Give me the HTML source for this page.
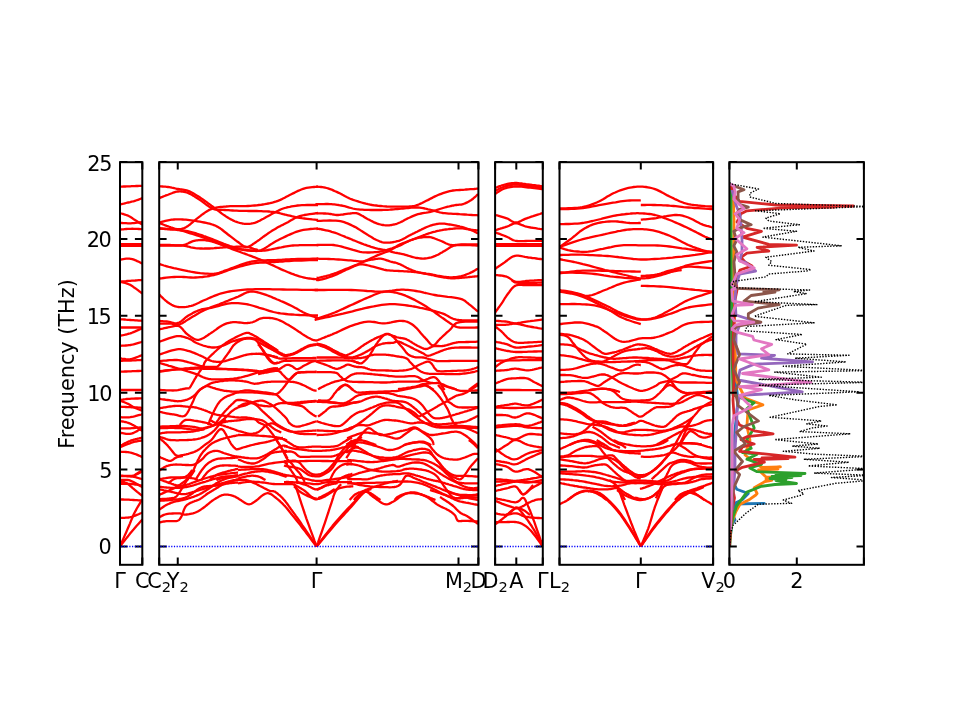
<!DOCTYPE html>
<html><head><meta charset="utf-8"><style>
html,body{margin:0;padding:0;background:#fff;}
svg{display:block;}
.t{font-family:"DejaVu Sans","Liberation Sans",sans-serif;font-size:20.8px;fill:#000;}
.s{font-size:14.6px;}
</style></head><body>
<svg width="960" height="720" viewBox="0 0 960 720">
<defs><clipPath id="bc"><rect x="120.0" y="162.2" width="22.30" height="402.6"/><rect x="159.2" y="162.2" width="319.20" height="402.6"/><rect x="495.1" y="162.2" width="47.70" height="402.6"/><rect x="559.5" y="162.2" width="153.60" height="402.6"/></clipPath></defs><g clip-path="url(#bc)" fill="none" stroke="#ff0000" stroke-width="2.3" stroke-linejoin="round" stroke-linecap="butt"><path d="M120.0,186.7L120.9,186.7L122.1,186.6L123.6,186.5L125.2,186.5L126.9,186.4L128.6,186.3L130.2,186.3L131.7,186.2L133.2,186.1L134.7,186.1L136.2,186.0L137.7,186.0L139.1,185.9L140.4,185.9L141.5,185.8L142.3,185.8"/><path d="M120.0,204.4L120.7,204.3L121.5,204.1L122.6,203.8L123.7,203.6L124.9,203.3L126.1,203.0L127.3,202.7L128.3,202.5L129.2,202.3L130.1,202.1L130.9,201.9L131.7,201.7L132.5,201.5L133.3,201.3L134.1,201.1L135.0,200.8L135.9,200.5L137.0,200.2L138.0,199.8L139.1,199.4L140.1,199.0L141.0,198.7L141.7,198.4L142.3,198.2"/><path d="M120.0,213.1L120.7,213.3L121.5,213.5L122.6,213.8L123.7,214.2L124.9,214.6L126.1,215.0L127.3,215.4L128.3,215.8L129.2,216.3L130.1,216.7L130.9,217.2L131.7,217.8L132.5,218.3L133.3,218.9L134.1,219.4L135.0,220.0L135.9,220.6L137.0,221.2L138.0,221.9L139.1,222.6L140.1,223.2L141.0,223.8L141.7,224.2L142.3,224.6"/><path d="M120.0,222.9L120.8,222.9L121.9,223.0L123.2,223.1L124.7,223.2L126.2,223.2L127.8,223.3L129.3,223.3L130.8,223.3L132.3,223.2L133.9,223.1L135.6,222.9L137.2,222.7L138.8,222.5L140.2,222.4L141.4,222.2L142.3,222.1"/><path d="M120.0,229.6L120.8,229.5L121.9,229.4L123.2,229.3L124.7,229.1L126.2,229.0L127.8,228.9L129.3,228.8L130.8,228.8L132.3,228.7L133.9,228.8L135.6,228.8L137.2,228.9L138.8,229.0L140.2,229.1L141.4,229.2L142.3,229.2"/><path d="M120.0,244.1L120.8,244.1L122.0,244.1L123.3,244.1L124.8,244.1L126.4,244.1L128.0,244.1L129.5,244.1L131.0,244.1L132.5,244.1L134.1,244.1L135.7,244.1L137.3,244.1L138.9,244.1L140.3,244.1L141.4,244.1L142.3,244.1"/><path d="M120.0,245.9L120.8,245.9L122.0,245.9L123.3,245.9L124.8,245.9L126.4,245.9L128.0,245.9L129.5,245.9L131.0,245.9L132.5,245.9L134.1,245.9L135.7,245.9L137.3,245.9L138.9,245.9L140.3,245.9L141.4,245.9L142.3,245.9"/><path d="M120.0,259.6L120.8,259.5L121.9,259.3L123.2,259.1L124.7,258.9L126.2,258.7L127.8,258.6L129.3,258.6L130.8,258.8L132.3,259.1L133.9,259.7L135.6,260.3L137.2,261.1L138.8,261.8L140.2,262.5L141.4,263.1L142.3,263.5"/><path d="M120.0,281.7L120.8,281.6L121.8,281.5L123.0,281.4L124.4,281.3L125.9,281.2L127.4,281.0L128.9,280.9L130.3,280.8L131.8,280.7L133.5,280.6L135.2,280.5L136.9,280.3L138.6,280.2L140.1,280.1L141.4,280.1L142.3,280.0"/><path d="M120.0,281.7L120.7,281.9L121.6,282.1L122.7,282.4L123.9,282.7L125.2,283.0L126.5,283.4L127.7,283.8L128.7,284.2L129.6,284.6L130.5,285.1L131.3,285.6L132.1,286.1L132.9,286.6L133.7,287.2L134.5,287.7L135.3,288.3L136.2,288.9L137.2,289.6L138.2,290.4L139.2,291.2L140.2,291.9L141.0,292.5L141.8,293.1L142.3,293.5"/><path d="M120.0,319.2L120.8,319.3L121.8,319.3L123.0,319.4L124.4,319.5L125.9,319.7L127.4,319.8L128.9,319.9L130.3,320.0L131.8,320.1L133.5,320.2L135.2,320.3L136.9,320.4L138.6,320.6L140.1,320.7L141.4,320.7L142.3,320.8"/><path d="M120.0,327.5L120.8,327.5L122.0,327.5L123.3,327.5L124.8,327.5L126.4,327.5L128.0,327.5L129.5,327.5L131.0,327.5L132.5,327.5L134.1,327.5L135.7,327.5L137.3,327.5L138.9,327.5L140.3,327.5L141.4,327.5L142.3,327.5"/><path d="M120.0,335.8L120.8,335.6L121.8,335.4L123.0,335.2L124.4,334.9L125.9,334.5L127.4,334.2L128.9,333.7L130.3,333.3L131.8,332.8L133.5,332.1L135.2,331.4L136.9,330.6L138.6,329.9L140.1,329.3L141.4,328.7L142.3,328.3"/><path d="M120.0,345.8L120.8,345.8L121.8,345.7L123.0,345.7L124.4,345.6L125.9,345.5L127.4,345.4L128.9,345.2L130.3,345.0L131.8,344.7L133.5,344.3L135.2,343.8L136.9,343.3L138.6,342.8L140.1,342.4L141.4,342.0L142.3,341.7"/><path d="M120.0,358.3L120.8,358.4L121.8,358.6L123.0,358.8L124.4,359.0L125.9,359.2L127.4,359.3L128.9,359.3L130.3,359.2L131.8,358.9L133.5,358.4L135.2,357.8L136.9,357.2L138.6,356.5L140.1,355.9L141.4,355.4L142.3,355.0"/><path d="M120.0,360.8L120.8,360.8L122.0,360.8L123.3,360.7L124.8,360.7L126.4,360.6L128.0,360.6L129.5,360.5L131.0,360.5L132.5,360.4L134.1,360.4L135.7,360.3L137.3,360.2L138.9,360.2L140.3,360.1L141.4,360.0L142.3,360.0"/><path d="M120.0,371.7L120.8,371.7L122.0,371.6L123.3,371.6L124.8,371.5L126.4,371.5L128.0,371.4L129.5,371.4L131.0,371.3L132.5,371.2L134.1,371.2L135.7,371.1L137.3,371.0L138.9,371.0L140.3,370.9L141.4,370.8L142.3,370.8"/><path d="M120.0,390.0L120.8,390.0L122.0,390.0L123.3,390.0L124.8,390.0L126.4,390.0L128.0,390.0L129.5,390.0L131.0,390.0L132.5,390.0L134.1,390.0L135.7,390.0L137.3,390.0L138.9,390.0L140.3,390.0L141.4,390.0L142.3,390.0"/><path d="M120.0,400.0L120.6,399.9L121.3,399.8L122.2,399.6L123.2,399.5L124.3,399.3L125.5,399.2L126.7,399.0L128.1,398.9L129.7,398.8L131.6,398.7L133.6,398.6L135.7,398.5L137.7,398.5L139.6,398.4L141.2,398.3L142.3,398.3"/><path d="M120.0,400.6L120.6,400.9L121.5,401.2L122.6,401.6L123.7,402.0L124.9,402.5L126.1,403.0L127.2,403.5L128.1,403.9L128.9,404.3L129.6,404.7L130.3,405.1L130.9,405.5L131.5,405.9L132.1,406.4L132.9,406.8L133.7,407.2L134.7,407.7L135.8,408.2L137.1,408.7L138.3,409.2L139.6,409.7L140.7,410.1L141.6,410.5L142.3,410.8"/><path d="M120.0,406.7L120.8,406.7L121.8,406.8L123.0,406.8L124.4,406.9L125.9,407.0L127.4,407.1L128.9,407.1L130.3,407.2L131.8,407.3L133.5,407.4L135.2,407.4L136.9,407.5L138.6,407.6L140.1,407.7L141.4,407.8L142.3,407.8"/><path d="M120.0,417.2L120.8,417.2L121.8,417.3L123.0,417.3L124.4,417.4L125.9,417.4L127.4,417.4L128.9,417.3L130.3,417.2L131.8,416.9L133.5,416.6L135.2,416.2L136.9,415.7L138.6,415.2L140.1,414.8L141.4,414.5L142.3,414.2"/><path d="M120.0,421.1L120.6,421.2L121.5,421.4L122.5,421.5L123.6,421.7L124.8,422.0L126.0,422.2L127.1,422.5L128.1,422.8L129.0,423.1L129.9,423.5L130.7,423.9L131.5,424.2L132.3,424.7L133.1,425.1L133.9,425.6L134.8,426.1L135.8,426.7L136.8,427.3L137.9,428.0L139.0,428.8L140.0,429.5L140.9,430.1L141.7,430.6L142.3,431.0"/><path d="M120.0,428.3L120.8,428.3L121.8,428.3L123.0,428.3L124.4,428.4L125.9,428.4L127.4,428.4L128.9,428.4L130.3,428.3L131.8,428.2L133.5,428.1L135.2,427.9L136.9,427.7L138.6,427.6L140.1,427.4L141.4,427.3L142.3,427.2"/><path d="M120.0,432.8L120.6,432.9L121.5,433.0L122.6,433.2L123.7,433.4L124.9,433.6L126.1,433.8L127.2,433.9L128.1,433.9L128.9,433.9L129.6,433.9L130.3,433.8L130.9,433.7L131.5,433.6L132.1,433.4L132.9,433.1L133.7,432.8L134.7,432.3L135.8,431.7L137.1,431.1L138.3,430.3L139.6,429.6L140.7,428.9L141.6,428.4L142.3,428.0"/><path d="M120.0,446.1L120.6,445.7L121.5,445.3L122.5,444.7L123.6,444.0L124.8,443.4L126.0,442.8L127.1,442.2L128.1,441.7L129.0,441.3L129.9,441.0L130.7,440.7L131.5,440.4L132.3,440.1L133.1,439.9L133.9,439.6L134.8,439.4L135.8,439.1L136.8,438.9L137.9,438.6L139.0,438.4L140.0,438.1L140.9,437.9L141.7,437.7L142.3,437.6"/><path d="M120.0,447.2L120.6,446.9L121.5,446.6L122.5,446.2L123.6,445.7L124.8,445.2L126.0,444.7L127.1,444.3L128.1,443.9L129.0,443.6L129.9,443.3L130.7,443.0L131.5,442.7L132.3,442.4L133.1,442.2L133.9,441.9L134.8,441.7L135.8,441.5L136.8,441.3L137.9,441.1L139.0,440.9L140.0,440.8L140.9,440.6L141.7,440.5L142.3,440.4"/><path d="M120.0,451.7L120.6,451.7L121.5,451.8L122.5,451.8L123.6,451.8L124.8,451.9L126.0,452.0L127.1,452.1L128.1,452.2L129.0,452.3L129.9,452.5L130.7,452.7L131.5,452.9L132.3,453.1L133.1,453.3L133.9,453.6L134.8,453.9L135.8,454.2L136.8,454.6L137.9,455.1L139.0,455.6L140.0,456.0L140.9,456.4L141.7,456.8L142.3,457.0"/><path d="M134.8,475.0L142.3,470.2"/><path d="M120.0,475.6L121.0,475.6L122.3,475.7L123.9,475.8L125.7,475.9L127.5,475.9L129.4,475.9L131.1,475.8L132.6,475.6L134.0,475.3L135.5,474.8L136.9,474.2L138.2,473.6L139.5,472.9L140.6,472.3L141.6,471.8L142.3,471.5"/><path d="M120.0,476.1L121.0,476.1L122.3,476.2L123.9,476.2L125.7,476.2L127.5,476.3L129.4,476.4L131.1,476.5L132.6,476.7L134.0,476.9L135.5,477.2L136.9,477.6L138.2,478.0L139.5,478.4L140.6,478.7L141.6,479.0L142.3,479.2"/><path d="M120.0,480.0L120.8,480.0L121.8,480.0L123.0,479.9L124.4,479.9L125.9,479.9L127.4,480.0L128.9,480.2L130.3,480.6L131.8,481.2L133.5,482.0L135.2,482.9L136.9,483.9L138.6,484.9L140.1,485.9L141.4,486.6L142.3,487.2"/><path d="M120.0,482.2L120.5,482.2L121.0,482.2L121.7,482.1L122.5,482.1L123.4,482.1L124.2,482.2L125.1,482.5L126.0,482.8L126.9,483.3L127.8,483.9L128.7,484.6L129.7,485.4L130.7,486.3L131.7,487.2L132.7,488.1L133.7,488.9L134.8,489.8L136.0,490.8L137.2,491.8L138.5,492.8L139.7,493.8L140.7,494.7L141.6,495.4L142.3,496.0"/><path d="M120.0,483.9L120.8,483.9L121.8,483.9L123.0,483.8L124.4,483.8L125.9,483.8L127.4,483.8L128.9,483.8L130.3,483.9L131.8,484.0L133.5,484.2L135.2,484.5L136.9,484.7L138.6,485.0L140.1,485.3L141.4,485.5L142.3,485.6"/><path d="M120.0,499.4L120.8,499.4L121.8,499.5L123.0,499.5L124.4,499.6L125.9,499.6L127.4,499.7L128.9,499.7L130.3,499.8L131.8,499.9L133.5,500.0L135.2,500.1L136.9,500.2L138.6,500.3L140.1,500.4L141.4,500.5L142.3,500.6"/><path d="M120.0,517.8L120.8,517.8L121.8,517.8L123.0,517.8L124.4,517.8L125.9,517.7L127.4,517.6L128.9,517.5L130.3,517.2L131.8,516.8L133.5,516.2L135.2,515.6L136.9,514.9L138.6,514.2L140.1,513.5L141.4,513.0L142.3,512.6"/><path d="M120.0,546.5L120.6,545.0L121.5,543.1L122.5,540.7L123.6,538.1L124.8,535.4L126.0,532.7L127.1,530.1L128.1,527.8L129.0,525.7L129.9,523.6L130.7,521.6L131.5,519.6L132.3,517.7L133.1,515.8L133.9,514.0L134.8,512.2L135.8,510.4L136.8,508.5L137.9,506.7L139.0,504.9L140.0,503.2L140.9,501.7L141.7,500.5L142.3,499.5"/><path d="M120.0,546.5L120.8,545.5L121.8,544.1L123.0,542.5L124.4,540.8L125.9,538.9L127.4,537.0L128.9,535.1L130.3,533.3L131.8,531.5L133.5,529.6L135.2,527.6L136.9,525.6L138.6,523.7L140.1,522.0L141.4,520.6L142.3,519.5"/><path d="M158.0,222.5L158.8,222.8L159.8,223.2L161.0,223.7L162.4,224.2L163.8,224.8L165.3,225.4L166.7,225.9L168.0,226.3L169.3,226.8L170.5,227.2L171.8,227.7L173.1,228.1L174.4,228.5L175.6,228.8L176.8,229.1L178.0,229.2L179.1,229.2L180.2,229.1L181.2,229.0L182.2,228.8L183.2,228.4L184.2,228.1L185.2,227.6L186.3,227.0L187.5,226.3L188.7,225.4L190.0,224.5L191.2,223.4L192.5,222.3L193.8,221.2L195.1,220.2L196.3,219.2L197.6,218.2L198.9,217.2L200.2,216.2L201.4,215.2L202.7,214.2L204.0,213.3L205.2,212.4L206.3,211.7L207.4,211.0L208.4,210.4L209.4,209.9L210.3,209.5L211.2,209.1L212.3,208.7L213.4,208.3L214.7,208.0L216.0,207.7L217.5,207.4L219.0,207.2L220.6,207.0L222.3,206.8L224.1,206.6L226.0,206.5L228.0,206.3L230.2,206.2L232.6,206.2L235.2,206.2L237.8,206.2L240.5,206.2L243.1,206.2L245.6,206.1L248.0,206.0L250.3,205.9L252.5,205.7L254.6,205.5L256.8,205.3L258.8,205.0L260.8,204.8L262.8,204.5L264.7,204.2L266.5,203.8L268.2,203.5L269.9,203.2L271.5,202.8L273.1,202.4L274.7,201.9L276.4,201.4L278.0,200.8L279.7,200.2L281.3,199.4L283.0,198.5L284.7,197.7L286.3,196.8L288.0,195.9L289.7,195.0L291.3,194.2L293.0,193.4L294.7,192.6L296.3,191.7L298.0,190.9L299.7,190.2L301.3,189.5L303.0,188.9L304.7,188.3L306.4,187.9L308.3,187.6L310.3,187.3L312.2,187.1L314.0,187.0L315.6,186.9L317.0,186.8L318.0,186.7"/><path d="M158.0,186.2L158.8,186.2L159.8,186.3L161.0,186.4L162.4,186.5L163.8,186.6L165.3,186.7L166.7,186.8L168.0,187.0L169.2,187.2L170.5,187.4L171.8,187.7L173.0,187.9L174.2,188.2L175.5,188.5L176.8,188.8L178.0,189.0L179.2,189.2L180.5,189.4L181.7,189.5L182.9,189.6L184.1,189.8L185.4,190.1L186.7,190.4L188.0,190.8L189.4,191.4L190.8,192.1L192.2,192.8L193.6,193.6L195.1,194.5L196.6,195.4L198.1,196.3L199.7,197.3L201.3,198.4L202.9,199.5L204.6,200.7L206.3,201.9L208.0,203.2L209.7,204.4L211.4,205.7L213.0,206.8L214.5,208.0L216.1,209.1L217.6,210.3L219.0,211.4L220.5,212.5L221.9,213.6L223.3,214.6L224.7,215.5L226.0,216.4L227.3,217.2L228.5,218.0L229.8,218.7L231.0,219.4L232.2,220.0L233.4,220.6L234.7,221.2L235.9,221.7L237.2,222.1L238.4,222.5L239.7,222.9L240.9,223.2L242.2,223.5L243.4,223.7L244.7,223.8L245.9,223.9L247.2,223.9L248.4,223.9L249.7,223.8L250.9,223.7L252.2,223.4L253.4,223.2L254.7,222.8L255.9,222.4L257.2,221.9L258.4,221.3L259.7,220.7L260.9,220.0L262.2,219.3L263.4,218.7L264.7,218.0L265.9,217.3L267.2,216.6L268.4,215.9L269.7,215.2L270.9,214.5L272.2,213.8L273.4,213.1L274.7,212.5L275.9,211.9L277.0,211.3L278.2,210.7L279.4,210.1L280.6,209.5L281.8,209.0L283.2,208.5L284.7,208.0L286.3,207.6L288.0,207.1L289.8,206.8L291.6,206.4L293.6,206.1L295.6,205.8L297.6,205.5L299.7,205.3L301.9,205.2L304.4,205.1L307.1,205.0L309.8,205.0L312.3,205.0L314.6,205.0L316.6,205.0L318.0,205.0"/><path d="M158.0,198.7L158.8,198.4L159.8,197.9L161.0,197.4L162.4,196.9L163.8,196.3L165.3,195.7L166.7,195.2L168.0,194.7L169.2,194.2L170.5,193.7L171.8,193.2L173.0,192.7L174.2,192.3L175.5,191.9L176.8,191.7L178.0,191.5L179.2,191.4L180.5,191.4L181.7,191.5L182.9,191.6L184.1,191.8L185.4,192.1L186.7,192.5L188.0,193.0L189.4,193.6L190.8,194.3L192.2,195.1L193.6,195.9L195.1,196.9L196.6,197.8L198.1,198.8L199.7,199.8L201.3,200.9L202.9,202.1L204.6,203.4L206.3,204.7L208.0,205.9L209.7,207.1L211.4,208.1L213.0,208.8L214.5,209.4L215.9,209.7L217.3,209.9L218.6,209.9L220.0,209.9L221.4,209.9L223.0,209.9L224.7,210.0L226.5,210.1L228.4,210.2L230.4,210.4L232.5,210.5L234.6,210.6L236.8,210.7L239.1,210.8L241.3,210.8L243.7,210.9L246.3,210.9L248.9,211.0L251.5,211.0L254.2,211.0L256.7,211.0L259.1,211.1L261.3,211.2L263.3,211.3L265.2,211.3L267.0,211.4L268.6,211.5L270.2,211.7L271.7,211.8L273.2,212.0L274.7,212.2L276.0,212.4L277.3,212.6L278.4,212.9L279.6,213.2L280.7,213.5L281.9,213.8L283.2,214.2L284.7,214.5L286.3,214.9L288.0,215.3L289.8,215.7L291.6,216.2L293.6,216.6L295.6,217.1L297.6,217.5L299.7,217.8L301.9,218.2L304.4,218.5L307.1,218.8L309.8,219.1L312.3,219.4L314.6,219.6L316.6,219.8L318.0,220.0"/><path d="M158.0,223.0L158.8,222.8L159.8,222.5L161.0,222.1L162.4,221.7L163.8,221.3L165.3,220.9L166.7,220.6L168.0,220.3L169.2,220.1L170.4,219.9L171.6,219.7L172.8,219.6L174.0,219.5L175.3,219.4L176.6,219.4L178.0,219.3L179.5,219.3L181.0,219.4L182.6,219.5L184.2,219.6L185.9,219.7L187.7,219.9L189.5,220.1L191.3,220.3L193.3,220.6L195.4,220.9L197.6,221.3L199.9,221.7L202.1,222.1L204.2,222.5L206.2,222.9L208.0,223.3L209.6,223.7L211.0,224.1L212.2,224.5L213.4,224.9L214.5,225.3L215.7,225.8L216.8,226.4L218.0,227.0L219.2,227.8L220.5,228.6L221.8,229.5L223.0,230.5L224.2,231.5L225.5,232.5L226.8,233.5L228.0,234.5L229.3,235.5L230.5,236.4L231.8,237.4L233.1,238.4L234.4,239.4L235.6,240.3L236.8,241.2L238.0,242.0L239.1,242.8L240.2,243.7L241.2,244.5L242.3,245.3L243.3,246.0L244.3,246.6L245.3,247.0L246.3,247.2L247.4,247.1L248.4,246.9L249.4,246.4L250.4,245.9L251.4,245.2L252.5,244.5L253.5,243.7L254.7,243.0L255.8,242.2L257.0,241.4L258.3,240.5L259.6,239.6L260.8,238.6L262.1,237.7L263.4,236.7L264.7,235.8L265.9,235.0L267.1,234.1L268.3,233.3L269.6,232.4L270.8,231.6L272.0,230.8L273.3,230.0L274.7,229.2L276.0,228.4L277.4,227.6L278.8,226.8L280.3,226.1L281.8,225.3L283.3,224.6L284.8,223.8L286.3,223.0L287.9,222.2L289.4,221.3L291.0,220.3L292.6,219.4L294.2,218.5L295.9,217.6L297.7,216.8L299.7,216.2L301.8,215.6L304.3,215.0L307.0,214.6L309.7,214.2L312.2,213.8L314.6,213.5L316.6,213.2L318.0,213.0"/><path d="M158.0,228.3L158.8,228.4L159.8,228.5L161.0,228.6L162.4,228.8L163.8,228.9L165.3,229.1L166.7,229.2L168.0,229.3L169.2,229.4L170.4,229.5L171.6,229.5L172.8,229.6L174.0,229.7L175.3,229.7L176.6,229.9L178.0,230.0L179.5,230.2L181.0,230.3L182.6,230.5L184.2,230.7L185.9,230.9L187.7,231.2L189.5,231.6L191.3,232.0L193.3,232.5L195.3,233.1L197.3,233.8L199.5,234.5L201.6,235.2L203.8,236.0L205.9,236.7L208.0,237.5L210.1,238.3L212.2,239.1L214.4,240.0L216.5,240.9L218.7,241.8L220.7,242.6L222.7,243.4L224.7,244.2L226.5,244.8L228.2,245.4L229.9,246.0L231.5,246.5L233.1,247.0L234.7,247.5L236.4,247.9L238.0,248.3L239.7,248.7L241.4,249.1L243.1,249.4L244.9,249.7L246.6,250.0L248.2,250.2L249.8,250.4L251.3,250.5L252.7,250.6L254.0,250.7L255.2,250.8L256.3,250.9L257.5,250.9L258.7,250.7L259.9,250.4L261.3,250.0L262.8,249.3L264.4,248.5L266.1,247.5L267.8,246.4L269.5,245.2L271.3,244.1L273.0,243.0L274.7,242.0L276.3,241.1L278.0,240.2L279.7,239.3L281.3,238.5L283.0,237.7L284.7,236.9L286.3,236.1L288.0,235.3L289.6,234.6L291.3,233.9L292.9,233.2L294.5,232.5L296.1,231.9L297.8,231.3L299.5,230.8L301.3,230.3L303.4,229.9L305.7,229.6L308.1,229.3L310.5,229.0L312.8,228.8L314.9,228.6L316.7,228.5L318.0,228.3"/><path d="M158.0,228.3L158.8,228.4L159.8,228.4L161.0,228.5L162.4,228.5L163.8,228.6L165.3,228.7L166.7,228.8L168.0,228.8L169.2,228.9L170.3,228.9L171.5,228.9L172.6,229.0L173.8,229.0L175.0,229.2L176.4,229.4L178.0,229.7L179.8,230.1L181.7,230.6L183.8,231.2L185.9,231.9L188.1,232.6L190.3,233.3L192.5,234.0L194.7,234.7L196.8,235.3L198.8,236.0L200.9,236.7L203.0,237.4L205.1,238.1L207.2,238.8L209.3,239.5L211.3,240.3L213.4,241.2L215.5,242.0L217.6,243.0L219.7,243.9L221.7,244.8L223.8,245.7L225.9,246.6L228.0,247.5L230.1,248.3L232.2,249.1L234.4,249.9L236.5,250.7L238.7,251.5L240.7,252.2L242.7,253.0L244.7,253.7L246.5,254.3L248.2,255.0L249.9,255.6L251.5,256.2L253.1,256.8L254.7,257.4L256.4,258.0L258.0,258.7L259.7,259.4L261.3,260.1L263.0,260.8L264.7,261.6L266.3,262.4L268.0,263.1L269.7,263.9L271.3,264.7L273.0,265.4L274.7,266.2L276.3,267.0L278.0,267.8L279.7,268.6L281.3,269.4L283.0,270.1L284.7,270.8L286.4,271.5L288.1,272.2L289.8,272.9L291.5,273.6L293.2,274.2L294.9,274.8L296.5,275.3L298.0,275.8L299.4,276.3L300.7,276.7L302.0,277.0L303.2,277.3L304.4,277.6L305.6,277.9L306.8,278.1L308.0,278.3L309.3,278.5L310.7,278.7L312.2,278.9L313.6,279.0L315.0,279.1L316.2,279.2L317.2,279.3L318.0,279.3"/><path d="M158.0,245.0L158.7,245.0L159.7,245.0L160.8,245.0L162.1,245.0L163.4,245.0L164.9,245.0L166.4,245.0L168.0,245.0L169.7,245.0L171.5,245.1L173.5,245.2L175.5,245.3L177.5,245.4L179.5,245.4L181.3,245.3L183.0,245.2L184.5,244.8L185.9,244.4L187.2,243.8L188.4,243.3L189.6,242.6L190.7,242.1L191.8,241.6L193.0,241.2L194.1,240.9L195.3,240.6L196.3,240.4L197.4,240.3L198.5,240.1L199.5,240.1L200.6,240.0L201.7,240.0L202.8,240.0L203.8,240.1L204.9,240.2L206.0,240.3L207.1,240.5L208.2,240.7L209.3,240.9L210.5,241.2L211.7,241.5L213.0,241.8L214.3,242.2L215.6,242.7L216.9,243.1L218.1,243.5L219.4,244.0L220.5,244.3L221.5,244.7L222.5,245.0L223.4,245.3L224.2,245.6L225.1,245.9L226.0,246.2L227.0,246.5L228.0,246.8L229.1,247.1L230.2,247.4L231.4,247.7L232.6,248.1L233.9,248.3L235.2,248.6L236.6,248.9L238.0,249.2L239.5,249.4L241.1,249.7L242.8,249.9L244.5,250.2L246.2,250.4L247.9,250.6L249.6,250.7L251.3,250.8L253.0,250.9L254.7,250.9L256.3,251.0L258.0,250.9L259.7,250.9L261.3,250.8L263.0,250.7L264.7,250.5L266.3,250.3L268.0,250.0L269.7,249.7L271.3,249.4L273.0,249.0L274.7,248.7L276.3,248.3L278.0,248.0L279.7,247.7L281.3,247.4L283.0,247.0L284.7,246.7L286.3,246.4L288.0,246.1L289.7,245.9L291.3,245.7L293.0,245.5L294.7,245.4L296.3,245.3L298.0,245.3L299.7,245.2L301.3,245.2L303.0,245.2L304.7,245.2L306.4,245.1L308.3,245.1L310.3,245.1L312.2,245.1L314.0,245.1L315.6,245.2L317.0,245.2L318.0,245.2"/><path d="M158.0,245.7L158.7,245.7L159.7,245.7L160.8,245.7L162.1,245.7L163.4,245.7L164.9,245.7L166.4,245.7L168.0,245.7L169.7,245.6L171.5,245.6L173.4,245.6L175.3,245.5L177.3,245.5L179.3,245.5L181.2,245.5L183.0,245.7L184.7,245.9L186.3,246.2L187.9,246.5L189.4,246.9L190.9,247.3L192.4,247.6L194.0,247.9L195.5,248.2L197.1,248.3L198.6,248.4L200.2,248.5L201.8,248.5L203.3,248.6L204.9,248.5L206.4,248.5L208.0,248.5L209.6,248.5L211.1,248.4L212.7,248.3L214.2,248.2L215.8,248.0L217.4,247.9L218.9,247.8L220.5,247.7L222.1,247.6L223.6,247.4L225.2,247.3L226.7,247.2L228.3,247.1L229.8,247.0L231.4,246.9L233.0,246.8L234.7,246.8L236.4,246.7L238.2,246.7L240.0,246.7L241.8,246.7L243.4,246.7L245.0,246.7L246.3,246.8L247.5,247.0L248.5,247.2L249.4,247.4L250.2,247.7L250.9,247.9L251.6,248.2L252.3,248.4L253.0,248.7L253.7,248.9L254.5,249.1L255.2,249.3L255.9,249.4L256.6,249.6L257.1,249.8L257.6,249.9L258.0,250.0"/><path d="M158.0,263.7L158.8,263.9L159.8,264.2L161.1,264.6L162.5,265.0L163.9,265.5L165.4,265.9L166.7,266.3L168.0,266.7L169.1,267.0L170.0,267.2L170.9,267.4L171.8,267.6L172.7,267.8L173.8,268.1L175.1,268.3L176.7,268.7L178.5,269.1L180.7,269.6L183.0,270.1L185.5,270.6L188.0,271.2L190.6,271.7L193.1,272.1L195.5,272.5L197.9,272.8L200.3,273.1L202.8,273.3L205.2,273.6L207.6,273.7L209.9,273.8L212.1,273.8L214.2,273.7L216.0,273.5L217.6,273.2L219.0,272.8L220.4,272.3L221.8,271.8L223.2,271.3L224.8,270.6L226.7,270.0L228.8,269.3L231.1,268.4L233.5,267.5L236.1,266.5L238.6,265.6L241.1,264.6L243.4,263.8L245.5,263.2L247.3,262.6L248.9,262.2L250.3,261.8L251.7,261.5L253.0,261.3L254.5,261.1L256.1,260.9L258.0,260.7L260.2,260.5L262.6,260.4L265.2,260.3L267.9,260.2L270.7,260.2L273.3,260.1L275.8,260.1L278.0,260.0L279.9,259.9L281.5,259.8L282.9,259.7L284.3,259.6L285.6,259.5L287.2,259.4L289.1,259.3L291.3,259.2L294.2,259.1L297.7,259.0L301.5,258.9L305.5,258.9L309.4,258.8L312.9,258.7L315.9,258.7L318.0,258.7"/><path d="M158.0,278.7L159.4,278.5L161.4,278.3L163.6,278.0L166.2,277.7L168.8,277.4L171.6,277.2L174.2,277.0L176.7,276.8L179.0,276.8L181.4,276.9L183.7,277.0L186.1,277.2L188.4,277.4L190.8,277.5L193.2,277.6L195.5,277.5L197.8,277.4L200.2,277.2L202.5,277.0L204.8,276.7L207.2,276.4L209.5,276.0L211.8,275.5L214.2,275.0L216.5,274.4L218.9,273.7L221.2,272.8L223.6,272.0L225.9,271.1L228.3,270.2L230.7,269.4L233.0,268.7L235.4,268.0L237.8,267.2L240.3,266.5L242.7,265.8L245.1,265.2L247.4,264.6L249.6,264.1L251.7,263.7L253.5,263.3L255.2,263.1L256.7,262.9L258.2,262.8L259.7,262.7L261.1,262.7L262.6,262.6L264.2,262.5L265.8,262.4L267.5,262.3L269.3,262.2L271.0,262.2L272.8,262.1L274.5,262.0L276.3,261.9L278.0,261.8L279.6,261.7L281.1,261.6L282.5,261.5L283.9,261.3L285.4,261.2L287.1,261.1L289.0,261.0L291.3,260.8L294.2,260.7L297.7,260.6L301.5,260.5L305.5,260.4L309.4,260.2L312.9,260.1L315.9,260.1L318.0,260.0"/><path d="M158.0,293.3L158.8,294.1L159.8,295.1L161.0,296.3L162.4,297.6L163.8,299.0L165.3,300.3L166.7,301.5L168.0,302.5L169.2,303.3L170.4,304.1L171.6,304.8L172.8,305.4L174.0,305.9L175.3,306.4L176.6,306.7L178.0,307.0L179.5,307.2L181.1,307.2L182.8,307.2L184.5,307.1L186.2,306.9L187.9,306.6L189.6,306.2L191.3,305.8L193.0,305.3L194.6,304.7L196.2,304.0L197.8,303.3L199.4,302.5L201.1,301.6L202.8,300.8L204.7,300.0L206.6,299.2L208.6,298.3L210.7,297.4L212.8,296.5L214.9,295.6L217.1,294.8L219.2,294.0L221.3,293.3L223.4,292.8L225.4,292.3L227.4,291.9L229.5,291.5L231.5,291.2L233.6,290.9L235.8,290.6L238.0,290.3L240.3,290.1L242.6,289.9L245.0,289.7L247.5,289.5L250.0,289.4L252.6,289.3L255.2,289.2L258.0,289.2L260.8,289.1L263.7,289.1L266.6,289.2L269.6,289.2L272.7,289.3L275.9,289.4L279.4,289.4L283.0,289.5L287.1,289.6L291.9,289.6L296.9,289.7L302.1,289.8L307.0,289.8L311.5,289.9L315.2,290.0L318.0,290.0"/><path d="M158.0,320.8L158.8,320.9L159.8,321.0L161.0,321.1L162.4,321.2L163.8,321.3L165.3,321.4L166.7,321.5L168.0,321.7L169.2,321.9L170.5,322.2L171.8,322.5L173.0,322.8L174.2,323.1L175.5,323.3L176.8,323.2L178.0,323.0L179.2,322.5L180.5,321.8L181.7,320.9L182.9,319.9L184.1,318.8L185.4,317.7L186.7,316.7L188.0,315.8L189.4,315.0L190.8,314.2L192.2,313.4L193.6,312.6L195.1,311.9L196.6,311.2L198.1,310.6L199.7,310.0L201.2,309.5L202.8,309.2L204.4,308.9L206.0,308.6L207.7,308.4L209.4,308.2L211.2,307.9L213.0,307.5L214.9,307.0L216.9,306.5L219.0,305.8L221.1,305.2L223.3,304.6L225.4,304.1L227.6,303.6L229.7,303.3L231.8,303.2L233.9,303.1L236.0,303.1L238.1,303.2L240.2,303.4L242.3,303.6L244.3,303.9L246.3,304.2L248.3,304.5L250.2,305.0L252.0,305.5L253.8,306.0L255.7,306.6L257.5,307.2L259.4,307.8L261.3,308.3L263.3,308.9L265.3,309.5L267.2,310.2L269.2,310.8L271.3,311.4L273.4,312.0L275.7,312.5L278.0,313.0L280.5,313.4L283.1,313.7L285.9,314.0L288.7,314.3L291.6,314.5L294.4,314.7L297.1,314.8L299.7,315.0L302.2,315.1L304.9,315.2L307.6,315.3L310.2,315.4L312.6,315.4L314.8,315.4L316.6,315.5L318.0,315.5"/><path d="M158.0,323.7L159.1,323.7L160.5,323.7L162.2,323.6L164.1,323.6L166.1,323.6L168.0,323.6L169.8,323.6L171.3,323.7L172.6,323.8L173.7,324.0L174.7,324.2L175.6,324.4L176.5,324.6L177.5,324.7L178.5,324.6L179.7,324.3L181.0,323.8L182.3,323.2L183.7,322.3L185.2,321.4L186.7,320.4L188.2,319.4L189.8,318.4L191.3,317.5L192.9,316.6L194.5,315.7L196.1,314.7L197.7,313.7L199.3,312.8L201.1,311.8L202.8,310.9L204.7,310.0L206.6,309.1L208.6,308.3L210.7,307.4L212.8,306.6L214.9,305.8L217.1,305.0L219.2,304.2L221.3,303.3L223.5,302.5L225.6,301.6L227.8,300.8L230.0,299.9L232.1,299.0L234.2,298.2L236.2,297.4L238.0,296.7L239.7,295.9L241.3,295.1L242.7,294.4L244.1,293.6L245.5,293.0L246.9,292.4L248.2,292.0L249.7,291.7L251.1,291.5L252.5,291.5L254.0,291.7L255.4,291.9L256.8,292.2L258.3,292.5L259.8,292.9L261.3,293.3L262.9,293.8L264.5,294.3L266.1,294.9L267.7,295.5L269.3,296.1L271.1,296.8L272.8,297.6L274.7,298.3L276.6,299.2L278.7,300.0L280.8,301.0L283.0,301.9L285.2,302.9L287.3,303.9L289.4,304.9L291.3,305.8L293.2,306.8L294.9,307.7L296.6,308.6L298.2,309.6L299.8,310.5L301.4,311.3L303.0,312.2L304.7,313.0L306.4,313.8L308.3,314.6L310.3,315.4L312.2,316.1L314.0,316.8L315.6,317.4L317.0,317.9L318.0,318.3"/><path d="M159.2,329.4L160.1,329.2L161.3,328.9L162.7,328.6L164.3,328.2L166.0,327.8L167.6,327.5L169.1,327.1L170.5,326.9L171.7,326.7L172.9,326.4L174.0,326.1L175.1,325.9L176.1,325.8L177.2,325.7L178.2,325.9L179.2,326.2L180.2,326.8L181.1,327.6L182.0,328.5L182.9,329.6L183.8,330.7L184.8,331.8L185.7,332.9L186.7,333.8L187.8,334.6L188.9,335.5L190.0,336.3L191.2,337.1L192.3,337.8L193.4,338.5L194.5,339.0L195.5,339.4L196.4,339.7L197.2,339.8L197.9,339.9L198.6,339.8L199.3,339.7L200.0,339.5L200.9,339.2L201.8,338.8L202.9,338.3L204.0,337.7L205.2,336.9L206.5,336.1L207.8,335.2L209.1,334.3L210.5,333.4L211.8,332.5L213.2,331.6L214.5,330.6L216.0,329.6L217.4,328.5L218.8,327.5L220.3,326.6L221.6,325.7L223.0,325.0L224.3,324.4L225.5,323.9L226.7,323.4L227.9,323.1L229.1,322.8L230.4,322.5L231.6,322.3L233.0,322.2L234.5,322.1L236.1,322.2L237.7,322.4L239.4,322.5L241.1,322.7L242.7,322.9L244.2,323.1L245.5,323.1L246.7,323.1L247.7,323.0L248.6,322.9L249.5,322.8L250.3,322.7L251.2,322.5L252.1,322.3L253.0,322.0L254.0,321.6L255.0,321.2L256.0,320.7L257.1,320.1L258.1,319.6L259.2,319.0L260.2,318.6L261.3,318.3L262.4,318.1L263.4,317.9L264.5,317.8L265.6,317.8L266.7,317.8L267.8,317.8L268.9,317.9L270.0,318.0L271.1,318.1L272.1,318.2L273.1,318.4L274.2,318.6L275.2,318.8L276.3,319.1L277.5,319.5L278.8,320.0L280.2,320.6L281.7,321.3L283.2,322.1L284.8,323.0L286.4,323.9L288.1,324.8L289.7,325.8L291.3,326.7L292.9,327.7L294.5,328.7L296.2,329.9L297.8,331.0L299.4,332.1L301.0,333.1L302.4,334.1L303.8,335.0L305.1,335.8L306.3,336.5L307.4,337.2L308.5,337.8L309.5,338.3L310.5,338.8L311.4,339.2L312.2,339.6L313.0,339.9L313.7,340.1L314.3,340.2L314.9,340.3L315.4,340.3L315.9,340.3L316.3,340.4L316.6,340.4"/><path d="M158.0,342.2L159.5,341.7L161.5,341.0L163.9,340.1L166.6,339.1L169.4,338.1L172.1,337.3L174.6,336.6L176.8,336.2L178.7,336.1L180.5,336.2L182.2,336.5L183.8,336.9L185.3,337.3L186.7,337.8L188.0,338.3L189.2,338.8L190.3,339.2L191.2,339.6L191.9,340.1L192.5,340.5L193.2,341.0L193.8,341.5L194.6,342.0L195.5,342.5L196.6,343.0L197.8,343.5L199.0,344.0L200.3,344.5L201.7,345.0L203.0,345.5L204.3,345.9L205.5,346.2L206.7,346.5L207.8,346.8L208.9,347.0L210.0,347.2L211.0,347.4L212.1,347.5L213.2,347.5L214.2,347.5L215.3,347.4L216.4,347.3L217.5,347.1L218.5,346.9L219.6,346.6L220.7,346.3L221.8,346.0L223.0,345.6L224.2,345.2L225.4,344.7L226.5,344.1L227.8,343.5L229.0,342.9L230.3,342.3L231.6,341.8L233.0,341.2L234.5,340.8L236.0,340.3L237.6,339.8L239.2,339.4L240.9,339.0L242.5,338.6L244.0,338.3L245.5,338.1L246.9,338.0L248.2,337.9L249.5,337.9L250.7,338.0L252.0,338.1L253.1,338.3L254.3,338.5L255.5,338.8L256.6,339.0L257.7,339.4L258.7,339.7L259.6,340.2L260.7,340.6L261.7,341.2L262.9,341.8L264.2,342.5L265.8,343.4L267.7,344.4L269.6,345.6L271.7,346.8L273.6,348.0L275.4,349.1L276.9,350.0L278.0,350.6"/><path d="M189.6,388.2L190.1,387.3L190.8,386.1L191.6,384.7L192.5,383.1L193.5,381.4L194.4,379.7L195.4,378.1L196.2,376.6L197.1,375.3L198.0,373.9L199.0,372.6L199.9,371.2L200.8,370.0L201.6,368.8L202.4,367.6L203.0,366.6L203.5,365.8L203.8,365.0L204.0,364.4L204.1,363.9L204.3,363.3L204.5,362.7L204.9,362.1L205.5,361.2L206.3,360.3L207.2,359.3L208.3,358.2L209.5,357.0L210.7,355.8L211.9,354.7L213.1,353.6L214.2,352.5L215.3,351.5L216.4,350.5L217.5,349.5L218.5,348.6L219.6,347.7L220.7,346.8L221.8,345.9L223.0,345.0L224.2,344.2L225.4,343.3L226.5,342.5L227.8,341.8L229.0,341.0L230.3,340.2L231.6,339.5L233.0,338.8L234.5,338.0L236.1,337.1L237.8,336.3L239.5,335.5L241.2,334.7L242.8,334.0L244.2,333.5L245.5,333.1L246.5,332.9L247.4,332.8L248.0,332.8L248.6,332.9L249.2,333.1L249.9,333.5L250.7,333.9L251.8,334.4L253.0,335.0L254.4,335.8L255.9,336.6L257.5,337.6L259.2,338.7L260.9,339.7L262.6,340.8L264.2,341.9L266.0,343.0L267.9,344.3L269.9,345.7L271.9,347.0L273.8,348.3L275.5,349.5L276.9,350.5L278.0,351.2"/><path d="M201.8,367.2L202.4,367.2L203.3,367.1L204.3,367.1L205.5,367.0L206.7,366.9L207.9,366.9L209.0,366.8L210.0,366.8L210.9,366.8L211.8,366.8L212.7,366.9L213.6,366.9L214.4,367.0L215.2,367.0L215.9,366.9L216.6,366.8L217.3,366.5L217.8,366.2L218.3,365.8L218.8,365.4L219.3,364.9L219.8,364.4L220.2,363.8L220.8,363.2L221.3,362.6L221.8,362.0L222.3,361.3L222.9,360.5L223.4,359.8L223.9,359.0L224.5,358.2L225.0,357.5L225.5,356.8L226.1,356.1L226.6,355.4L227.1,354.6L227.7,353.9L228.2,353.2L228.7,352.5L229.2,351.8L229.8,351.0L230.2,350.2L230.7,349.4L231.2,348.6L231.7,347.9L232.2,347.1L232.7,346.4L233.2,345.8L233.8,345.1L234.4,344.6L235.0,344.0L235.5,343.5L236.2,343.0L236.8,342.5L237.5,342.1L238.2,341.6L239.0,341.2L239.8,340.7L240.7,340.3L241.6,339.9L242.5,339.5L243.4,339.1L244.4,338.9L245.5,338.8L246.6,338.7L247.9,338.6L249.2,338.6L250.6,338.6L251.9,338.8L253.2,339.1L254.4,339.5L255.5,340.0L256.5,340.7L257.3,341.6L258.1,342.7L258.9,343.8L259.6,345.0L260.3,346.3L261.0,347.5L261.8,348.8L262.5,350.0L263.3,351.3L264.1,352.7L265.0,354.0L265.7,355.4L266.5,356.6L267.3,357.8L268.0,358.8L268.7,359.6L269.3,360.4L270.0,361.0L270.6,361.6L271.2,362.1L271.8,362.5L272.4,362.9L273.0,363.1L273.7,363.3L274.4,363.3L275.1,363.2L275.8,363.1L276.5,362.9L277.1,362.7L277.6,362.6L278.0,362.5"/><path d="M158.0,355.0L159.5,354.5L161.5,353.8L163.9,353.0L166.6,352.1L169.4,351.2L172.1,350.4L174.6,349.8L176.8,349.4L178.6,349.2L180.3,349.2L181.9,349.4L183.4,349.6L184.8,350.0L186.3,350.4L187.7,350.8L189.2,351.2L190.8,351.7L192.5,352.3L194.1,352.9L195.7,353.6L197.3,354.3L198.9,355.0L200.4,355.6L201.8,356.2L203.0,356.8L204.2,357.5L205.3,358.1L206.3,358.7L207.3,359.2L208.3,359.8L209.4,360.2L210.5,360.6L211.7,361.0L212.9,361.3L214.0,361.5L215.3,361.7L216.5,361.9L217.8,361.9L219.1,361.9L220.5,361.9L221.9,361.7L223.4,361.4L225.0,361.1L226.6,360.6L228.2,360.2L229.8,359.7L231.4,359.2L233.0,358.8L234.6,358.3L236.1,357.8L237.7,357.3L239.2,356.8L240.8,356.3L242.4,355.8L243.9,355.4L245.5,355.0L247.1,354.7L248.6,354.4L250.2,354.2L251.8,354.0L253.3,353.9L254.9,353.8L256.4,353.7L258.0,353.8L259.6,353.8L261.2,354.0L262.9,354.2L264.6,354.5L266.2,354.8L267.7,355.1L269.2,355.4L270.5,355.6L271.7,355.9L272.9,356.1L274.0,356.4L275.0,356.7L276.0,356.9L276.8,357.2L277.5,357.4L278.0,357.5"/><path d="M158.0,361.2L159.5,361.1L161.5,360.9L163.9,360.7L166.6,360.5L169.4,360.2L172.1,360.1L174.6,360.0L176.8,360.0L178.6,360.1L180.3,360.3L181.9,360.6L183.4,360.9L184.8,361.3L186.3,361.7L187.7,362.1L189.2,362.5L190.8,362.9L192.4,363.4L193.9,363.9L195.5,364.4L197.1,364.9L198.6,365.4L200.2,365.9L201.8,366.2L203.3,366.6L204.7,366.9L206.2,367.1L207.6,367.3L209.1,367.6L210.7,367.7L212.4,367.9L214.2,368.1L216.3,368.3L218.5,368.5L220.8,368.6L223.2,368.8L225.7,368.9L228.2,369.1L230.6,369.2L233.0,369.4L235.4,369.5L237.8,369.7L240.3,369.9L242.8,370.0L245.2,370.2L247.5,370.4L249.7,370.5L251.8,370.6L253.6,370.8L255.3,370.9L256.8,371.0L258.3,371.2L259.7,371.3L261.2,371.3L262.7,371.3L264.2,371.2L266.0,371.1L267.9,370.8L269.9,370.4L271.9,370.0L273.8,369.6L275.5,369.3L276.9,369.0L278.0,368.8"/><path d="M158.0,371.2L160.0,371.1L162.6,370.8L165.8,370.5L169.3,370.1L173.0,369.7L176.6,369.4L180.0,369.0L183.0,368.8L185.7,368.5L188.3,368.3L190.8,368.0L193.2,367.8L195.5,367.6L197.6,367.5L199.7,367.3L201.8,367.2L203.7,367.2L205.6,367.2L207.4,367.2L209.2,367.3L210.8,367.3L212.2,367.4L213.3,367.5L214.2,367.5"/><path d="M158.0,362.5L159.0,362.8L160.2,363.2L161.8,363.6L163.5,364.1L165.3,364.7L167.1,365.2L168.9,365.8L170.5,366.2L172.1,366.7L173.6,367.2L175.2,367.7L176.8,368.1L178.3,368.6L179.9,369.1L181.4,369.5L183.0,370.0L184.6,370.5L186.2,370.9L187.8,371.4L189.4,371.8L191.0,372.3L192.6,372.8L194.1,373.3L195.5,373.8L196.9,374.3L198.2,374.9L199.5,375.5L200.7,376.1L202.0,376.7L203.1,377.2L204.3,377.7L205.5,378.1L206.6,378.4L207.5,378.7L208.4,378.9L209.3,379.1L210.3,379.2L211.4,379.3L212.7,379.3L214.2,379.4L216.2,379.4L218.4,379.4L220.8,379.4L223.4,379.3L226.0,379.2L228.5,379.1L230.9,378.9L233.0,378.8L234.9,378.5L236.6,378.3L238.1,378.0L239.6,377.7L241.1,377.4L242.5,377.0L244.0,376.6L245.5,376.2L247.1,375.8L248.6,375.4L250.2,374.9L251.8,374.4L253.3,373.9L254.9,373.4L256.4,372.9L258.0,372.5L259.6,372.1L261.2,371.6L262.9,371.2L264.6,370.8L266.2,370.4L267.7,370.0L269.2,369.7L270.5,369.4L271.7,369.1L272.9,368.9L274.0,368.7L275.0,368.6L276.0,368.4L276.8,368.3L277.5,368.2L278.0,368.1"/><path d="M258.0,338.3L259.0,339.1L260.2,340.0L261.8,341.2L263.5,342.5L265.3,343.8L267.1,345.2L268.9,346.4L270.5,347.5L272.1,348.5L273.8,349.5L275.6,350.4L277.3,351.4L278.9,352.2L280.5,353.0L281.8,353.6L283.0,354.2L283.9,354.6L284.5,354.9L285.0,355.1L285.3,355.2L285.7,355.2L286.0,355.2L286.5,355.1L287.2,355.0L288.0,354.9L288.9,354.7L289.8,354.5L290.8,354.2L291.9,353.9L293.0,353.5L294.2,353.0L295.5,352.5L296.9,351.8L298.4,351.0L300.1,350.1L301.7,349.1L303.4,348.2L305.1,347.2L306.6,346.5L308.0,345.8L309.3,345.4L310.6,345.0L311.9,344.8L313.1,344.6L314.2,344.4L315.1,344.3L315.9,344.3L316.6,344.2"/><path d="M258.0,341.8L259.0,342.4L260.2,343.1L261.8,343.9L263.5,344.9L265.3,345.9L267.1,346.9L268.9,347.9L270.5,348.8L272.1,349.6L273.8,350.6L275.6,351.5L277.3,352.5L278.9,353.4L280.5,354.2L281.8,354.9L283.0,355.4L283.9,355.8L284.5,356.0L285.0,356.2L285.3,356.2L285.7,356.2L286.0,356.1L286.5,356.0L287.2,355.8L288.0,355.7L288.9,355.5L289.8,355.3L290.8,355.0L291.9,354.7L293.0,354.3L294.2,353.9L295.5,353.3L296.9,352.7L298.4,351.8L300.1,350.9L301.7,350.0L303.4,349.0L305.1,348.1L306.6,347.3L308.0,346.7L309.3,346.2L310.6,345.8L311.9,345.5L313.1,345.3L314.2,345.2L315.1,345.0L315.9,344.9L316.6,344.8"/><path d="M283.0,358.3L284.3,358.3L286.0,358.3L288.0,358.3L290.3,358.3L292.7,358.2L295.1,358.2L297.5,358.2L299.7,358.2L301.9,358.1L304.3,358.1L306.7,358.1L309.2,358.1L311.5,358.1L313.5,358.0L315.3,358.0L316.6,358.0"/><path d="M283.0,360.8L284.3,360.8L286.0,360.8L288.0,360.8L290.3,360.8L292.7,360.7L295.1,360.7L297.5,360.7L299.7,360.7L301.9,360.7L304.3,360.6L306.7,360.6L309.2,360.6L311.5,360.6L313.5,360.6L315.3,360.6L316.6,360.6"/><path d="M258.0,344.2L258.4,344.6L258.9,345.2L259.5,345.8L260.1,346.6L260.8,347.4L261.6,348.2L262.3,349.1L263.0,350.0L263.7,350.9L264.4,352.0L265.1,353.1L265.9,354.2L266.6,355.3L267.4,356.4L268.1,357.4L268.8,358.3L269.6,359.2L270.3,360.0L271.0,360.7L271.7,361.5L272.4,362.1L273.1,362.6L273.9,363.1L274.7,363.3L275.5,363.4L276.3,363.4L277.1,363.2L278.0,362.9L278.9,362.6L279.7,362.3L280.5,361.9L281.3,361.7L282.1,361.4L283.0,361.1L283.8,360.8L284.7,360.5L285.4,360.2L286.1,360.0L286.7,359.7L287.2,359.6"/><path d="M258.0,353.8L258.6,353.8L259.4,353.8L260.3,353.9L261.4,353.9L262.5,354.0L263.8,354.2L265.0,354.3L266.3,354.6L267.8,354.9L269.4,355.4L271.1,355.9L272.8,356.5L274.6,357.1L276.2,357.6L277.6,358.0L278.8,358.3L279.8,358.5L280.6,358.6L281.2,358.7L281.7,358.7L282.1,358.6L282.4,358.6L282.7,358.5L283.0,358.5"/><path d="M258.0,372.5L258.6,372.3L259.5,372.0L260.5,371.7L261.6,371.4L262.8,371.0L264.1,370.6L265.2,370.3L266.3,370.0L267.4,369.7L268.5,369.5L269.6,369.2L270.8,369.0L271.8,368.7L272.9,368.6L273.8,368.4L274.7,368.3L275.4,368.4L275.9,368.5L276.4,368.7L276.8,368.9L277.2,369.1L277.7,369.3L278.2,369.3L278.8,369.2L279.6,368.9L280.5,368.4L281.5,367.8L282.5,367.1L283.6,366.4L284.6,365.8L285.5,365.3L286.3,365.0L287.1,364.8L287.7,364.8L288.4,364.8L288.9,364.9L289.5,365.1L290.1,365.3L290.7,365.6L291.3,365.8L292.0,366.2L292.7,366.6L293.4,367.2L294.1,367.8L294.9,368.3L295.6,368.7L296.4,369.1L297.2,369.2L297.9,369.1L298.7,368.8L299.5,368.4L300.3,368.0L301.2,367.4L302.0,366.9L302.9,366.3L303.8,365.8L304.8,365.3L305.9,364.8L307.0,364.2L308.1,363.6L309.3,363.0L310.3,362.5L311.3,362.0L312.2,361.7L312.9,361.4L313.6,361.3L314.3,361.2L314.9,361.2L315.4,361.2L315.9,361.2L316.3,361.3L316.6,361.2"/><path d="M258.0,374.2L258.6,374.0L259.4,373.9L260.4,373.7L261.4,373.4L262.6,373.2L263.8,373.0L265.1,372.7L266.3,372.5L267.7,372.3L269.2,371.9L270.8,371.6L272.4,371.3L274.0,371.0L275.5,370.8L276.8,370.8L278.0,370.8L278.9,371.1L279.7,371.5L280.3,372.0L280.9,372.5L281.4,373.2L281.8,373.8L282.4,374.4L283.0,375.0L283.7,375.6L284.4,376.4L285.1,377.1L285.8,377.9L286.5,378.6L287.3,379.1L288.1,379.5L288.8,379.6L289.6,379.4L290.5,378.8L291.4,378.1L292.3,377.3L293.1,376.4L294.0,375.5L294.8,374.7L295.5,374.2L296.1,373.8L296.4,373.5L296.7,373.2L296.9,373.0L297.3,372.9L297.8,372.7L298.6,372.6L299.7,372.5L301.3,372.4L303.4,372.3L305.8,372.2L308.4,372.2L310.9,372.2L313.2,372.1L315.2,372.1L316.6,372.1"/><path d="M316.3,186.3L316.4,186.3L316.4,186.4L316.5,186.4L316.5,186.4L316.7,186.4L317.0,186.5L317.4,186.6L318.0,186.7L318.8,186.8L319.9,186.9L321.1,187.0L322.4,187.2L323.8,187.4L325.2,187.7L326.6,188.0L328.0,188.3L329.4,188.8L330.8,189.3L332.3,189.9L333.7,190.6L335.2,191.3L336.7,191.9L338.2,192.6L339.7,193.3L341.1,194.0L342.5,194.8L343.8,195.5L345.2,196.3L346.6,197.0L348.1,197.7L349.6,198.5L351.3,199.2L353.2,199.9L355.1,200.5L357.2,201.2L359.4,201.9L361.5,202.5L363.7,203.1L365.9,203.7L368.0,204.2L370.1,204.6L372.2,205.0L374.2,205.3L376.3,205.5L378.4,205.8L380.5,206.0L382.6,206.2L384.7,206.3L386.8,206.5L388.9,206.6L391.1,206.6L393.2,206.7L395.3,206.7L397.4,206.7L399.4,206.7L401.3,206.7L403.2,206.6L404.9,206.6L406.7,206.6L408.3,206.6L409.9,206.5L411.5,206.4L413.1,206.1L414.7,205.8L416.2,205.4L417.7,204.9L419.2,204.3L420.6,203.6L422.0,203.0L423.5,202.2L424.9,201.5L426.3,200.8L427.8,200.1L429.2,199.4L430.6,198.6L432.1,197.9L433.5,197.1L435.0,196.4L436.5,195.7L438.0,195.0L439.6,194.4L441.2,193.8L442.9,193.2L444.6,192.6L446.3,192.1L448.0,191.6L449.7,191.2L451.3,190.8L453.0,190.5L454.7,190.3L456.3,190.2L458.0,190.1L459.7,190.0L461.3,189.9L463.0,189.8L464.7,189.7L466.4,189.5L468.3,189.4L470.3,189.2L472.2,189.1L474.0,189.0L475.6,188.8L477.0,188.7L478.0,188.7"/><path d="M316.3,204.2L316.4,204.2L316.4,204.2L316.3,204.2L316.3,204.2L316.4,204.2L316.7,204.2L317.2,204.2L318.0,204.2L319.1,204.2L320.6,204.1L322.2,204.1L324.0,204.1L325.9,204.0L327.8,204.0L329.7,204.1L331.3,204.2L332.9,204.3L334.3,204.4L335.8,204.6L337.2,204.8L338.6,205.0L340.0,205.3L341.5,205.5L343.0,205.8L344.6,206.2L346.1,206.6L347.7,207.1L349.4,207.6L351.0,208.0L352.7,208.5L354.5,208.9L356.3,209.2L358.3,209.4L360.3,209.6L362.3,209.7L364.5,209.8L366.6,209.9L368.8,209.9L370.9,210.0L373.0,210.0L375.1,210.0L377.2,210.0L379.3,210.0L381.4,210.0L383.5,209.9L385.6,209.8L387.7,209.8L389.7,209.7L391.6,209.5L393.6,209.4L395.5,209.2L397.4,209.0L399.2,208.8L401.1,208.7L402.9,208.5L404.7,208.3L406.4,208.2L408.1,208.0L409.8,207.8L411.4,207.7L413.1,207.5L414.7,207.5L416.3,207.4L418.0,207.5L419.7,207.6L421.4,207.9L423.1,208.2L424.8,208.5L426.5,208.9L428.1,209.3L429.7,209.6L431.3,210.0L432.8,210.4L434.2,210.8L435.6,211.2L437.0,211.6L438.3,212.0L439.8,212.4L441.3,212.7L443.0,213.0L444.8,213.2L446.8,213.4L448.8,213.6L450.9,213.7L453.1,213.8L455.3,213.9L457.5,214.0L459.7,214.2L462.0,214.3L464.6,214.5L467.2,214.7L469.9,214.8L472.4,215.0L474.7,215.1L476.6,215.2L478.0,215.3"/><path d="M316.3,213.3L316.4,213.3L316.4,213.3L316.5,213.3L316.5,213.3L316.7,213.3L317.0,213.3L317.4,213.3L318.0,213.3L318.9,213.4L319.9,213.4L321.1,213.4L322.5,213.4L323.9,213.5L325.3,213.5L326.7,213.6L328.0,213.7L329.2,213.8L330.4,214.0L331.6,214.2L332.8,214.5L334.0,214.7L335.3,214.9L336.6,215.0L338.0,215.0L339.6,214.9L341.3,214.7L343.0,214.5L344.9,214.2L346.7,213.9L348.4,213.7L350.0,213.5L351.3,213.3L352.5,213.2L353.4,213.2L354.2,213.1L354.9,213.1L355.5,213.1L356.3,213.2L357.1,213.4L358.0,213.7L359.1,214.1L360.3,214.7L361.5,215.4L362.8,216.1L364.1,216.9L365.4,217.7L366.7,218.5L368.0,219.2L369.2,219.8L370.5,220.5L371.8,221.1L373.0,221.7L374.2,222.4L375.5,222.9L376.8,223.4L378.0,223.8L379.2,224.2L380.5,224.5L381.8,224.8L383.0,225.0L384.2,225.2L385.5,225.3L386.8,225.3L388.0,225.3L389.2,225.3L390.5,225.1L391.8,225.0L393.0,224.7L394.2,224.5L395.5,224.1L396.8,223.8L398.0,223.3L399.2,222.8L400.5,222.3L401.8,221.6L403.0,221.0L404.2,220.3L405.5,219.6L406.8,218.9L408.0,218.3L409.2,217.8L410.4,217.2L411.6,216.6L412.8,216.1L414.0,215.6L415.3,215.1L416.6,214.6L418.0,214.2L419.5,213.8L421.1,213.5L422.8,213.2L424.5,212.9L426.2,212.7L427.9,212.4L429.6,212.0L431.3,211.7L433.0,211.2L434.7,210.7L436.4,210.2L438.1,209.6L439.8,209.0L441.5,208.5L443.1,208.0L444.7,207.5L446.2,207.1L447.8,206.7L449.4,206.4L450.9,206.0L452.4,205.7L453.8,205.5L455.1,205.2L456.3,205.0L457.4,204.8L458.3,204.8L459.1,204.7L459.9,204.7L460.6,204.7L461.3,204.6L462.1,204.4L463.0,204.2L464.0,203.8L465.0,203.4L466.1,202.9L467.2,202.4L468.3,201.8L469.3,201.2L470.4,200.6L471.3,200.0L472.3,199.3L473.3,198.5L474.2,197.7L475.2,196.8L476.1,196.0L476.8,195.3L477.5,194.6L478.0,194.2"/><path d="M316.6,220.9L318.3,220.9L320.7,220.8L323.5,220.7L326.6,220.6L329.8,220.5L332.9,220.6L335.8,220.7L338.3,220.9L340.4,221.2L342.4,221.7L344.2,222.2L345.9,222.8L347.5,223.4L349.1,224.1L350.8,224.9L352.5,225.7L354.3,226.6L356.2,227.6L358.0,228.7L359.9,229.9L361.7,231.1L363.5,232.2L365.2,233.3L366.7,234.2L368.1,235.1L369.4,235.9L370.6,236.6L371.7,237.3L372.8,238.0L373.9,238.7L375.0,239.2L376.1,239.8L377.2,240.3L378.4,240.8L379.5,241.3L380.6,241.7L381.7,242.1L382.9,242.4L384.1,242.6L385.5,242.7L387.0,242.7L388.6,242.6L390.3,242.5L392.1,242.3L393.8,242.0L395.6,241.6L397.2,241.2L398.8,240.8L400.2,240.3L401.6,239.7L402.9,239.1L404.2,238.4L405.5,237.7L406.7,237.0L408.0,236.3L409.3,235.6L410.6,234.9L411.9,234.3L413.2,233.6L414.5,233.0L415.8,232.3L417.1,231.7L418.4,231.0L419.7,230.4L421.0,229.8L422.3,229.1L423.6,228.5L424.9,227.9L426.2,227.3L427.5,226.7L428.8,226.2L430.1,225.7L431.4,225.3L432.7,224.9L434.0,224.6L435.3,224.3L436.6,224.0L437.9,223.8L439.2,223.7L440.5,223.6L441.8,223.6L443.1,223.6L444.4,223.7L445.7,223.9L447.0,224.1L448.3,224.3L449.6,224.5L450.9,224.7L452.2,224.9L453.5,225.1L454.8,225.3L456.1,225.6L457.4,225.9L458.7,226.1L460.0,226.5L461.3,226.8L462.6,227.2L464.0,227.6L465.4,228.1L466.8,228.5L468.2,229.0L469.5,229.5L470.7,230.0L471.8,230.4L472.8,230.8L473.8,231.3L474.7,231.7L475.6,232.2L476.3,232.6L477.0,233.0L477.6,233.3L478.0,233.5"/><path d="M316.6,229.2L316.7,229.2L316.8,229.1L316.9,229.0L317.1,228.9L317.4,228.8L317.8,228.8L318.5,228.9L319.4,229.0L320.6,229.2L322.1,229.5L323.9,229.9L325.8,230.3L327.8,230.7L329.8,231.2L331.7,231.8L333.6,232.3L335.4,232.9L337.2,233.5L338.9,234.2L340.7,235.0L342.5,235.7L344.3,236.4L346.0,237.2L347.8,237.9L349.6,238.6L351.3,239.3L353.1,240.1L354.9,240.8L356.6,241.5L358.4,242.2L360.1,242.9L361.9,243.6L363.7,244.3L365.6,244.9L367.4,245.6L369.3,246.2L371.1,246.8L372.9,247.3L374.6,247.9L376.1,248.3L377.5,248.7L378.8,249.0L380.0,249.2L381.2,249.4L382.3,249.6L383.4,249.8L384.4,250.0L385.5,250.2L386.6,250.5L387.6,250.7L388.5,251.0L389.5,251.2L390.5,251.5L391.4,251.8L392.5,252.0L393.6,252.3L394.8,252.6L396.0,252.8L397.3,253.0L398.7,253.3L400.0,253.5L401.3,253.8L402.7,254.1L404.0,254.4L405.3,254.8L406.6,255.2L407.9,255.6L409.3,256.0L410.6,256.4L411.9,256.8L413.2,257.2L414.5,257.5L415.8,257.8L417.1,258.0L418.4,258.2L419.7,258.4L421.0,258.5L422.3,258.6L423.6,258.6L424.9,258.5L426.2,258.4L427.5,258.2L428.8,257.9L430.1,257.6L431.4,257.3L432.7,256.9L434.0,256.4L435.3,255.9L436.6,255.3L438.0,254.7L439.3,253.9L440.7,253.1L442.0,252.4L443.3,251.6L444.5,250.9L445.7,250.2L446.8,249.6L447.7,249.0L448.6,248.4L449.5,247.8L450.3,247.3L451.2,246.8L452.1,246.4L453.0,246.0L453.9,245.7L454.8,245.5L455.7,245.3L456.6,245.2L457.5,245.1L458.6,245.1L459.9,245.0L461.3,245.0L463.1,245.0L465.3,245.0L467.7,245.1L470.2,245.2L472.6,245.3L474.8,245.4L476.7,245.5L478.0,245.5"/><path d="M316.6,245.0L317.9,245.0L319.7,244.9L321.9,244.9L324.2,244.8L326.7,244.8L329.1,244.8L331.5,244.8L333.6,245.0L335.5,245.3L337.3,245.6L339.1,246.0L340.9,246.4L342.6,246.9L344.3,247.4L346.0,247.8L347.8,248.3L349.6,248.8L351.3,249.3L353.1,249.9L354.9,250.4L356.6,250.9L358.4,251.4L360.1,251.8L361.9,252.1L363.7,252.3L365.6,252.4L367.4,252.5L369.3,252.5L371.1,252.4L372.9,252.3L374.6,252.2L376.1,252.1L377.5,252.0L378.7,251.8L379.8,251.6L380.9,251.4L381.9,251.2L383.0,250.9L384.2,250.6L385.5,250.2L387.0,249.8L388.6,249.3L390.3,248.8L392.1,248.3L393.8,247.7L395.6,247.2L397.2,246.6L398.8,246.0L400.2,245.4L401.6,244.7L402.9,244.0L404.2,243.3L405.5,242.6L406.7,242.0L408.0,241.4L409.3,240.8L410.6,240.3L411.9,239.8L413.2,239.4L414.5,239.0L415.8,238.6L417.1,238.2L418.4,237.9L419.7,237.7L421.0,237.5L422.3,237.3L423.6,237.1L424.9,237.0L426.2,237.0L427.5,237.0L428.8,237.0L430.1,237.2L431.4,237.4L432.7,237.8L434.0,238.2L435.3,238.7L436.6,239.2L437.9,239.8L439.2,240.3L440.5,240.8L441.8,241.3L443.1,241.9L444.4,242.5L445.7,243.2L447.0,243.7L448.3,244.3L449.6,244.7L450.9,245.0L452.2,245.2L453.4,245.2L454.5,245.1L455.7,245.0L456.9,244.9L458.3,244.7L459.7,244.6L461.3,244.5L463.2,244.5L465.4,244.5L467.8,244.5L470.3,244.5L472.7,244.5L474.9,244.5L476.7,244.5L478.0,244.5"/><path d="M316.6,277.6L316.7,277.6L316.8,277.7L316.9,277.8L317.1,277.8L317.4,277.9L317.8,277.9L318.5,277.8L319.4,277.6L320.6,277.3L322.1,277.0L323.9,276.5L325.8,276.1L327.8,275.5L329.8,275.0L331.7,274.4L333.6,273.8L335.4,273.2L337.2,272.5L338.9,271.8L340.7,271.1L342.5,270.4L344.3,269.6L346.0,268.9L347.8,268.2L349.6,267.5L351.3,266.8L353.1,266.1L354.9,265.4L356.6,264.7L358.4,264.0L360.1,263.3L361.9,262.5L363.7,261.7L365.4,260.9L367.2,260.1L369.0,259.2L370.8,258.3L372.5,257.5L374.3,256.7L376.1,255.9L377.9,255.1L379.8,254.4L381.7,253.7L383.6,253.0L385.4,252.3L387.2,251.6L388.8,250.9L390.3,250.2L391.6,249.5L392.8,248.8L393.8,248.2L394.8,247.5L395.7,246.9L396.7,246.2L397.7,245.6L398.8,245.0L400.0,244.4L401.3,243.9L402.6,243.3L403.9,242.8L405.3,242.3L406.6,241.8L408.0,241.3L409.3,240.8L410.6,240.3L411.9,239.8L413.2,239.2L414.5,238.7L415.8,238.2L417.1,237.7L418.4,237.2L419.7,236.7L421.0,236.2L422.3,235.7L423.6,235.2L424.9,234.8L426.2,234.3L427.5,233.8L428.8,233.4L430.1,233.0L431.4,232.6L432.7,232.2L434.0,231.9L435.3,231.6L436.6,231.2L437.9,230.9L439.2,230.7L440.5,230.4L441.8,230.2L443.1,229.9L444.4,229.7L445.7,229.5L447.0,229.3L448.3,229.2L449.6,229.0L450.9,228.9L452.2,228.8L453.5,228.6L454.8,228.5L456.1,228.4L457.4,228.3L458.7,228.3L460.0,228.3L461.3,228.3L462.6,228.4L464.0,228.6L465.4,228.8L466.8,229.0L468.2,229.3L469.5,229.5L470.7,229.7L471.8,229.9L472.8,230.0L473.8,230.1L474.7,230.2L475.6,230.2L476.3,230.3L477.0,230.3L477.6,230.4L478.0,230.4"/><path d="M316.6,258.7L317.9,258.7L319.6,258.8L321.6,258.8L323.9,258.9L326.3,258.9L328.8,259.0L331.3,259.1L333.6,259.2L335.9,259.3L338.4,259.5L341.0,259.7L343.5,259.9L346.0,260.1L348.4,260.3L350.6,260.4L352.5,260.6L354.1,260.8L355.5,260.9L356.7,261.1L357.8,261.2L358.8,261.4L359.8,261.5L360.8,261.5L361.9,261.5L363.1,261.4L364.3,261.2L365.5,261.0L366.6,260.7L367.8,260.4L369.0,260.2L370.2,259.9L371.4,259.7L372.6,259.5L373.8,259.3L374.9,259.1L376.1,258.9L377.3,258.8L378.4,258.7L379.6,258.6L380.8,258.7L382.0,258.9L383.2,259.1L384.4,259.5L385.6,259.9L386.8,260.3L388.0,260.7L389.2,261.1L390.3,261.5L391.4,261.8L392.4,262.0L393.5,262.3L394.5,262.5L395.5,262.7L396.6,263.0L397.6,263.4L398.8,263.8L400.0,264.3L401.3,264.9L402.6,265.6L403.9,266.3L405.3,267.0L406.6,267.7L408.0,268.4L409.3,269.0L410.6,269.5L411.9,270.1L413.2,270.6L414.5,271.0L415.8,271.5L417.1,271.9L418.4,272.3L419.7,272.6L421.0,272.9L422.3,273.1L423.6,273.3L424.9,273.5L426.2,273.7L427.5,273.8L428.8,274.0L430.1,274.2L431.4,274.4L432.7,274.7L434.0,275.0L435.3,275.2L436.6,275.5L437.9,275.8L439.2,276.0L440.5,276.2L441.8,276.4L443.1,276.6L444.4,276.8L445.7,276.9L447.0,277.1L448.3,277.2L449.6,277.3L450.9,277.3L452.2,277.3L453.5,277.2L454.8,277.2L456.1,277.1L457.4,276.9L458.7,276.7L460.0,276.5L461.3,276.2L462.6,275.8L464.0,275.4L465.4,274.9L466.8,274.3L468.2,273.7L469.5,273.2L470.7,272.6L471.8,272.1L472.8,271.6L473.8,271.1L474.7,270.5L475.6,270.0L476.3,269.5L477.0,269.1L477.6,268.7L478.0,268.4"/><path d="M316.6,279.6L316.7,279.7L316.8,279.8L316.9,279.9L317.1,280.1L317.4,280.2L317.8,280.2L318.5,280.2L319.4,280.0L320.6,279.7L322.1,279.3L323.9,278.8L325.8,278.3L327.8,277.7L329.8,277.0L331.7,276.4L333.6,275.7L335.4,275.0L337.2,274.2L339.0,273.3L340.8,272.4L342.6,271.5L344.4,270.7L346.1,269.8L347.8,269.1L349.4,268.4L351.0,267.6L352.6,266.9L354.1,266.2L355.6,265.6L357.1,265.1L358.5,264.7L360.0,264.4L361.4,264.3L362.8,264.4L364.2,264.6L365.6,264.8L367.0,265.2L368.4,265.5L369.9,265.9L371.4,266.3L373.0,266.7L374.8,267.2L376.5,267.7L378.3,268.2L380.2,268.7L382.0,269.2L383.8,269.7L385.5,270.0L387.2,270.3L388.9,270.4L390.7,270.6L392.4,270.7L394.1,270.8L395.7,270.8L397.3,270.9L398.8,271.0L400.2,271.1L401.6,271.2L402.9,271.2L404.2,271.3L405.5,271.4L406.7,271.4L408.0,271.5L409.3,271.6L410.6,271.7L411.9,271.8L413.2,271.9L414.5,272.0L415.8,272.1L417.1,272.3L418.4,272.4L419.7,272.6L421.0,272.8L422.3,273.0L423.6,273.3L424.9,273.6L426.2,273.9L427.5,274.1L428.8,274.4L430.1,274.7L431.4,275.0L432.7,275.2L434.0,275.5L435.3,275.8L436.6,276.1L437.9,276.3L439.2,276.6L440.5,276.8L441.8,277.0L443.1,277.3L444.4,277.5L445.7,277.7L447.0,277.9L448.3,278.1L449.6,278.2L450.9,278.3L452.2,278.3L453.5,278.3L454.8,278.3L456.1,278.2L457.4,278.1L458.7,278.0L460.0,277.9L461.3,277.8L462.6,277.7L464.0,277.6L465.4,277.4L466.8,277.3L468.2,277.2L469.5,277.0L470.7,276.9L471.8,276.8L472.8,276.7L473.8,276.6L474.7,276.5L475.6,276.4L476.3,276.4L477.0,276.3L477.6,276.2L478.0,276.2"/><path d="M316.3,290.0L316.2,290.0L315.9,290.0L315.4,290.0L315.1,290.0L315.0,290.0L315.3,290.0L316.3,290.0L318.0,290.0L320.7,290.0L324.2,290.0L328.3,289.9L332.9,289.9L337.7,289.9L342.5,289.9L347.1,289.9L351.3,290.0L355.3,290.2L359.3,290.4L363.3,290.7L367.2,291.0L371.0,291.2L374.6,291.5L378.1,291.6L381.3,291.7L384.3,291.6L387.1,291.3L389.7,291.0L392.2,290.7L394.5,290.3L396.8,290.0L399.1,289.8L401.3,289.7L403.6,289.7L405.7,289.8L407.8,289.9L409.9,290.1L411.9,290.4L413.9,290.7L415.9,291.0L418.0,291.3L420.0,291.7L422.0,292.1L423.9,292.6L425.8,293.0L427.8,293.5L429.9,294.0L432.2,294.5L434.7,295.0L437.5,295.5L440.7,295.9L444.2,296.3L447.7,296.8L451.1,297.2L454.4,297.7L457.3,298.2L459.7,298.7L461.5,299.2L462.9,299.7L463.9,300.2L464.8,300.7L465.5,301.3L466.2,301.9L467.0,302.6L468.0,303.3L469.2,304.3L470.6,305.4L472.1,306.6L473.5,307.8L474.9,309.0L476.2,310.1L477.2,311.0L478.0,311.7"/><path d="M316.3,318.7L316.4,318.7L316.3,318.7L316.2,318.8L316.1,318.9L316.2,318.9L316.5,318.8L317.1,318.6L318.0,318.3L319.4,317.9L321.1,317.3L323.2,316.6L325.4,315.9L327.8,315.1L330.1,314.2L332.5,313.3L334.7,312.5L336.8,311.6L338.8,310.7L340.9,309.8L343.0,308.9L345.1,307.9L347.2,306.9L349.2,305.9L351.3,305.0L353.4,304.1L355.5,303.1L357.6,302.1L359.7,301.1L361.8,300.2L363.8,299.3L365.9,298.4L368.0,297.5L370.1,296.6L372.2,295.7L374.2,294.8L376.3,294.0L378.4,293.2L380.5,292.5L382.6,292.0L384.7,291.7L386.8,291.5L388.8,291.6L390.9,291.8L393.0,292.1L395.1,292.5L397.2,293.0L399.2,293.6L401.3,294.2L403.4,294.9L405.6,295.7L407.7,296.6L409.9,297.6L412.0,298.6L414.1,299.6L416.1,300.7L418.0,301.7L419.8,302.7L421.6,303.7L423.3,304.7L425.0,305.8L426.6,306.8L428.2,307.9L429.8,309.0L431.3,310.0L432.9,311.1L434.4,312.1L435.9,313.2L437.4,314.3L438.8,315.3L440.2,316.4L441.6,317.4L443.0,318.3L444.4,319.3L445.7,320.2L447.0,321.1L448.3,322.0L449.6,322.9L450.8,323.7L451.9,324.4L453.0,325.0L453.9,325.5L454.6,326.0L455.2,326.4L455.8,326.7L456.5,326.9L457.3,327.1L458.3,327.3L459.7,327.5L461.5,327.6L463.9,327.7L466.5,327.7L469.2,327.7L472.0,327.6L474.4,327.6L476.5,327.5L478.0,327.5"/><path d="M316.3,319.7L316.3,319.7L316.1,319.7L315.8,319.7L315.6,319.8L315.6,319.7L315.9,319.7L316.7,319.5L318.0,319.2L320.0,318.7L322.6,318.2L325.7,317.5L329.0,316.8L332.6,316.0L336.2,315.2L339.7,314.4L343.0,313.7L346.1,312.9L349.3,312.1L352.5,311.3L355.7,310.4L358.9,309.6L362.0,308.9L365.0,308.1L368.0,307.5L370.9,306.9L373.7,306.4L376.4,305.8L379.1,305.3L381.8,304.9L384.4,304.6L387.1,304.3L389.7,304.2L392.3,304.1L394.9,304.2L397.4,304.4L400.0,304.6L402.5,304.9L404.9,305.2L407.3,305.5L409.7,305.8L411.9,306.2L414.1,306.5L416.2,306.9L418.2,307.3L420.2,307.8L422.2,308.2L424.3,308.7L426.3,309.2L428.4,309.7L430.6,310.2L432.7,310.7L434.9,311.2L437.0,311.8L439.1,312.4L441.1,313.0L443.0,313.7L444.8,314.4L446.4,315.2L447.9,316.0L449.4,316.9L450.9,317.7L452.5,318.5L454.3,319.2L456.3,319.7L458.8,320.0L461.7,320.2L464.8,320.3L468.0,320.4L471.1,320.4L473.9,320.3L476.3,320.3L478.0,320.3"/><path d="M316.3,340.3L316.4,340.3L316.5,340.3L316.5,340.4L316.6,340.4L316.8,340.4L317.1,340.3L317.5,340.2L318.0,340.0L318.7,339.7L319.6,339.4L320.6,339.0L321.7,338.5L322.9,338.0L324.1,337.6L325.2,337.1L326.3,336.7L327.3,336.3L328.2,335.9L329.1,335.6L330.0,335.3L330.9,334.9L332.0,334.5L333.2,333.9L334.7,333.3L336.4,332.6L338.2,331.7L340.3,330.7L342.5,329.6L344.7,328.6L347.0,327.6L349.2,326.6L351.3,325.8L353.4,325.1L355.5,324.4L357.6,323.8L359.7,323.2L361.8,322.7L363.8,322.2L365.9,321.9L368.0,321.7L370.1,321.6L372.2,321.8L374.2,322.0L376.3,322.4L378.4,322.8L380.5,323.1L382.6,323.3L384.7,323.3L386.8,323.2L389.0,322.8L391.1,322.4L393.3,321.9L395.4,321.5L397.5,321.1L399.5,320.9L401.3,320.8L403.0,321.0L404.6,321.2L406.0,321.5L407.4,321.9L408.8,322.5L410.1,323.2L411.5,324.0L413.0,325.0L414.6,326.3L416.2,327.8L417.8,329.6L419.5,331.5L421.1,333.4L422.7,335.2L424.2,336.9L425.5,338.3L426.7,339.6L427.7,340.8L428.7,342.0L429.6,343.1L430.5,344.0L431.3,344.7L432.1,345.1L433.0,345.3L433.9,345.2L434.6,344.8L435.4,344.1L436.2,343.3L437.0,342.3L437.8,341.2L438.7,340.2L439.7,339.2L440.8,338.2L442.0,337.0L443.2,335.9L444.6,334.7L445.9,333.4L447.2,332.2L448.5,331.1L449.7,330.0L450.7,328.9L451.6,327.9L452.4,326.8L453.2,325.7L454.1,324.8L455.1,323.9L456.4,323.1L458.0,322.5L460.1,322.1L462.6,321.8L465.5,321.7L468.5,321.6L471.5,321.6L474.1,321.7L476.4,321.7L478.0,321.7"/><path d="M316.6,343.6L316.7,343.6L316.7,343.6L316.7,343.6L316.8,343.6L316.9,343.6L317.1,343.6L317.5,343.7L318.0,343.8L318.7,344.0L319.6,344.2L320.6,344.4L321.7,344.7L322.9,345.0L324.1,345.4L325.2,345.8L326.3,346.2L327.3,346.7L328.4,347.2L329.4,347.8L330.5,348.4L331.6,349.0L332.6,349.7L333.7,350.2L334.7,350.8L335.8,351.3L336.9,351.9L338.0,352.4L339.1,353.0L340.2,353.5L341.2,353.9L342.2,354.3L343.0,354.6L343.7,354.8L344.2,355.0L344.7,355.2L345.1,355.3L345.5,355.3L346.0,355.3L346.5,355.2L347.2,355.0L348.0,354.7L349.0,354.3L350.0,353.8L351.1,353.3L352.2,352.7L353.3,352.1L354.4,351.4L355.5,350.8L356.5,350.1L357.6,349.4L358.6,348.7L359.6,348.0L360.7,347.2L361.7,346.4L362.8,345.7L363.8,345.0L364.8,344.3L365.9,343.7L366.9,343.0L368.0,342.4L369.1,341.8L370.1,341.1L371.2,340.6L372.2,340.0L373.3,339.5L374.3,338.9L375.4,338.4L376.5,337.9L377.5,337.4L378.5,337.0L379.5,336.6L380.5,336.2L381.4,335.8L382.3,335.5L383.2,335.2L384.0,334.9L384.8,334.6L385.6,334.4L386.4,334.3L387.2,334.2L388.0,334.2L388.7,334.3L389.5,334.5L390.2,334.8L390.9,335.0L391.6,335.3L392.3,335.6L393.0,335.8L393.6,336.0L394.2,336.2L394.8,336.4L395.3,336.6L395.9,336.9L396.5,337.1L397.2,337.3L398.0,337.5L398.9,337.7L399.8,337.8L400.9,338.0L401.9,338.1L403.0,338.3L404.1,338.5L405.2,338.8L406.3,339.2L407.3,339.7L408.4,340.2L409.4,340.9L410.5,341.6L411.6,342.2L412.6,342.9L413.7,343.6L414.7,344.2L415.8,344.8L416.9,345.4L418.0,346.0L419.1,346.5L420.2,347.1L421.2,347.5L422.2,348.0L423.0,348.3L423.7,348.6L424.3,348.8L424.8,348.9L425.2,349.0L425.6,349.0L426.1,349.0L426.6,348.9L427.2,348.8L427.9,348.6L428.6,348.3L429.3,348.0L430.1,347.6L431.0,347.2L431.9,346.8L432.8,346.4L433.8,346.2L434.9,346.1L436.0,346.0L437.2,346.0L438.4,346.0L439.7,346.1L441.0,346.1L442.4,346.0L443.8,345.8L445.3,345.5L446.8,345.1L448.5,344.6L450.1,344.2L451.8,343.7L453.4,343.2L454.9,342.8L456.3,342.5L457.5,342.3L458.6,342.2L459.5,342.1L460.4,342.1L461.4,342.1L462.4,342.1L463.4,342.1L464.7,342.1L466.2,342.0L468.0,342.0L469.9,341.9L471.9,341.9L473.8,341.8L475.5,341.8L476.9,341.7L478.0,341.7"/><path d="M316.6,344.8L316.7,344.8L316.7,344.8L316.7,344.7L316.8,344.7L316.9,344.7L317.1,344.8L317.5,344.8L318.0,345.0L318.7,345.2L319.6,345.5L320.6,345.8L321.7,346.2L322.9,346.6L324.1,347.0L325.2,347.4L326.3,347.9L327.3,348.4L328.4,349.0L329.4,349.5L330.5,350.1L331.6,350.8L332.6,351.4L333.7,352.0L334.7,352.5L335.7,353.0L336.8,353.5L337.8,354.1L338.9,354.6L339.9,355.0L340.9,355.5L342.0,355.9L343.0,356.2L344.0,356.5L345.1,356.8L346.1,357.0L347.1,357.2L348.2,357.4L349.2,357.5L350.3,357.5L351.3,357.5L352.3,357.4L353.4,357.2L354.4,356.9L355.5,356.6L356.6,356.2L357.6,355.8L358.7,355.4L359.7,355.0L360.7,354.6L361.8,354.1L362.8,353.6L363.9,353.1L364.9,352.5L365.9,351.9L367.0,351.4L368.0,350.8L369.0,350.2L370.1,349.5L371.1,348.9L372.1,348.2L373.2,347.5L374.2,346.9L375.3,346.3L376.3,345.8L377.3,345.4L378.4,345.0L379.4,344.6L380.5,344.3L381.6,344.0L382.6,343.7L383.7,343.5L384.7,343.3L385.8,343.1L386.9,343.1L388.0,343.0L389.1,343.0L390.1,343.0L391.2,342.9L392.1,342.9L393.0,342.8L393.8,342.6L394.4,342.4L395.0,342.2L395.5,341.9L396.0,341.7L396.6,341.5L397.2,341.4L398.0,341.5L398.9,341.7L399.8,342.0L400.9,342.4L401.9,342.9L403.0,343.4L404.1,344.0L405.2,344.5L406.3,345.0L407.3,345.5L408.4,346.0L409.4,346.5L410.5,347.1L411.6,347.6L412.6,348.1L413.7,348.7L414.7,349.2L415.8,349.7L416.9,350.3L418.0,350.8L419.1,351.4L420.1,351.9L421.2,352.4L422.1,352.9L423.0,353.3L423.8,353.7L424.4,354.2L425.0,354.6L425.6,355.0L426.1,355.3L426.7,355.6L427.3,355.7L428.0,355.8L428.8,355.7L429.7,355.5L430.6,355.3L431.5,354.9L432.5,354.5L433.5,354.1L434.5,353.7L435.5,353.3L436.5,352.9L437.5,352.5L438.5,352.1L439.6,351.6L440.6,351.2L441.7,350.8L442.8,350.4L443.8,350.0L444.8,349.7L445.8,349.4L446.8,349.0L447.7,348.8L448.7,348.5L449.8,348.3L451.0,348.1L452.2,347.9L453.6,347.8L455.0,347.7L456.6,347.6L458.1,347.6L459.8,347.5L461.4,347.5L463.1,347.5L464.7,347.5L466.4,347.5L468.3,347.5L470.2,347.5L472.1,347.6L474.0,347.6L475.6,347.6L477.0,347.7L478.0,347.7"/><path d="M351.3,360.0L352.0,360.3L352.9,360.7L354.0,361.2L355.2,361.8L356.5,362.3L357.7,362.7L358.8,363.1L359.7,363.3L360.4,363.4L361.0,363.4L361.5,363.3L361.9,363.1L362.3,362.9L362.7,362.6L363.2,362.2L363.8,361.7L364.4,361.1L365.1,360.5L365.8,359.7L366.6,358.9L367.4,358.0L368.1,357.1L368.9,356.1L369.7,355.0L370.5,353.8L371.3,352.5L372.2,351.1L373.0,349.6L373.8,348.2L374.7,346.8L375.5,345.4L376.3,344.2L377.1,343.1L377.8,342.0L378.6,340.9L379.4,340.0L380.1,339.0L380.8,338.2L381.5,337.4L382.2,336.7L382.9,336.1L383.5,335.5L384.1,335.0L384.7,334.6L385.3,334.3L385.9,334.0L386.5,333.9L387.2,333.8L387.9,333.9L388.6,334.0L389.4,334.3L390.1,334.7L390.8,335.1L391.6,335.6L392.3,336.2L393.0,336.7L393.7,337.3L394.3,337.9L394.9,338.7L395.6,339.4L396.2,340.2L396.8,341.0L397.4,341.8L398.0,342.5L398.6,343.2L399.2,343.9L399.9,344.7L400.5,345.4L401.1,346.1L401.8,346.8L402.4,347.6L403.0,348.3L403.6,349.1L404.2,349.8L404.8,350.6L405.4,351.4L406.0,352.2L406.6,352.9L407.3,353.6L408.0,354.2L408.7,354.7L409.5,355.2L410.3,355.6L411.1,356.0L412.0,356.3L412.9,356.6L413.8,356.9L414.7,357.1L415.7,357.3L416.7,357.3L417.7,357.4L418.7,357.4L419.8,357.3L420.9,357.3L422.0,357.4L423.0,357.5L424.0,357.7L425.1,357.9L426.1,358.2L427.1,358.5L428.2,358.8L429.2,359.1L430.3,359.3L431.3,359.6L432.3,359.8L433.2,360.1L434.1,360.3L435.0,360.6L435.9,360.8L437.0,361.0L438.3,361.1L439.7,361.2L441.3,361.2L443.2,361.2L445.1,361.2L447.2,361.1L449.3,361.0L451.6,360.9L453.9,360.8L456.3,360.8L458.9,360.8L461.9,360.8L465.0,360.8L468.2,360.8L471.2,360.8L474.0,360.8L476.3,360.8L478.0,360.8"/><path d="M316.6,357.5L318.0,357.5L320.0,357.5L322.3,357.5L324.9,357.5L327.5,357.5L330.1,357.5L332.6,357.5L334.7,357.5L336.6,357.5L338.3,357.6L340.0,357.6L341.6,357.7L343.1,357.7L344.5,357.8L345.9,357.8L347.2,357.9L348.4,358.0L349.6,358.0L350.6,358.1L351.6,358.2L352.6,358.2L353.5,358.3L354.5,358.3L355.5,358.3L356.5,358.3L357.6,358.2L358.6,358.2L359.6,358.1L360.7,358.0L361.7,357.8L362.8,357.7L363.8,357.5L364.8,357.3L365.9,356.9L366.9,356.6L368.0,356.2L369.1,355.9L370.1,355.5L371.2,355.2L372.2,355.0L373.2,354.8L374.3,354.7L375.3,354.7L376.4,354.6L377.4,354.6L378.4,354.6L379.5,354.6L380.5,354.6L381.5,354.6L382.6,354.6L383.6,354.6L384.6,354.7L385.6,354.7L386.7,354.8L387.7,354.9L388.8,355.0L389.9,355.1L391.1,355.3L392.2,355.5L393.4,355.7L394.6,355.9L395.7,356.1L396.9,356.3L398.0,356.5L399.1,356.7L400.2,356.9L401.4,357.0L402.5,357.2L403.5,357.4L404.5,357.7L405.5,358.0L406.3,358.3L407.0,358.7L407.6,359.2L408.2,359.7L408.7,360.3L409.1,360.8L409.5,361.4L410.0,362.0L410.5,362.5L411.0,363.0L411.5,363.5L412.0,364.0L412.5,364.6L412.9,365.1L413.5,365.6L414.1,366.1L414.7,366.7L415.4,367.3L416.1,368.0L416.9,368.6L417.7,369.3L418.6,370.0L419.5,370.6L420.4,371.2L421.3,371.7L422.3,372.1L423.2,372.5L424.2,372.8L425.3,373.1L426.4,373.3L427.4,373.5L428.6,373.7L429.7,373.8L430.8,373.9L431.9,373.9L433.0,373.9L434.2,373.9L435.4,373.9L436.7,373.8L438.1,373.8L439.7,373.8L441.5,373.8L443.5,373.9L445.6,374.0L447.8,374.1L450.1,374.2L452.3,374.2L454.4,374.2L456.3,374.2L458.1,374.1L459.8,374.0L461.4,373.9L463.0,373.7L464.5,373.5L466.0,373.3L467.4,373.1L468.8,372.9L470.2,372.7L471.5,372.4L472.9,372.1L474.2,371.8L475.4,371.5L476.4,371.2L477.3,371.0L478.0,370.8"/><path d="M316.6,360.8L318.0,360.8L320.0,360.7L322.3,360.7L324.9,360.6L327.5,360.5L330.1,360.5L332.6,360.4L334.7,360.4L336.6,360.4L338.4,360.4L340.1,360.3L341.7,360.3L343.2,360.3L344.7,360.3L346.0,360.4L347.2,360.4L348.2,360.5L349.1,360.5L349.8,360.6L350.5,360.7L351.1,360.8L351.6,360.9L352.3,361.0L353.0,361.2L353.8,361.4L354.8,361.7L355.7,362.0L356.7,362.3L357.6,362.6L358.5,362.9L359.2,363.1L359.7,363.3"/><path d="M316.6,361.5L316.7,361.5L316.7,361.6L316.7,361.6L316.8,361.6L316.9,361.7L317.1,361.8L317.5,361.9L318.0,362.1L318.7,362.3L319.6,362.6L320.5,363.0L321.6,363.4L322.8,363.7L323.9,364.2L325.1,364.6L326.3,365.0L327.5,365.5L328.8,366.0L330.1,366.6L331.4,367.2L332.7,367.8L334.0,368.2L335.2,368.6L336.3,368.8L337.3,368.8L338.2,368.7L339.1,368.4L340.0,368.1L340.8,367.7L341.5,367.4L342.3,367.0L343.0,366.7L343.7,366.4L344.3,366.1L344.9,365.7L345.4,365.4L346.0,365.1L346.6,364.8L347.3,364.7L348.0,364.6L348.8,364.7L349.7,364.9L350.6,365.1L351.5,365.5L352.5,365.8L353.5,366.2L354.5,366.5L355.5,366.7L356.5,366.9L357.5,367.0L358.5,367.0L359.6,367.1L360.6,367.1L361.7,367.2L362.8,367.3L363.8,367.5L364.8,367.7L365.8,368.1L366.8,368.4L367.7,368.8L368.7,369.1L369.8,369.5L371.0,369.8L372.2,370.0L373.6,370.2L375.0,370.2L376.6,370.3L378.1,370.3L379.8,370.3L381.4,370.3L383.1,370.4L384.7,370.4L386.3,370.5L388.0,370.5L389.7,370.6L391.3,370.7L393.0,370.8L394.7,370.8L396.4,370.8L398.0,370.8L399.6,370.7L401.3,370.6L402.9,370.5L404.6,370.3L406.2,370.1L407.7,369.8L409.1,369.5L410.5,369.2L411.7,368.8L412.9,368.3L413.9,367.8L414.9,367.2L415.9,366.6L416.8,366.0L417.8,365.5L418.8,365.0L419.9,364.5L421.0,364.0L422.1,363.5L423.3,363.0L424.4,362.5L425.4,362.2L426.4,361.9L427.2,361.7L427.9,361.6L428.5,361.7L429.0,361.8L429.5,361.9L429.9,362.2L430.4,362.5L430.8,362.9L431.3,363.3L431.8,363.9L432.3,364.6L432.9,365.4L433.4,366.2L433.9,367.1L434.4,367.9L435.0,368.6L435.5,369.2L435.9,369.7L436.3,370.0L436.5,370.3L436.8,370.6L437.2,370.8L437.8,371.0L438.6,371.1L439.7,371.2L441.2,371.3L443.1,371.3L445.2,371.2L447.5,371.2L449.8,371.1L452.1,371.0L454.3,370.9L456.3,370.8L458.1,370.7L459.8,370.7L461.4,370.6L463.0,370.6L464.5,370.5L466.0,370.4L467.4,370.2L468.8,370.0L470.2,369.7L471.5,369.4L472.9,368.9L474.2,368.5L475.4,368.1L476.4,367.7L477.3,367.3L478.0,367.1"/><path d="M316.6,372.1L318.1,372.1L320.2,372.1L322.6,372.1L325.3,372.1L328.1,372.1L330.7,372.2L332.9,372.3L334.7,372.5L336.0,372.8L336.9,373.1L337.5,373.5L338.0,373.9L338.4,374.4L338.8,374.8L339.2,375.3L339.7,375.8L340.3,376.3L340.9,376.8L341.5,377.4L342.1,378.0L342.7,378.6L343.3,379.1L344.0,379.6L344.7,380.0L345.4,380.3L346.0,380.6L346.6,380.9L347.3,381.1L348.0,381.3L348.9,381.4L350.0,381.6L351.3,381.7L352.9,381.8L354.8,381.9L356.8,381.9L359.0,382.0L361.3,382.0L363.6,382.0L365.8,382.1L368.0,382.1L370.1,382.2L372.3,382.2L374.4,382.3L376.6,382.4L378.7,382.4L380.8,382.5L382.8,382.5L384.7,382.5L386.5,382.5L388.2,382.4L389.8,382.3L391.4,382.1L392.9,382.0L394.5,381.9L396.2,381.8L398.0,381.7L400.0,381.7L402.1,381.7L404.4,381.7L406.7,381.7L408.9,381.7L411.0,381.7L413.0,381.7L414.7,381.7L416.1,381.6L417.3,381.6L418.4,381.6L419.3,381.5L420.1,381.4L421.0,381.2L421.9,381.1L423.0,380.8L424.2,380.4L425.5,379.9L426.8,379.3L428.2,378.7L429.5,378.1L430.8,377.6L432.0,377.3L433.0,377.1L433.9,377.1L434.6,377.3L435.3,377.5L435.9,377.9L436.4,378.3L436.9,378.9L437.4,379.4L438.0,380.0L438.6,380.7L439.1,381.5L439.7,382.4L440.3,383.3L440.8,384.3L441.3,385.2L441.8,386.0L442.2,386.7L442.6,387.3L443.0,387.8L443.4,388.3L443.7,388.8L444.0,389.2L444.3,389.5L444.5,389.8L444.7,390.0"/><path d="M318.0,389.2L318.6,388.9L319.5,388.4L320.5,387.9L321.6,387.3L322.8,386.7L324.0,386.1L325.2,385.5L326.3,385.0L327.3,384.5L328.4,384.1L329.4,383.7L330.4,383.2L331.4,382.8L332.5,382.4L333.6,382.1L334.7,381.7L335.9,381.4L337.2,381.1L338.5,380.8L339.8,380.5L341.1,380.2L342.4,379.9L343.6,379.6L344.7,379.2L345.7,378.7L346.6,378.2L347.4,377.6L348.2,377.0L349.0,376.5L349.7,375.9L350.5,375.4L351.3,375.0L352.1,374.7L352.9,374.3L353.7,374.1L354.4,373.9L355.2,373.7L356.1,373.5L357.0,373.4L358.0,373.3L359.1,373.3L360.2,373.3L361.4,373.3L362.6,373.4L363.9,373.5L365.2,373.6L366.6,373.7L368.0,373.8L369.4,373.9L370.8,374.0L372.3,374.2L373.8,374.3L375.3,374.5L377.0,374.6L378.7,374.8L380.5,375.0L382.5,375.2L384.5,375.4L386.7,375.7L389.0,376.0L391.3,376.2L393.6,376.4L395.8,376.6L398.0,376.7L400.2,376.7L402.4,376.6L404.7,376.5L406.9,376.3L409.1,376.2L411.1,376.1L413.0,376.1L414.7,376.2L416.1,376.5L417.4,376.9L418.4,377.3L419.4,377.9L420.3,378.5L421.1,379.0L422.0,379.5L423.0,380.0L424.0,380.4L425.1,380.8L426.1,381.3L427.1,381.7L428.2,382.0L429.2,382.4L430.3,382.7L431.3,382.9L432.3,383.0L433.4,383.1L434.4,383.1L435.5,383.1L436.6,383.0L437.6,383.0L438.7,383.1L439.7,383.3L440.7,383.6L441.8,384.0L442.8,384.4L443.9,384.9L444.9,385.4L445.9,385.8L447.0,386.3L448.0,386.7L449.1,387.1L450.3,387.4L451.5,387.8L452.7,388.2L453.8,388.5L454.8,388.8L455.7,389.0L456.3,389.2"/><path d="M338.0,390.0L338.6,389.5L339.3,388.8L340.3,387.9L341.3,387.0L342.4,386.1L343.4,385.3L344.5,384.8L345.5,384.6L346.5,384.8L347.6,385.3L348.6,386.1L349.7,387.0L350.7,387.9L351.7,388.8L352.4,389.5L353.0,390.0"/><path d="M398.0,389.2L399.3,389.0L401.2,388.8L403.4,388.4L405.8,388.1L408.3,387.7L410.7,387.4L412.9,387.0L414.7,386.7L416.1,386.4L417.4,386.0L418.4,385.7L419.4,385.4L420.3,385.0L421.1,384.7L422.0,384.4L423.0,384.2L424.1,384.0L425.3,383.8L426.5,383.7L427.7,383.6L428.8,383.5L429.8,383.4L430.7,383.4L431.3,383.3"/><path d="M468.8,390.0L478.0,383.3"/><path d="M424.7,384.2L425.2,384.5L426.0,385.0L426.9,385.5L427.8,386.1L428.8,386.8L429.8,387.3L430.6,387.9L431.3,388.3L431.8,388.6L432.3,388.9L432.6,389.2L433.0,389.4L433.2,389.6L433.4,389.8L433.6,389.9L433.8,390.0"/><path d="M159.2,390.0L160.4,390.0L162.1,390.1L164.1,390.2L166.3,390.3L168.6,390.4L170.8,390.4L172.9,390.5L174.7,390.4L176.3,390.3L177.8,390.1L179.2,389.8L180.5,389.5L181.8,389.3L182.9,389.0L184.0,388.8L185.0,388.6L185.9,388.5L186.7,388.4L187.3,388.3L187.9,388.3L188.5,388.3L188.9,388.3L189.3,388.3L189.6,388.2"/><path d="M159.2,371.7L160.4,371.5L162.0,371.3L163.8,371.0L165.9,370.7L168.1,370.4L170.4,370.1L172.6,369.8L174.7,369.6L176.7,369.4L178.8,369.3L180.8,369.2L182.9,369.1L185.0,369.0L187.1,368.9L189.2,368.9L191.3,368.8L193.4,368.8L195.5,368.7L197.6,368.7L199.6,368.7L201.7,368.7L203.8,368.8L205.9,368.8L208.0,368.8L210.1,368.8L212.3,368.9L214.4,368.9L216.6,369.0L218.7,369.0L220.8,369.1L222.8,369.1L224.7,369.2L226.5,369.2L228.3,369.3L230.1,369.3L231.8,369.4L233.4,369.4L235.0,369.5L236.5,369.5L238.0,369.6L239.4,369.6L240.7,369.7L242.0,369.7L243.2,369.7L244.3,369.8L245.5,369.8L246.7,369.9L248.0,370.0L249.4,370.1L250.9,370.3L252.5,370.5L254.0,370.6L255.5,370.8L256.8,371.0L258.0,371.1L258.8,371.2"/><path d="M159.2,398.8L160.1,398.9L161.3,399.1L162.7,399.3L164.3,399.5L166.0,399.8L167.6,400.0L169.2,400.2L170.5,400.4L171.7,400.6L172.8,400.7L173.8,400.9L174.8,401.0L175.8,401.1L176.8,401.2L177.8,401.3L178.8,401.2L179.9,401.2L180.9,401.1L182.0,400.9L183.1,400.7L184.2,400.5L185.2,400.2L186.2,399.9L187.2,399.6L188.1,399.2L189.0,398.8L189.8,398.4L190.7,398.0L191.5,397.5L192.2,396.9L193.0,396.4L193.8,395.8L194.6,395.2L195.3,394.5L196.0,393.7L196.8,392.9L197.5,392.1L198.2,391.4L198.9,390.7L199.7,390.0L200.5,389.4L201.3,388.8L202.2,388.3L203.0,387.7L203.8,387.2L204.7,386.7L205.5,386.3L206.3,385.8L207.1,385.4L207.8,385.0L208.5,384.6L209.1,384.2L209.8,383.8L210.6,383.5L211.4,383.2L212.2,382.9L213.1,382.6L214.1,382.4L215.1,382.2L216.2,381.9L217.3,381.8L218.4,381.6L219.4,381.4L220.5,381.2L221.5,381.1L222.6,381.0L223.6,380.8L224.6,380.7L225.6,380.6L226.7,380.5L227.7,380.5L228.8,380.4L229.9,380.4L231.1,380.4L232.2,380.4L233.4,380.4L234.6,380.4L235.7,380.5L236.9,380.5L238.0,380.6L239.1,380.7L240.1,380.8L241.2,380.9L242.2,381.0L243.2,381.2L244.2,381.3L245.3,381.5L246.3,381.7L247.3,381.9L248.4,382.2L249.4,382.5L250.5,382.9L251.6,383.2L252.6,383.4L253.7,383.6L254.7,383.8L255.7,383.7L256.8,383.7L257.8,383.5L258.9,383.3L259.9,383.1L260.9,382.9L262.0,382.7L263.0,382.5L264.0,382.4L265.1,382.2L266.1,382.1L267.1,382.0L268.2,381.9L269.2,381.8L270.3,381.8L271.3,381.7L272.3,381.7L273.4,381.6L274.4,381.6L275.5,381.6L276.5,381.7L277.5,381.7L278.6,381.7L279.7,381.7L280.8,381.7L282.0,381.7L283.1,381.7L284.3,381.7L285.5,381.6L286.6,381.6L287.7,381.7L288.8,381.7L289.8,381.7L290.8,381.8L291.7,381.8L292.6,381.9L293.5,382.0L294.4,382.1L295.3,382.3L296.3,382.5L297.3,382.8L298.3,383.1L299.4,383.5L300.4,383.9L301.5,384.4L302.6,384.9L303.6,385.3L304.7,385.8L305.8,386.3L306.9,386.9L308.0,387.5L309.1,388.1L310.2,388.6L311.3,389.2L312.2,389.6L313.0,390.0L313.7,390.3L314.3,390.4L314.9,390.5L315.3,390.6L315.7,390.6L316.1,390.6L316.4,390.6L316.6,390.6"/><path d="M159.2,411.7L159.7,411.8L160.4,412.0L161.3,412.2L162.2,412.4L163.2,412.7L164.3,412.9L165.3,413.1L166.3,413.3L167.3,413.5L168.3,413.6L169.3,413.8L170.3,414.0L171.4,414.1L172.5,414.3L173.6,414.4L174.7,414.6L175.9,414.8L177.2,415.2L178.5,415.6L179.8,416.0L181.1,416.2L182.4,416.3L183.6,416.2L184.7,415.8L185.7,415.0L186.6,413.9L187.5,412.6L188.4,411.1L189.2,409.5L189.9,407.9L190.6,406.4L191.3,405.0L191.9,403.8L192.5,402.5L193.1,401.3L193.6,400.1L194.0,398.9L194.5,397.8L195.0,396.8L195.5,395.8L196.0,394.9L196.5,394.1L197.0,393.3L197.6,392.5L198.1,391.8L198.6,391.2L199.1,390.6L199.7,390.0L200.3,389.4L200.9,388.9L201.6,388.5L202.3,388.0L202.9,387.6L203.6,387.3L204.2,387.0L204.7,386.7L205.2,386.5L205.6,386.3L206.0,386.2L206.4,386.2L206.8,386.2L207.2,386.2L207.6,386.2L208.0,386.2L208.5,386.3L208.9,386.4L209.3,386.5L209.8,386.7L210.3,386.9L210.8,387.1L211.5,387.3L212.2,387.5L213.0,387.8L214.0,388.1L215.0,388.4L216.1,388.8L217.2,389.1L218.3,389.4L219.4,389.7L220.5,390.0L221.5,390.2L222.6,390.4L223.6,390.6L224.6,390.8L225.6,390.9L226.7,391.0L227.7,391.1L228.8,391.2L229.9,391.4L231.1,391.5L232.2,391.6L233.4,391.6L234.6,391.7L235.7,391.7L236.9,391.7L238.0,391.7L239.1,391.6L240.0,391.4L241.0,391.2L241.9,391.0L242.9,390.8L244.0,390.6L245.1,390.5L246.3,390.4L247.7,390.4L249.1,390.5L250.7,390.7L252.3,390.9L253.9,391.1L255.6,391.3L257.2,391.5L258.8,391.7L260.4,391.9L262.1,392.1L263.8,392.3L265.5,392.5L267.2,392.7L268.7,392.9L270.1,393.1L271.3,393.3L272.3,393.5L273.1,393.7L273.7,393.9L274.2,394.2L274.7,394.3L275.2,394.4L275.7,394.4L276.3,394.2L277.0,393.9L277.7,393.4L278.4,392.9L279.1,392.3L279.9,391.6L280.7,390.8L281.4,390.0L282.2,389.2L283.0,388.3L283.8,387.3L284.6,386.3L285.4,385.2L286.2,384.0L287.1,382.9L287.9,381.8L288.8,380.8L289.7,379.8L290.6,378.7L291.5,377.6L292.4,376.6L293.4,375.6L294.3,374.7L295.3,373.9L296.3,373.3L297.3,372.8L298.3,372.5L299.2,372.4L300.2,372.3L301.3,372.2L302.3,372.2L303.5,372.2L304.7,372.1L306.1,372.0L307.7,371.9L309.4,371.9L311.2,371.8L312.9,371.8L314.4,371.8L315.7,371.7L316.6,371.7"/><path d="M159.2,408.3L159.7,408.2L160.4,408.1L161.2,407.9L162.1,407.8L163.0,407.6L164.1,407.4L165.2,407.3L166.3,407.1L167.5,406.9L168.8,406.7L170.1,406.5L171.6,406.3L173.0,406.1L174.4,406.0L175.9,405.9L177.2,405.8L178.5,405.8L179.8,405.9L181.1,406.0L182.4,406.1L183.6,406.3L184.8,406.4L186.0,406.6L187.2,406.7L188.3,406.8L189.4,406.9L190.4,406.9L191.5,407.0L192.5,407.1L193.5,407.2L194.5,407.3L195.5,407.5L196.5,407.7L197.6,408.0L198.6,408.3L199.6,408.6L200.7,408.9L201.7,409.3L202.8,409.6L203.8,410.0L204.9,410.4L206.0,410.8L207.1,411.2L208.2,411.7L209.2,412.1L210.3,412.6L211.3,413.0L212.2,413.3L213.0,413.6L213.8,413.9L214.5,414.1L215.2,414.3L215.9,414.5L216.5,414.7L217.2,414.8L218.0,415.0L218.7,415.1L219.5,415.2L220.2,415.3L220.9,415.4L221.7,415.5L222.5,415.6L223.5,415.7L224.7,415.8L226.1,416.0L227.7,416.2L229.4,416.4L231.2,416.7L233.1,416.9L234.9,417.2L236.5,417.4L238.0,417.5L239.3,417.6L240.4,417.6L241.5,417.5L242.5,417.5L243.4,417.5L244.3,417.4L245.3,417.4L246.3,417.5L247.4,417.6L248.5,417.8L249.6,417.9L250.8,418.1L251.9,418.4L252.9,418.6L253.9,418.9L254.7,419.2L255.4,419.5L256.0,419.9L256.4,420.3L256.9,420.7L257.3,421.2L257.7,421.6L258.2,422.1L258.8,422.5L259.5,422.9L260.3,423.2L261.2,423.6L262.0,423.9L262.9,424.3L263.8,424.7L264.7,425.2L265.5,425.8L266.3,426.5L267.1,427.3L267.8,428.1L268.6,429.0L269.3,429.9L270.0,430.8L270.7,431.7L271.3,432.5L271.9,433.3L272.5,434.0L273.0,434.7L273.5,435.4L274.0,436.1L274.5,436.8L275.0,437.5L275.5,438.3L276.0,439.1L276.6,439.9L277.1,440.7L277.6,441.6L278.1,442.4L278.7,443.3L279.2,444.2L279.7,445.0L280.2,445.8L280.7,446.7L281.2,447.5L281.7,448.3L282.3,449.1L282.8,450.0L283.3,450.8L283.8,451.7L284.3,452.6L284.8,453.5L285.4,454.5L285.9,455.4L286.4,456.4L286.9,457.3L287.5,458.3"/><path d="M208.0,425.0L208.3,424.2L208.8,423.2L209.3,421.9L209.8,420.5L210.4,419.1L211.1,417.6L211.7,416.2L212.2,415.0L212.7,413.9L213.2,412.7L213.7,411.7L214.2,410.6L214.8,409.6L215.3,408.6L215.8,407.6L216.3,406.7L216.8,405.8L217.3,405.0L217.8,404.2L218.3,403.5L218.8,402.8L219.3,402.1L219.9,401.4L220.5,400.8L221.1,400.2L221.8,399.6L222.5,399.1L223.2,398.5L224.0,398.0L224.7,397.6L225.5,397.1L226.3,396.7L227.1,396.3L228.0,395.9L228.8,395.6L229.7,395.3L230.6,395.0L231.4,394.7L232.2,394.5L233.0,394.2L233.6,393.9L234.1,393.7L234.5,393.4L234.9,393.2L235.3,393.0L236.0,392.8L236.8,392.6L238.0,392.5L239.5,392.4L241.4,392.3L243.4,392.3L245.6,392.3L247.9,392.3L250.3,392.3L252.5,392.4L254.7,392.5L256.9,392.6L259.1,392.8L261.4,393.1L263.7,393.3L265.9,393.6L268.0,393.8L269.8,394.0L271.3,394.2L272.5,394.3L273.3,394.3L274.0,394.2L274.5,394.2L274.9,394.1L275.3,394.2L275.7,394.3L276.3,394.6L277.0,395.1L277.7,395.6L278.5,396.4L279.2,397.1L280.0,397.9L280.7,398.7L281.5,399.4L282.2,400.0L282.9,400.5L283.6,401.0L284.3,401.5L285.0,401.9L285.6,402.3L286.4,402.7L287.2,403.0L288.0,403.3L288.9,403.5L289.9,403.8L290.9,403.9L292.0,404.1L293.1,404.2L294.2,404.2L295.2,404.2L296.3,404.2L297.3,404.1L298.3,403.9L299.3,403.7L300.3,403.5L301.3,403.2L302.4,403.0L303.5,402.7L304.7,402.5L306.1,402.3L307.7,402.1L309.4,401.9L311.2,401.8L312.9,401.6L314.4,401.5L315.7,401.3L316.6,401.2"/><path d="M214.7,425.0L215.1,424.3L215.7,423.5L216.5,422.4L217.2,421.3L218.1,420.1L218.9,418.9L219.7,417.7L220.5,416.7L221.2,415.8L221.9,414.9L222.6,414.1L223.3,413.2L224.1,412.4L224.8,411.6L225.5,410.8L226.3,410.0L227.1,409.1L228.0,408.2L228.8,407.3L229.7,406.4L230.6,405.6L231.4,404.7L232.2,404.0L233.0,403.3L233.7,402.7L234.2,402.1L234.7,401.6L235.1,401.1L235.7,400.7L236.3,400.4L237.0,400.2L238.0,400.0L239.2,400.0L240.7,400.0L242.3,400.2L244.0,400.4L245.8,400.7L247.5,401.0L249.1,401.4L250.5,401.7L251.7,402.0L252.9,402.5L253.9,402.9L254.9,403.4L255.9,403.8L256.8,404.3L257.8,404.7L258.8,405.0L259.9,405.3L261.0,405.5L262.1,405.7L263.2,405.9L264.2,406.0L265.3,406.1L266.3,406.2L267.2,406.2L268.0,406.3L268.8,406.3L269.5,406.3L270.2,406.3L270.9,406.2L271.5,406.1L272.2,406.0L273.0,405.8L273.8,405.6L274.5,405.3L275.2,404.9L275.9,404.5L276.7,404.2L277.6,403.8L278.6,403.5L279.7,403.3L281.0,403.2L282.4,403.1L284.0,403.0L285.6,403.0L287.3,403.0L288.9,403.0L290.6,403.0L292.2,402.9L293.8,402.8L295.3,402.6L296.9,402.5L298.5,402.3L300.1,402.2L301.6,402.0L303.2,401.8L304.7,401.7L306.3,401.6L308.0,401.4L309.7,401.3L311.4,401.2L313.0,401.1L314.5,401.0L315.7,400.9L316.6,400.8"/><path d="M216.3,425.0L217.0,424.5L217.9,423.8L218.9,423.0L220.1,422.1L221.3,421.1L222.5,420.1L223.7,419.2L224.7,418.3L225.6,417.5L226.5,416.6L227.3,415.7L228.1,414.8L228.9,414.0L229.7,413.2L230.5,412.4L231.3,411.7L232.1,411.0L232.9,410.4L233.7,409.9L234.5,409.3L235.4,408.8L236.2,408.4L237.1,407.9L238.0,407.5L239.0,407.1L240.1,406.7L241.2,406.4L242.3,406.1L243.4,405.8L244.5,405.6L245.4,405.3L246.3,405.0L247.0,404.7L247.5,404.4L248.0,404.2L248.4,403.9L248.8,403.7L249.3,403.4L249.8,403.2L250.5,402.9L251.4,402.6L252.4,402.3L253.5,402.0L254.7,401.7L255.8,401.4L256.9,401.2L257.9,401.0L258.8,400.8L259.5,400.7L260.1,400.6L260.7,400.6L261.2,400.6L261.6,400.6L262.0,400.6L262.5,400.7L263.0,400.8L263.5,400.9L264.0,401.1L264.5,401.2L265.0,401.4L265.5,401.7L266.0,401.9L266.6,402.2L267.2,402.5L267.8,402.8L268.5,403.2L269.2,403.5L269.9,403.9L270.7,404.3L271.4,404.8L272.2,405.3L273.0,405.8L273.8,406.4L274.6,407.1L275.5,407.8L276.3,408.5L277.2,409.3L278.0,410.1L278.9,410.9L279.7,411.7L280.6,412.5L281.4,413.3L282.3,414.2L283.2,415.1L284.1,415.9L284.9,416.7L285.6,417.5L286.3,418.3L286.9,419.0L287.3,419.7L287.7,420.4L288.0,421.0L288.3,421.6L288.7,422.2L289.1,422.8L289.7,423.3L290.4,423.8L291.1,424.4L291.9,424.9L292.7,425.4L293.6,425.9L294.4,426.2L295.4,426.5L296.3,426.7L297.2,426.7L298.2,426.7L299.2,426.5L300.2,426.3L301.2,426.0L302.3,425.7L303.5,425.3L304.7,425.0L306.1,424.6L307.7,424.1L309.4,423.6L311.2,423.0L312.9,422.4L314.4,421.9L315.7,421.5L316.6,421.2"/><path d="M238.0,406.7L238.6,406.4L239.5,406.0L240.5,405.5L241.6,404.9L242.8,404.4L244.0,403.9L245.2,403.5L246.3,403.3L247.3,403.2L248.4,403.1L249.4,403.0L250.5,403.1L251.6,403.2L252.6,403.4L253.7,403.7L254.7,404.2L255.7,404.8L256.8,405.6L257.8,406.5L258.9,407.5L259.9,408.6L260.9,409.7L262.0,410.7L263.0,411.7L264.1,412.7L265.2,413.7L266.3,414.7L267.4,415.7L268.5,416.6L269.5,417.6L270.5,418.4L271.3,419.2L272.0,419.9L272.5,420.4L273.0,420.9L273.4,421.4L273.8,421.8L274.3,422.3L274.8,422.8L275.5,423.3L276.3,423.9L277.3,424.5L278.3,425.2L279.4,425.8L280.5,426.5L281.6,427.1L282.7,427.7L283.8,428.3L284.8,428.8L285.9,429.3L286.9,429.8L288.0,430.2L289.1,430.6L290.1,431.0L291.2,431.4L292.2,431.7L293.2,432.0L294.1,432.3L295.0,432.6L295.9,432.9L296.8,433.2L297.9,433.4L299.1,433.6L300.5,433.8L302.2,433.9L304.4,434.0L306.7,434.1L309.1,434.1L311.4,434.1L313.5,434.2L315.3,434.2L316.6,434.2"/><path d="M179.7,425.0L180.1,424.6L180.6,424.0L181.3,423.2L182.0,422.4L182.8,421.7L183.6,421.0L184.5,420.4L185.5,420.0L186.5,419.8L187.6,419.8L188.8,419.8L190.1,419.9L191.4,420.1L192.7,420.3L194.1,420.6L195.5,420.8L197.0,421.0L198.6,421.3L200.4,421.6L202.1,422.0L203.8,422.3L205.4,422.7L206.8,423.0L208.0,423.3L209.0,423.6L209.7,423.8L210.4,424.1L210.9,424.3L211.3,424.5L211.6,424.7L211.9,424.9L212.2,425.0"/><path d="M288.0,403.3L288.7,403.4L289.5,403.6L290.6,403.8L291.7,404.0L292.9,404.3L294.1,404.5L295.3,404.8L296.3,405.0L297.2,405.2L298.1,405.3L299.0,405.5L299.8,405.6L300.6,405.8L301.4,406.0L302.2,406.3L303.0,406.7L303.8,407.2L304.5,407.7L305.2,408.4L305.9,409.1L306.7,409.7L307.4,410.4L308.1,411.1L308.8,411.7L309.6,412.3L310.4,412.9L311.2,413.5L312.0,414.0L312.8,414.6L313.5,415.1L314.2,415.5L314.7,415.8L315.1,416.0L315.5,416.2L315.8,416.2L316.0,416.3L316.2,416.2L316.4,416.2L316.5,416.2L316.6,416.2"/><path d="M158.8,426.7L159.7,426.6L160.9,426.6L162.3,426.5L163.9,426.5L165.6,426.4L167.3,426.4L168.9,426.3L170.5,426.2L172.0,426.2L173.6,426.2L175.2,426.1L176.9,426.0L178.5,426.0L180.0,426.0L181.6,426.0L183.0,426.0L184.4,426.0L185.7,426.1L187.0,426.2L188.3,426.3L189.5,426.4L190.7,426.6L191.8,426.7L193.0,426.8L194.1,427.0L195.2,427.2L196.2,427.5L197.3,427.7L198.3,428.0L199.3,428.2L200.3,428.3L201.3,428.3L202.4,428.3L203.5,428.2L204.5,428.0L205.6,427.7L206.7,427.5L207.7,427.2L208.7,426.9L209.7,426.7L210.6,426.4L211.5,426.1L212.4,425.8L213.2,425.4L214.0,425.1L214.8,424.8L215.6,424.5L216.3,424.2L217.0,423.9L217.7,423.6L218.3,423.4L218.9,423.1L219.5,422.8L220.1,422.6L220.7,422.3L221.3,422.1L222.0,421.8L222.7,421.5L223.4,421.2L224.1,420.9L224.8,420.6L225.4,420.4L225.9,420.2L226.3,420.0"/><path d="M158.8,428.3L159.7,428.3L160.9,428.2L162.3,428.2L163.9,428.1L165.6,428.0L167.3,428.0L168.9,427.9L170.5,427.9L172.0,427.9L173.6,427.9L175.2,428.0L176.9,428.0L178.5,428.1L180.0,428.2L181.6,428.2L183.0,428.3L184.4,428.5L185.8,428.6L187.1,428.8L188.4,429.0L189.6,429.1L190.8,429.3L191.9,429.5L193.0,429.6L194.0,429.7L194.9,429.8L195.8,429.9L196.6,429.9L197.4,430.0L198.2,430.0L198.9,430.0L199.7,430.0L200.4,429.9L201.2,429.9L201.9,429.7L202.6,429.6L203.2,429.5L203.8,429.3L204.3,429.2L204.7,429.2"/><path d="M158.8,433.8L159.4,433.6L160.1,433.5L160.9,433.3L161.8,433.1L162.8,432.9L163.9,432.8L165.1,432.6L166.3,432.5L167.7,432.4L169.1,432.4L170.7,432.4L172.3,432.4L173.9,432.4L175.6,432.4L177.2,432.4L178.8,432.3L180.4,432.3L182.1,432.2L183.7,432.2L185.3,432.1L187.0,432.0L188.5,431.9L190.0,431.8L191.3,431.7L192.6,431.5L193.7,431.3L194.8,431.2L195.8,430.9L196.7,430.7L197.7,430.5L198.7,430.3L199.7,430.0L200.7,429.7L201.8,429.4L202.9,429.1L203.9,428.8L205.0,428.5L206.0,428.1L207.0,427.8L208.0,427.5L208.9,427.2L209.8,426.9L210.7,426.5L211.5,426.2L212.4,425.9L213.2,425.6L213.9,425.3L214.7,425.0L215.3,424.8L215.9,424.5L216.5,424.3L217.0,424.1L217.6,424.0L218.2,423.8L218.9,423.6L219.7,423.3L220.6,423.1L221.7,422.8L222.8,422.5L224.0,422.2L225.2,422.0L226.4,421.7L227.7,421.5L228.8,421.2L230.0,421.1L231.2,421.0L232.3,420.9L233.5,420.8L234.7,420.7L235.8,420.6L236.9,420.5L238.0,420.4L239.0,420.3L240.0,420.1L240.9,420.0L241.8,419.8L242.7,419.7L243.6,419.6L244.5,419.4L245.5,419.3L246.5,419.2L247.5,419.2L248.6,419.1L249.6,419.0L250.7,419.0L251.7,418.9L252.8,419.0L253.8,419.0L254.9,419.1L256.0,419.2L257.1,419.3L258.2,419.5L259.2,419.6L260.3,419.9L261.2,420.1L262.2,420.4L263.0,420.8L263.8,421.2L264.5,421.6L265.2,422.1L265.9,422.6L266.5,423.1L267.2,423.6L268.0,424.2L268.8,424.7L269.6,425.4L270.4,426.0L271.3,426.7L272.1,427.4L273.0,428.0L273.8,428.6L274.7,429.2L275.5,429.7L276.5,430.2L277.5,430.7L278.4,431.1L279.3,431.6L280.1,431.9L280.8,432.3L281.3,432.5"/><path d="M158.8,436.7L159.1,436.8L159.5,436.9L159.9,437.0L160.4,437.2L161.0,437.3L161.6,437.5L162.3,437.7L163.0,437.9L163.7,438.2L164.5,438.4L165.3,438.7L166.2,439.0L167.2,439.3L168.2,439.6L169.3,439.8L170.5,440.0L171.8,440.1L173.3,440.2L174.8,440.2L176.4,440.3L178.1,440.3L179.8,440.2L181.4,440.2L183.0,440.2L184.6,440.1L186.2,440.1L187.9,440.0L189.5,439.9L191.1,439.8L192.7,439.7L194.1,439.5L195.5,439.3L196.8,439.1L197.9,438.9L199.0,438.6L200.1,438.3L201.1,438.0L202.0,437.7L202.9,437.4L203.8,437.1L204.7,436.8L205.5,436.4L206.2,436.1L207.0,435.7L207.7,435.4L208.3,435.0L209.0,434.6L209.7,434.2L210.3,433.7L211.0,433.2L211.6,432.7L212.3,432.2L212.9,431.7L213.5,431.1L214.1,430.6L214.7,430.0L215.2,429.4L215.8,428.8L216.3,428.1L216.9,427.4L217.4,426.8L217.9,426.2L218.4,425.6L218.8,425.0L219.3,424.5L219.7,424.0L220.2,423.6L220.6,423.1L221.0,422.7L221.4,422.3L221.8,422.0L222.2,421.7L222.5,421.4L222.9,421.1L223.3,420.8L223.6,420.6L223.9,420.4L224.2,420.3L224.5,420.1L224.7,420.0"/><path d="M159.7,438.3L160.2,438.8L160.9,439.4L161.8,440.1L162.7,440.9L163.7,441.7L164.6,442.6L165.5,443.4L166.3,444.2L167.0,444.9L167.7,445.6L168.3,446.4L168.9,447.1L169.5,447.8L170.1,448.6L170.7,449.3L171.3,450.0L171.9,450.7L172.5,451.5L173.1,452.3L173.7,453.1L174.3,453.8L175.0,454.5L175.6,455.0L176.3,455.4L177.1,455.7L177.8,455.8L178.6,455.8L179.5,455.7L180.3,455.5L181.2,455.4L182.1,455.2L183.0,455.0L184.0,454.8L185.0,454.6L186.1,454.4L187.2,454.1L188.3,453.8L189.3,453.5L190.4,453.2L191.3,452.9L192.2,452.6L193.1,452.3L194.0,452.0L194.8,451.6L195.6,451.3L196.4,450.9L197.2,450.5L198.0,450.0L198.8,449.5L199.7,448.9L200.5,448.3L201.3,447.6L202.2,447.0L203.0,446.3L203.8,445.6L204.7,445.0L205.5,444.4L206.4,443.8L207.2,443.2L208.1,442.6L209.0,442.0L209.8,441.4L210.6,440.7L211.3,440.0L212.0,439.2L212.7,438.4L213.4,437.5L214.0,436.6L214.7,435.7L215.2,434.8L215.8,434.0L216.3,433.3L216.8,432.7L217.3,432.1L217.7,431.5L218.1,431.0L218.5,430.6L218.9,430.2L219.3,429.8L219.7,429.6L220.1,429.4L220.5,429.2L220.9,429.2L221.3,429.1L221.7,429.2L222.1,429.4L222.5,429.6L223.0,430.0L223.5,430.5L224.0,431.2L224.5,432.0L225.0,432.9L225.6,433.8L226.1,434.8L226.6,435.8L227.2,436.7L227.7,437.6L228.2,438.6L228.7,439.5L229.2,440.5L229.8,441.5L230.3,442.5L230.8,443.4L231.3,444.2L231.9,444.9L232.4,445.6L233.0,446.3L233.5,446.9L234.1,447.5L234.6,448.0L235.1,448.4L235.5,448.8L235.9,449.0L236.2,449.2L236.4,449.3L236.7,449.3L237.0,449.3L237.2,449.3L237.6,449.2L238.0,449.2L238.5,449.1L238.9,448.9L239.4,448.8L239.9,448.6L240.5,448.3L241.2,448.1L242.0,447.8L243.0,447.5L244.2,447.2L245.6,446.8L247.1,446.3L248.8,445.9L250.5,445.4L252.2,445.0L253.9,444.6L255.5,444.2L257.1,443.8L258.7,443.5L260.3,443.2L261.9,442.9L263.5,442.6L265.1,442.3L266.6,442.0L268.0,441.7L269.4,441.3L270.8,440.9L272.2,440.5L273.5,440.1L274.7,439.7L275.9,439.3L277.0,439.0L278.0,438.8L278.9,438.5L279.7,438.4L280.5,438.2L281.1,438.2L281.7,438.1L282.2,438.0L282.6,438.0L283.0,437.9"/><path d="M158.8,456.7L159.3,456.9L159.9,457.1L160.6,457.5L161.4,457.8L162.2,458.2L163.1,458.5L163.9,458.9L164.7,459.2L165.4,459.4L166.1,459.8L166.9,460.1L167.6,460.4L168.3,460.6L169.0,460.8L169.8,460.9L170.5,460.8L171.2,460.6L171.9,460.3L172.7,459.9L173.4,459.4L174.1,458.8L174.8,458.3L175.6,457.9L176.3,457.5L177.2,457.2L178.1,457.0L179.1,456.7L180.0,456.5L181.0,456.4L181.8,456.2L182.5,456.1L183.0,456.0"/><path d="M158.8,470.8L159.4,470.5L160.2,469.9L161.1,469.3L162.1,468.6L163.1,468.0L164.2,467.3L165.3,466.7L166.3,466.2L167.3,465.9L168.3,465.6L169.2,465.3L170.2,465.1L171.2,464.9L172.3,464.8L173.4,464.7L174.7,464.6L176.1,464.5L177.6,464.6L179.3,464.6L181.0,464.7L182.7,464.8L184.4,464.9L185.9,465.0L187.2,465.0L188.3,465.0L189.2,465.1L190.1,465.1L190.8,465.1L191.5,465.1L192.2,465.0L193.0,464.8L193.8,464.6L194.7,464.2L195.7,463.8L196.6,463.3L197.6,462.7L198.5,462.1L199.5,461.4L200.4,460.7L201.3,460.0L202.2,459.2L203.0,458.4L203.8,457.5L204.6,456.5L205.4,455.6L206.2,454.8L207.1,454.0L208.0,453.3L209.0,452.8L210.0,452.3L211.0,451.9L212.1,451.5L213.1,451.2L214.2,451.0L215.3,450.9L216.3,450.8L217.4,450.9L218.4,451.1L219.5,451.4L220.5,451.8L221.5,452.2L222.6,452.6L223.6,453.0L224.7,453.3L225.7,453.7L226.8,454.0L227.9,454.3L229.0,454.7L230.1,455.0L231.2,455.3L232.1,455.6L233.0,455.8L233.8,456.0L234.6,456.2L235.3,456.3L236.0,456.4L236.6,456.5L237.2,456.6L237.6,456.6L238.0,456.7"/><path d="M187.2,480.0L187.6,479.3L188.3,478.4L189.0,477.2L189.8,476.0L190.7,474.7L191.5,473.3L192.3,472.0L193.0,470.8L193.6,469.7L194.2,468.5L194.7,467.3L195.2,466.1L195.7,465.0L196.2,463.8L196.7,462.7L197.2,461.7L197.7,460.6L198.2,459.6L198.7,458.7L199.2,457.7L199.7,456.8L200.2,455.9L200.8,455.0L201.3,454.2L201.9,453.4L202.5,452.6L203.1,451.8L203.7,451.1L204.4,450.4L205.0,449.7L205.7,449.0L206.3,448.3L207.0,447.7L207.7,447.0L208.3,446.4L209.0,445.7L209.7,445.1L210.5,444.5L211.3,443.9L212.2,443.3L213.1,442.8L214.2,442.2L215.3,441.6L216.5,441.1L217.7,440.6L218.9,440.1L220.1,439.6L221.3,439.2L222.6,438.8L223.9,438.4L225.2,438.1L226.5,437.7L227.8,437.5L229.0,437.2L230.2,436.9L231.3,436.7L232.4,436.4L233.4,436.2L234.4,436.0L235.3,435.8L236.1,435.6L236.9,435.4L237.5,435.3L238.0,435.2"/><path d="M195.5,480.0L195.9,479.3L196.5,478.3L197.2,477.2L198.0,475.9L198.8,474.6L199.7,473.2L200.5,472.0L201.3,470.8L202.1,469.8L202.9,468.8L203.7,467.8L204.5,466.8L205.3,465.8L206.2,464.9L207.1,464.1L208.0,463.3L209.0,462.6L210.0,462.0L211.0,461.4L212.1,460.8L213.1,460.3L214.2,459.9L215.3,459.5L216.3,459.2L217.4,458.9L218.4,458.7L219.5,458.6L220.5,458.5L221.5,458.5L222.6,458.4L223.6,458.4L224.7,458.3L225.7,458.3L226.8,458.2L227.9,458.1L229.0,458.1L230.1,458.1L231.2,458.0L232.1,458.0L233.0,457.9L233.8,457.9L234.6,457.8L235.3,457.7L236.0,457.7L236.6,457.6L237.2,457.6L237.6,457.5L238.0,457.5"/><path d="M201.3,480.0L201.8,479.3L202.5,478.4L203.3,477.3L204.1,476.1L205.1,474.9L206.1,473.7L207.0,472.6L208.0,471.7L209.0,470.9L210.0,470.1L211.0,469.4L212.1,468.7L213.1,468.1L214.2,467.6L215.3,467.1L216.3,466.7L217.4,466.3L218.4,466.1L219.5,465.9L220.5,465.7L221.5,465.6L222.6,465.5L223.6,465.5L224.7,465.4L225.7,465.4L226.8,465.4L227.9,465.4L229.0,465.5L230.1,465.5L231.2,465.6L232.1,465.6L233.0,465.7L233.8,465.7L234.6,465.7L235.3,465.7L236.0,465.8L236.6,465.8L237.2,465.8L237.6,465.8L238.0,465.8"/><path d="M209.7,480.0L210.2,479.6L210.8,479.1L211.6,478.4L212.5,477.7L213.4,476.9L214.4,476.2L215.4,475.6L216.3,475.0L217.3,474.5L218.3,474.1L219.3,473.7L220.4,473.4L221.5,473.0L222.5,472.7L223.6,472.4L224.7,472.1L225.7,471.8L226.8,471.5L227.9,471.2L229.0,470.9L230.1,470.7L231.2,470.4L232.1,470.2L233.0,470.0L233.8,469.8L234.6,469.6L235.3,469.4L236.0,469.2L236.6,469.1L237.2,469.0L237.6,468.8L238.0,468.8"/><path d="M158.8,479.2L159.7,479.0L160.9,478.8L162.3,478.6L163.9,478.3L165.6,478.1L167.3,477.8L168.9,477.6L170.5,477.5L172.0,477.4L173.6,477.4L175.2,477.3L176.9,477.3L178.5,477.4L180.0,477.4L181.6,477.4L183.0,477.5L184.4,477.6L185.8,477.6L187.2,477.7L188.5,477.8L189.7,477.9L190.9,478.0L192.0,478.2L193.0,478.3L193.9,478.5L194.7,478.7L195.5,479.0L196.1,479.2L196.7,479.5L197.2,479.7L197.6,479.9L198.0,480.0"/><path d="M216.3,480.0L216.9,479.8L217.7,479.6L218.6,479.2L219.7,478.9L220.8,478.5L222.0,478.2L223.3,477.8L224.7,477.5L226.2,477.2L228.0,476.8L229.9,476.5L231.9,476.1L233.8,475.8L235.5,475.4L236.9,475.2L238.0,475.0"/><path d="M209.7,420.0L210.2,420.3L210.9,420.6L211.8,421.1L212.7,421.6L213.7,422.1L214.6,422.5L215.5,423.0L216.3,423.3L217.0,423.6L217.6,423.8L218.2,424.0L218.8,424.2L219.3,424.4L219.9,424.6L220.6,424.8L221.3,425.0L222.1,425.3L223.0,425.5L223.9,425.8L224.8,426.1L225.8,426.5L226.8,426.8L227.8,427.1L228.8,427.5L230.0,427.9L231.2,428.4L232.6,428.8L233.9,429.3L235.2,429.8L236.3,430.2L237.3,430.6L238.0,430.8"/><path d="M238.0,430.8L239.0,431.1L240.3,431.4L242.0,431.9L243.7,432.4L245.6,432.9L247.4,433.3L249.1,433.6L250.5,433.8L251.7,433.8L252.9,433.7L254.0,433.5L255.0,433.3L256.0,433.0L256.9,432.6L257.9,432.2L258.8,431.7L259.7,431.1L260.6,430.4L261.5,429.6L262.3,428.8L263.1,427.9L263.9,427.1L264.7,426.4L265.5,425.8L266.3,425.3L267.1,424.8L267.9,424.4L268.7,424.1L269.5,423.8L270.3,423.6L271.0,423.4L271.7,423.3L272.3,423.3L272.9,423.4L273.4,423.5L273.9,423.7L274.4,424.0L275.0,424.3L275.6,424.6L276.3,425.0L277.1,425.4L277.9,425.9L278.9,426.5L279.8,427.1L280.8,427.6L281.8,428.2L282.8,428.7L283.8,429.2L284.8,429.6L285.7,430.0L286.7,430.4L287.7,430.7L288.7,431.1L289.8,431.3L290.9,431.5L292.2,431.7L293.6,431.8L295.1,431.8L296.6,431.8L298.2,431.7L299.9,431.6L301.5,431.5L303.1,431.3L304.7,431.2L306.3,431.2L308.0,431.0L309.7,430.9L311.4,430.8L313.0,430.7L314.5,430.6L315.7,430.5L316.6,430.4"/><path d="M238.0,435.0L239.3,435.0L241.0,435.1L243.0,435.1L245.3,435.1L247.7,435.2L250.1,435.2L252.5,435.3L254.7,435.4L256.8,435.5L259.0,435.7L261.3,435.8L263.5,436.0L265.7,436.2L267.7,436.4L269.6,436.5L271.3,436.7L272.7,436.8L274.0,437.0L275.1,437.1L276.0,437.2L276.9,437.3L277.8,437.5L278.7,437.7L279.7,437.9L280.7,438.2L281.8,438.5L282.8,438.8L283.9,439.1L284.9,439.5L285.9,439.9L287.0,440.3"/><path d="M238.0,456.7L239.0,456.8L240.3,457.0L242.0,457.3L243.7,457.5L245.6,457.8L247.4,458.0L249.1,458.2L250.5,458.3L251.7,458.4L252.9,458.4L253.9,458.4L254.9,458.4L255.9,458.4L256.8,458.3L257.8,458.1L258.8,457.9L259.8,457.6L260.9,457.2L261.9,456.8L263.0,456.3L264.1,455.8L265.1,455.3L266.2,454.7L267.2,454.2L268.3,453.6L269.3,453.0L270.4,452.3L271.5,451.7L272.5,451.0L273.5,450.4L274.5,449.8L275.5,449.2L276.4,448.7L277.3,448.1L278.2,447.6L279.0,447.1L279.8,446.7L280.6,446.3L281.4,446.0L282.2,445.8L283.0,445.7L283.8,445.7L284.5,445.7L285.3,445.8L286.0,446.0L286.7,446.2L287.4,446.4"/><path d="M238.0,459.2L238.6,459.5L239.5,459.9L240.5,460.3L241.6,460.8L242.8,461.3L244.0,461.8L245.2,462.2L246.3,462.5L247.3,462.8L248.4,463.0L249.4,463.2L250.5,463.4L251.6,463.5L252.6,463.5L253.7,463.5L254.7,463.3L255.7,463.0L256.8,462.7L257.8,462.2L258.9,461.7L259.9,461.1L260.9,460.5L262.0,459.8L263.0,459.2L264.0,458.5L265.1,457.8L266.1,456.9L267.1,456.1L268.2,455.3L269.2,454.5L270.3,453.8L271.3,453.3L272.3,452.9L273.4,452.6L274.4,452.3L275.5,452.2L276.6,452.0L277.6,451.9L278.7,451.8L279.7,451.7L280.7,451.6L281.8,451.4L282.8,451.2L283.9,451.1L284.9,451.0L285.9,451.0L287.0,451.1"/><path d="M238.0,466.7L239.3,466.7L241.0,466.8L243.0,466.8L245.3,466.9L247.7,466.9L250.1,466.9L252.5,466.9L254.7,466.7L256.8,466.4L258.9,466.1L260.9,465.6L263.0,465.1L265.1,464.6L267.1,464.1L269.2,463.7L271.3,463.3L273.4,463.0L275.7,462.7L277.9,462.4L280.2,462.1L282.3,461.8L284.4,461.6L286.3,461.4"/><path d="M238.0,470.0L239.0,469.9L240.2,469.8L241.8,469.7L243.5,469.6L245.3,469.5L247.1,469.4L248.9,469.3L250.5,469.2L252.1,469.2L253.7,469.1L255.4,469.1L257.0,469.1L258.6,469.0L260.2,469.1L261.6,469.1L263.0,469.2L264.2,469.3L265.4,469.5L266.4,469.6L267.4,469.8L268.4,470.1L269.3,470.3L270.3,470.5L271.3,470.8L272.3,471.1L273.4,471.4L274.4,471.7L275.5,472.0L276.6,472.3L277.6,472.7L278.7,473.0L279.7,473.3L280.7,473.6L281.8,473.9L282.8,474.3L283.9,474.6L284.9,474.9L285.9,475.2L287.0,475.5"/><path d="M238.0,478.3L239.0,478.1L240.3,477.8L242.0,477.4L243.7,477.0L245.6,476.6L247.4,476.2L249.1,476.0L250.5,475.8L251.7,475.7L252.9,475.7L254.0,475.8L255.0,475.9L256.0,476.0L256.9,476.2L257.9,476.4L258.8,476.7L259.8,477.0L260.7,477.4L261.7,477.9L262.7,478.4L263.5,478.9L264.3,479.4L265.0,479.7L265.5,480.0"/><path d="M283.8,461.7L284.1,461.9L284.6,462.2L285.1,462.5L285.6,462.9L286.2,463.4L286.9,463.9L287.4,464.4"/><path d="M158.8,479.2L159.8,479.5L161.0,480.0L162.5,480.5L164.1,481.1L165.9,481.7L167.5,482.3L169.1,482.9L170.5,483.3L171.7,483.8L172.8,484.2L173.9,484.6L174.9,484.9L175.9,485.2L176.8,485.5L177.8,485.7L178.8,485.8L179.9,485.9L180.9,485.8L182.0,485.7L183.0,485.5L184.0,485.3L185.1,485.1L186.1,484.8L187.2,484.6L188.2,484.3L189.2,484.0L190.1,483.7L191.1,483.3L192.1,482.9L193.1,482.5L194.3,482.1L195.5,481.7L196.9,481.2L198.3,480.7L199.9,480.1L201.5,479.6L203.1,479.0L204.8,478.5L206.4,478.0L208.0,477.5L209.5,477.1L211.0,476.7L212.5,476.3L213.9,475.9L215.4,475.6L217.0,475.2L218.7,474.9L220.5,474.6L222.6,474.3L224.9,474.0L227.5,473.6L230.0,473.4L232.5,473.1L234.7,472.9L236.6,472.7L238.0,472.5"/><path d="M168.0,483.3L168.5,483.0L169.2,482.4L170.0,481.8L170.9,481.1L171.9,480.4L172.8,479.7L173.8,479.2L174.7,478.8L175.5,478.5L176.4,478.3L177.2,478.2L178.1,478.2L179.0,478.1L179.8,478.1L180.6,478.0L181.3,477.9L182.0,477.8L182.7,477.6L183.4,477.4L184.0,477.2L184.7,477.0L185.2,476.8L185.8,476.5L186.3,476.2L186.8,475.9L187.3,475.6L187.7,475.3L188.2,474.9L188.6,474.5L188.9,474.1L189.3,473.7L189.7,473.3L190.0,472.9L190.4,472.5L190.8,472.0L191.1,471.5L191.4,471.0L191.7,470.6L192.0,470.3L192.2,470.0"/><path d="M158.8,486.7L159.4,486.7L160.2,486.8L161.1,486.9L162.1,487.1L163.1,487.2L164.2,487.3L165.3,487.4L166.3,487.5L167.3,487.6L168.4,487.7L169.4,487.7L170.4,487.8L171.5,487.8L172.6,487.9L173.6,487.9L174.7,487.9L175.7,487.9L176.8,487.9L177.8,487.9L178.8,487.8L179.9,487.8L180.9,487.7L182.0,487.6L183.0,487.5L184.0,487.4L185.1,487.2L186.1,487.0L187.2,486.8L188.2,486.6L189.2,486.3L190.3,486.1L191.3,485.8L192.4,485.6L193.4,485.3L194.5,485.0L195.5,484.6L196.5,484.3L197.6,484.0L198.6,483.7L199.7,483.3L200.7,483.0L201.8,482.7L202.8,482.4L203.8,482.1L204.9,481.8L205.9,481.5L207.0,481.1L208.0,480.8L209.0,480.5L210.1,480.2L211.1,479.9L212.2,479.5L213.2,479.2L214.2,478.9L215.3,478.6L216.3,478.3L217.3,478.1L218.3,477.8L219.2,477.6L220.2,477.4L221.2,477.2L222.2,477.0L223.4,476.8L224.7,476.7L226.2,476.5L228.0,476.4L229.9,476.3L231.9,476.1L233.8,476.0L235.5,476.0L236.9,475.9L238.0,475.8"/><path d="M158.8,489.2L159.7,489.4L160.9,489.6L162.3,489.9L163.9,490.3L165.6,490.6L167.3,491.0L168.9,491.3L170.5,491.7L172.1,492.0L173.7,492.4L175.3,492.8L177.0,493.2L178.6,493.5L180.1,493.8L181.6,494.1L183.0,494.2L184.2,494.2L185.4,494.1L186.4,493.9L187.4,493.6L188.4,493.4L189.3,493.1L190.3,492.8L191.3,492.5L192.4,492.2L193.4,491.9L194.5,491.6L195.5,491.3L196.5,491.0L197.6,490.6L198.6,490.3L199.7,490.0L200.7,489.7L201.8,489.4L202.8,489.1L203.8,488.8L204.9,488.4L205.9,488.1L207.0,487.8L208.0,487.5L209.0,487.2L210.1,486.9L211.1,486.6L212.2,486.2L213.2,485.9L214.2,485.6L215.3,485.3L216.3,485.0L217.3,484.7L218.3,484.4L219.2,484.1L220.2,483.8L221.2,483.5L222.2,483.2L223.4,482.9L224.7,482.5L226.2,482.1L228.0,481.6L229.9,481.2L231.9,480.7L233.8,480.2L235.5,479.8L236.9,479.4L238.0,479.2"/><path d="M158.8,495.0L159.4,494.7L160.2,494.4L161.1,494.0L162.1,493.6L163.1,493.1L164.2,492.6L165.3,492.1L166.3,491.7L167.3,491.2L168.4,490.8L169.4,490.4L170.4,489.9L171.5,489.5L172.6,489.0L173.6,488.5L174.7,487.9L175.7,487.3L176.8,486.7L177.9,486.0L178.9,485.3L180.0,484.6L181.0,483.9L182.0,483.2L183.0,482.5L183.9,481.8L184.8,481.1L185.7,480.4L186.6,479.7L187.4,478.9L188.2,478.2L189.0,477.4L189.7,476.7L190.3,475.8L191.0,474.9L191.6,473.9L192.2,473.0L192.7,472.0L193.1,471.2L193.5,470.5L193.8,470.0"/><path d="M158.8,499.2L159.4,499.1L160.2,499.1L161.1,499.1L162.1,499.0L163.1,499.0L164.2,498.9L165.3,498.8L166.3,498.8L167.4,498.7L168.5,498.6L169.6,498.5L170.7,498.4L171.8,498.2L172.9,498.0L173.8,497.8L174.7,497.5L175.4,497.1L176.0,496.7L176.5,496.3L177.0,495.8L177.5,495.2L177.9,494.6L178.3,494.0L178.8,493.3L179.4,492.6L179.9,491.8L180.4,491.0L180.9,490.2L181.4,489.3L182.0,488.4L182.5,487.5L183.0,486.7L183.5,485.8L184.0,485.0L184.6,484.1L185.1,483.2L185.6,482.4L186.1,481.5L186.6,480.8L187.2,480.0L187.7,479.3L188.2,478.6L188.8,478.0L189.3,477.4L189.8,476.8L190.4,476.2L190.9,475.6L191.3,475.0L191.8,474.3L192.3,473.6L192.8,472.9L193.3,472.2L193.7,471.5L194.1,470.9L194.4,470.4L194.7,470.0"/><path d="M158.8,500.8L159.7,500.8L160.9,500.7L162.3,500.6L163.9,500.5L165.6,500.4L167.3,500.3L168.9,500.1L170.5,500.0L172.1,499.8L173.7,499.7L175.3,499.5L177.0,499.4L178.6,499.2L180.1,498.9L181.6,498.7L183.0,498.3L184.3,497.9L185.4,497.5L186.5,497.0L187.5,496.5L188.5,495.9L189.5,495.3L190.4,494.7L191.3,494.2L192.3,493.6L193.1,492.9L194.0,492.2L194.8,491.6L195.6,490.9L196.4,490.3L197.2,489.7L198.0,489.2L198.8,488.7L199.5,488.3L200.1,488.0L200.8,487.7L201.5,487.4L202.2,487.1L203.0,486.9L203.8,486.7L204.8,486.5L205.7,486.3L206.8,486.2L207.8,486.1L208.9,486.1L210.0,486.0L211.1,485.9L212.2,485.8L213.2,485.7L214.2,485.6L215.3,485.6L216.3,485.5L217.4,485.4L218.4,485.3L219.5,485.1L220.5,485.0L221.5,484.8L222.6,484.6L223.6,484.4L224.6,484.2L225.6,483.9L226.7,483.7L227.8,483.5L228.8,483.3L230.0,483.2L231.3,483.0L232.6,482.9L233.9,482.8L235.2,482.7L236.3,482.6L237.3,482.6L238.0,482.5"/><path d="M158.8,510.0L159.4,509.6L160.2,509.1L161.1,508.4L162.1,507.7L163.1,507.0L164.2,506.2L165.3,505.6L166.3,505.0L167.3,504.5L168.4,504.0L169.4,503.6L170.4,503.1L171.5,502.7L172.6,502.3L173.6,502.0L174.7,501.7L175.7,501.4L176.8,501.2L177.8,501.0L178.8,500.8L179.9,500.6L180.9,500.4L182.0,500.2L183.0,500.0L184.0,499.7L185.1,499.5L186.1,499.2L187.2,498.9L188.2,498.5L189.2,498.2L190.3,497.9L191.3,497.5L192.4,497.1L193.4,496.8L194.5,496.4L195.5,496.0L196.5,495.6L197.6,495.1L198.6,494.7L199.7,494.2L200.7,493.6L201.8,493.1L202.8,492.5L203.8,491.8L204.9,491.2L205.9,490.5L207.0,489.8L208.0,489.2L209.0,488.5L210.1,487.7L211.1,487.0L212.2,486.2L213.2,485.4L214.2,484.7L215.3,484.0L216.3,483.3L217.4,482.7L218.4,482.1L219.5,481.6L220.5,481.0L221.5,480.5L222.6,480.0L223.6,479.6L224.7,479.2L225.7,478.8L226.8,478.5L227.9,478.2L229.0,477.9L230.1,477.7L231.2,477.5L232.1,477.3L233.0,477.1L233.8,476.9L234.6,476.8L235.3,476.6L236.0,476.5L236.6,476.4L237.2,476.4L237.6,476.3L238.0,476.2"/><path d="M158.8,517.5L159.4,517.2L160.1,516.8L160.9,516.4L161.8,515.9L162.8,515.4L163.9,514.9L165.1,514.5L166.3,514.2L167.7,513.9L169.2,513.7L170.9,513.6L172.6,513.5L174.4,513.4L176.0,513.3L177.5,513.3L178.8,513.3L179.9,513.4L180.8,513.6L181.6,513.8L182.3,514.0L183.0,514.3L183.7,514.5L184.5,514.6L185.5,514.6L186.6,514.5L187.8,514.4L189.1,514.2L190.4,513.9L191.7,513.6L193.0,513.3L194.3,512.9L195.5,512.5L196.6,512.0L197.7,511.5L198.7,510.9L199.8,510.3L200.8,509.6L201.8,508.9L202.8,508.2L203.8,507.5L204.9,506.7L205.9,505.9L207.0,505.0L208.0,504.2L209.0,503.3L210.1,502.4L211.1,501.6L212.2,500.8L213.2,500.1L214.3,499.4L215.4,498.7L216.5,498.0L217.6,497.4L218.6,496.8L219.6,496.3L220.5,495.8L221.3,495.5L222.1,495.2L222.8,495.0L223.5,494.8L224.2,494.7L224.9,494.6L225.6,494.6L226.3,494.6L227.1,494.6L228.0,494.7L228.8,494.8L229.7,495.0L230.6,495.2L231.4,495.4L232.2,495.6L233.0,495.8L233.7,496.1L234.3,496.3L234.8,496.5L235.3,496.8L235.8,497.1L236.4,497.4L237.1,497.9L238.0,498.3L239.0,499.0L240.2,499.8L241.5,500.6L242.9,501.6L244.3,502.4L245.6,503.2L246.9,503.8L248.0,504.2L249.0,504.3L249.9,504.2L250.7,504.0L251.4,503.7L252.2,503.3L253.0,502.8L253.8,502.2L254.7,501.7L255.6,501.0L256.7,500.2L257.8,499.3L258.9,498.3L260.0,497.3L261.1,496.4L262.1,495.6L263.0,495.0L263.8,494.5L264.6,494.1L265.3,493.8L266.0,493.5L266.7,493.3L267.4,493.2L268.1,493.2L268.8,493.3L269.6,493.6L270.4,493.9L271.2,494.3L272.0,494.8L272.8,495.4L273.7,496.1L274.6,496.8L275.5,497.5L276.5,498.3L277.5,499.1L278.5,500.0L279.6,500.9L280.6,501.9L281.7,502.9L282.8,503.9L283.8,505.0L284.9,506.1L285.9,507.3L287.0,508.5L288.0,509.8L289.0,511.1L290.1,512.4L291.1,513.7L292.2,515.0L293.2,516.2L294.1,517.3L295.0,518.4L295.8,519.5L296.8,520.7L297.9,522.1L299.1,523.6L300.5,525.4L302.2,527.7L304.4,530.4L306.7,533.5L309.1,536.6L311.4,539.7L313.5,542.5L315.3,544.8L316.6,546.5"/><path d="M158.8,522.5L159.4,522.4L160.1,522.3L161.0,522.1L161.9,521.9L162.9,521.7L164.0,521.5L165.2,521.4L166.3,521.2L167.6,521.2L169.0,521.2L170.4,521.2L172.0,521.2L173.4,521.2L174.8,521.2L176.1,521.1L177.2,520.8L178.0,520.5L178.7,520.2L179.2,519.8L179.7,519.3L180.1,518.8L180.4,518.2L180.9,517.5L181.3,516.7L181.8,515.7L182.3,514.4L182.8,513.1L183.3,511.7L183.8,510.2L184.3,508.9L184.9,507.7L185.5,506.7L186.1,505.9L186.8,505.2L187.5,504.6L188.2,504.2L188.9,503.7L189.7,503.3L190.5,502.9L191.3,502.5L192.3,502.1L193.2,501.7L194.3,501.3L195.3,500.9L196.4,500.6L197.5,500.2L198.6,499.7L199.7,499.2L200.7,498.6L201.8,497.9L202.8,497.1L203.8,496.4L204.9,495.6L205.9,494.8L207.0,494.0L208.0,493.3L209.0,492.7L210.1,492.0L211.1,491.4L212.2,490.8L213.2,490.2L214.2,489.6L215.3,489.0L216.3,488.3L217.4,487.7L218.4,487.0L219.5,486.3L220.5,485.7L221.5,485.0L222.6,484.4L223.6,483.8L224.7,483.3L225.7,482.9L226.8,482.5L227.9,482.1L229.0,481.8L230.1,481.5L231.2,481.3L232.1,481.0L233.0,480.8L233.8,480.6L234.6,480.5L235.3,480.4L236.0,480.3L236.6,480.2L237.2,480.1L237.6,480.1L238.0,480.0"/><path d="M238.0,475.8L239.0,475.6L240.2,475.2L241.8,474.7L243.5,474.2L245.3,473.7L247.1,473.3L248.9,472.8L250.5,472.5L252.1,472.2L253.6,472.0L255.2,471.7L256.8,471.5L258.3,471.4L259.9,471.3L261.4,471.2L263.0,471.2L264.6,471.3L266.1,471.5L267.7,471.7L269.2,472.0L270.8,472.3L272.4,472.6L273.9,473.0L275.5,473.3L277.1,473.8L278.7,474.2L280.4,474.8L282.0,475.3L283.6,475.9L285.2,476.5L286.6,477.0"/><path d="M238.0,483.3L239.0,483.2L240.2,483.0L241.8,482.7L243.5,482.4L245.3,482.2L247.1,481.9L248.9,481.8L250.5,481.7L252.1,481.6L253.6,481.7L255.2,481.8L256.8,481.9L258.3,482.0L259.9,482.2L261.4,482.3L263.0,482.5L264.5,482.7L266.0,482.9L267.5,483.1L269.0,483.4L270.5,483.6L272.1,483.8L273.7,484.0L275.5,484.2L277.5,484.2L279.7,484.2L282.0,484.2L284.4,484.2L286.6,484.1L288.8,484.1L290.7,484.1L292.2,484.2L293.3,484.3L294.0,484.4L294.5,484.5L294.8,484.7L295.0,484.9L295.3,485.1L295.7,485.5L296.3,485.8L297.2,486.3L298.2,486.8L299.2,487.4L300.3,488.1L301.5,488.8L302.6,489.4L303.7,490.1L304.7,490.8L305.6,491.5L306.5,492.3L307.4,493.1L308.2,493.9L309.0,494.7L309.8,495.5L310.6,496.1L311.3,496.7L312.1,497.1L312.9,497.5L313.6,497.8L314.4,498.1L315.1,498.3L315.7,498.5L316.2,498.6L316.6,498.8"/><path d="M238.0,480.0L238.6,480.0L239.5,479.9L240.5,479.9L241.6,479.8L242.8,479.8L244.1,479.8L245.2,479.8L246.3,480.0L247.4,480.3L248.4,480.6L249.5,481.0L250.5,481.4L251.5,481.9L252.6,482.4L253.6,482.9L254.7,483.3L255.7,483.8L256.8,484.3L257.9,484.9L258.9,485.4L260.0,486.0L261.0,486.5L262.0,487.0L263.0,487.5L263.9,488.0L264.8,488.4L265.7,488.9L266.5,489.3L267.3,489.8L268.1,490.2L268.9,490.5L269.7,490.8L270.4,491.0L271.1,491.1L271.8,491.2L272.5,491.2L273.2,491.2L273.9,491.4L274.7,491.6L275.5,492.1L276.4,492.7L277.4,493.4L278.4,494.3L279.5,495.2L280.6,496.2L281.7,497.3L282.8,498.4L283.8,499.6L284.9,500.8L285.9,502.1L287.0,503.5L288.0,504.9L289.0,506.4L290.1,507.9L291.1,509.4L292.2,510.8L293.2,512.2L294.1,513.4L295.0,514.6L295.8,515.9L296.8,517.2L297.9,518.7L299.1,520.4L300.5,522.5L302.2,525.1L304.4,528.2L306.7,531.7L309.1,535.2L311.4,538.7L313.5,541.9L315.3,544.6L316.6,546.5"/><path d="M293.8,484.2L294.0,484.4L294.2,484.7L294.5,484.9L294.8,485.3L295.1,485.8L295.5,486.4L295.9,487.3L296.3,488.3L296.8,489.7L297.4,491.3L298.0,493.2L298.7,495.2L299.3,497.2L300.0,499.3L300.7,501.4L301.3,503.3L301.9,505.1L302.5,506.8L303.0,508.4L303.5,510.0L304.1,511.7L304.7,513.7L305.5,515.8L306.3,518.3L307.4,521.4L308.8,525.1L310.2,529.2L311.8,533.4L313.3,537.4L314.6,541.1L315.8,544.2L316.6,546.5"/><path d="M318.0,400.4L318.9,400.4L320.1,400.5L321.5,400.6L323.0,400.6L324.6,400.6L326.2,400.6L327.6,400.4L328.8,400.0L329.8,399.5L330.6,398.7L331.4,397.9L332.1,397.0L332.8,396.0L333.4,395.1L334.0,394.1L334.7,393.3L335.4,392.5L336.0,391.7L336.6,390.9L337.3,390.1L337.9,389.4L338.5,388.7L339.1,388.1L339.7,387.5L340.3,387.0L341.0,386.5L341.6,386.1L342.2,385.8L342.9,385.5L343.5,385.3L344.1,385.1L344.7,385.0L345.3,385.0L345.8,385.0L346.4,385.2L346.9,385.4L347.4,385.6L348.0,385.9L348.5,386.2L349.0,386.5L349.5,386.8L350.0,387.3L350.5,387.7L351.0,388.2L351.4,388.7L351.9,389.1L352.5,389.6L353.0,390.0L353.5,390.4L354.1,390.8L354.6,391.1L355.1,391.5L355.7,391.8L356.4,392.1L357.1,392.3L358.0,392.5L359.0,392.6L360.0,392.6L361.1,392.6L362.3,392.5L363.5,392.4L364.9,392.3L366.4,392.2L368.0,392.1L369.8,392.0L371.8,392.0L373.9,391.9L376.1,391.8L378.4,391.7L380.6,391.7L382.7,391.6L384.7,391.5L386.5,391.4L388.3,391.4L390.1,391.3L391.8,391.2L393.4,391.2L395.0,391.1L396.5,391.0L398.0,390.8L399.4,390.6L400.7,390.4L402.0,390.1L403.2,389.9L404.3,389.6L405.5,389.3L406.7,389.1L408.0,388.8L409.3,388.5L410.7,388.3L412.1,388.0L413.6,387.7L415.0,387.4L416.3,387.1L417.6,386.9L418.8,386.7L419.9,386.5L420.9,386.3L421.9,386.1L422.8,385.9L423.7,385.7L424.6,385.6L425.4,385.7L426.3,385.8L427.2,386.1L428.1,386.5L428.9,387.0L429.8,387.5L430.6,388.1L431.5,388.8L432.2,389.4L433.0,390.0L433.7,390.6L434.4,391.2L435.0,391.7L435.6,392.3L436.2,393.0L436.8,393.6L437.4,394.3L438.0,395.0L438.6,395.7L439.2,396.5L439.9,397.3L440.5,398.1L441.1,399.0L441.8,399.9L442.4,400.8L443.0,401.7L443.6,402.7L444.3,403.7L444.9,404.7L445.6,405.7L446.2,406.8L446.9,407.9L447.5,409.0L448.0,410.0L448.5,411.1L448.9,412.1L449.4,413.2L449.8,414.3L450.1,415.4L450.5,416.4L450.9,417.4L451.3,418.3L451.7,419.2L452.1,420.0L452.5,420.8L452.9,421.6L453.3,422.4L453.7,423.0L454.2,423.7L454.7,424.2L455.2,424.7L455.8,425.1L456.3,425.4L456.9,425.7L457.6,425.9L458.3,426.1L459.1,426.3L460.0,426.5L461.0,426.6L462.2,426.8L463.5,426.8L464.8,426.9L466.2,426.9L467.5,426.9L468.8,426.9L470.0,427.0L471.2,427.1L472.3,427.1L473.5,427.2L474.6,427.3L475.7,427.3L476.6,427.4L477.4,427.5L478.0,427.5"/><path d="M316.6,401.7L317.7,401.8L319.1,401.8L320.9,401.9L322.8,402.0L324.8,402.1L326.8,402.2L328.7,402.4L330.5,402.5L332.2,402.6L333.8,402.8L335.5,403.0L337.1,403.2L338.7,403.4L340.2,403.6L341.6,403.7L343.0,403.8L344.2,403.7L345.4,403.7L346.4,403.6L347.4,403.5L348.4,403.3L349.3,403.2L350.3,403.0L351.3,402.9L352.3,402.8L353.4,402.7L354.4,402.6L355.5,402.5L356.6,402.3L357.6,402.2L358.7,402.0L359.7,401.7L360.7,401.4L361.8,401.0L362.8,400.5L363.9,400.0L364.9,399.5L365.9,399.1L367.0,398.7L368.0,398.3L369.0,398.0L370.1,397.7L371.1,397.4L372.1,397.2L373.2,397.0L374.2,396.8L375.3,396.7L376.3,396.7L377.3,396.7L378.4,396.9L379.4,397.0L380.5,397.2L381.6,397.5L382.6,397.8L383.7,398.0L384.7,398.3L385.8,398.6L386.9,398.9L388.0,399.3L389.1,399.6L390.1,400.0L391.2,400.3L392.1,400.6L393.0,400.8L393.8,400.9L394.4,401.0L395.0,401.1L395.5,401.1L396.0,401.1L396.6,401.1L397.2,401.1L398.0,401.2L398.9,401.3L399.8,401.4L400.9,401.4L401.9,401.5L403.0,401.6L404.1,401.8L405.2,402.1L406.3,402.5L407.3,403.0L408.4,403.6L409.4,404.3L410.5,405.0L411.6,405.8L412.6,406.6L413.7,407.5L414.7,408.3L415.8,409.2L416.8,410.1L417.9,411.1L419.0,412.0L420.0,413.0L421.0,414.0L422.0,414.9L423.0,415.8L423.9,416.6L424.8,417.4L425.7,418.2L426.5,419.0L427.3,419.7L428.1,420.4L428.9,421.1L429.7,421.7L430.5,422.2L431.2,422.7L431.8,423.2L432.5,423.6L433.2,424.0L433.9,424.3L434.7,424.7L435.5,425.0L436.4,425.3L437.3,425.6L438.2,425.9L439.2,426.1L440.3,426.3L441.4,426.5L442.5,426.6L443.8,426.7L445.1,426.7L446.4,426.6L447.8,426.5L449.2,426.3L450.8,426.1L452.4,425.9L454.3,425.8L456.3,425.8L458.7,425.9L461.6,426.0L464.7,426.2L467.9,426.4L471.0,426.6L473.9,426.8L476.3,427.0L478.0,427.1"/><path d="M316.6,401.2L317.7,401.3L319.1,401.4L320.9,401.5L322.8,401.6L324.8,401.7L326.8,401.8L328.7,402.0L330.5,402.1L332.2,402.3L333.9,402.5L335.5,402.7L337.2,402.9L338.8,403.1L340.3,403.3L341.7,403.3L343.0,403.3L344.1,403.2L345.1,403.0L346.0,402.7L346.8,402.4L347.5,402.0L348.2,401.6L348.9,401.2L349.7,400.8L350.5,400.4L351.2,399.8L351.9,399.3L352.7,398.7L353.4,398.2L354.1,397.6L354.8,397.1L355.5,396.7L356.2,396.3L356.8,396.0L357.5,395.7L358.1,395.5L358.8,395.2L359.5,395.0L360.3,394.8L361.3,394.6L362.4,394.4L363.6,394.2L364.9,394.0L366.3,393.8L367.8,393.7L369.2,393.5L370.7,393.4L372.2,393.3L373.7,393.2L375.3,393.1L377.0,393.0L378.6,392.9L380.2,392.9L381.8,392.9L383.3,392.9L384.7,392.9L386.0,393.0L387.1,393.1L388.3,393.2L389.3,393.4L390.3,393.6L391.3,393.8L392.1,394.0L393.0,394.2L393.8,394.4L394.4,394.6L395.0,394.8L395.5,395.0L396.0,395.2L396.6,395.4L397.2,395.6L398.0,395.8L398.9,396.0L399.8,396.1L400.9,396.3L401.9,396.4L403.0,396.6L404.1,396.7L405.2,396.9L406.3,397.1L407.4,397.3L408.4,397.5L409.5,397.7L410.6,397.9L411.7,398.2L412.7,398.5L413.7,398.8L414.7,399.2L415.6,399.7L416.5,400.2L417.3,400.8L418.2,401.4L419.0,402.0L419.7,402.7L420.5,403.4L421.3,404.2L422.1,405.0L422.8,405.9L423.6,406.9L424.3,407.9L425.0,408.9L425.7,409.9L426.5,410.8L427.2,411.7L427.9,412.5L428.6,413.4L429.3,414.2L430.1,415.0L430.8,415.8L431.5,416.4L432.2,417.0L433.0,417.5L433.8,417.9L434.6,418.1L435.4,418.3L436.2,418.4L437.0,418.4L437.9,418.4L438.8,418.3L439.7,418.3L440.7,418.2L441.7,418.1L442.7,417.9L443.7,417.7L444.8,417.5L445.9,417.2L447.0,417.0L448.0,416.7L449.0,416.4L450.1,416.1L451.1,415.8L452.1,415.5L453.2,415.2L454.2,414.8L455.3,414.5L456.3,414.2L457.3,413.9L458.4,413.6L459.4,413.3L460.5,412.9L461.6,412.6L462.6,412.3L463.7,412.0L464.7,411.7L465.8,411.4L466.9,411.1L468.0,410.7L469.1,410.4L470.1,410.1L471.2,409.8L472.1,409.5L473.0,409.2L473.8,408.9L474.6,408.7L475.3,408.4L476.0,408.2L476.6,408.0L477.2,407.8L477.6,407.6L478.0,407.5"/><path d="M318.0,416.7L318.5,416.3L319.2,415.8L320.1,415.2L321.0,414.5L322.0,413.8L322.9,413.0L323.9,412.3L324.7,411.7L325.5,411.1L326.2,410.4L326.8,409.8L327.5,409.1L328.2,408.5L328.9,408.0L329.7,407.5L330.5,407.1L331.4,406.8L332.4,406.6L333.4,406.5L334.5,406.5L335.6,406.5L336.7,406.4L337.7,406.4L338.8,406.2L339.9,406.1L341.0,405.9L342.1,405.7L343.2,405.5L344.2,405.3L345.3,405.0L346.3,404.8L347.2,404.6L348.0,404.4L348.8,404.2L349.5,403.9L350.2,403.7L350.9,403.5L351.5,403.3L352.2,403.1L353.0,402.9L353.8,402.7L354.8,402.5L355.7,402.4L356.7,402.2L357.6,402.0L358.5,401.9L359.2,401.8L359.7,401.7"/><path d="M316.6,421.2L317.3,421.4L318.3,421.8L319.5,422.1L320.8,422.6L322.1,423.0L323.6,423.4L325.0,423.8L326.3,424.2L327.6,424.5L329.1,424.9L330.5,425.2L332.0,425.5L333.4,425.8L334.8,426.0L336.1,426.2L337.2,426.2L338.2,426.2L338.9,426.2L339.6,426.0L340.3,425.8L340.9,425.5L341.5,425.2L342.2,424.7L343.0,424.2L343.9,423.5L344.9,422.6L346.0,421.6L347.1,420.6L348.2,419.5L349.3,418.5L350.3,417.5L351.3,416.7L352.2,416.0L353.1,415.4L354.0,414.8L354.8,414.2L355.6,413.7L356.4,413.3L357.2,412.9L358.0,412.5L358.8,412.2L359.5,411.9L360.1,411.7L360.8,411.6L361.5,411.4L362.2,411.3L363.0,411.1L363.8,410.8L364.7,410.5L365.7,410.1L366.8,409.7L367.8,409.3L368.9,408.8L370.0,408.4L371.1,407.9L372.2,407.5L373.2,407.1L374.3,406.6L375.3,406.2L376.4,405.8L377.4,405.3L378.4,404.9L379.5,404.5L380.5,404.2L381.5,403.9L382.6,403.6L383.6,403.3L384.6,403.1L385.6,402.9L386.7,402.7L387.7,402.6L388.8,402.5L389.9,402.4L391.1,402.3L392.2,402.3L393.4,402.3L394.6,402.3L395.7,402.4L396.9,402.6L398.0,403.0L399.1,403.5L400.1,404.1L401.2,404.9L402.2,405.7L403.2,406.6L404.2,407.5L405.3,408.4L406.3,409.2L407.3,410.0L408.4,410.8L409.4,411.7L410.5,412.5L411.6,413.4L412.6,414.2L413.7,415.0L414.7,415.8L415.7,416.6L416.8,417.4L417.8,418.1L418.9,418.9L419.9,419.7L420.9,420.4L422.0,421.1L423.0,421.7L424.0,422.3L425.1,422.9L426.1,423.5L427.1,424.0L428.2,424.5L429.2,425.0L430.3,425.4L431.3,425.8L432.3,426.1L433.2,426.4L434.1,426.7L435.0,426.9L435.9,427.1L437.0,427.3L438.3,427.4L439.7,427.5L441.3,427.6L443.2,427.6L445.1,427.6L447.2,427.6L449.3,427.5L451.6,427.5L453.9,427.5L456.3,427.5L458.9,427.5L461.9,427.6L465.0,427.7L468.2,427.8L471.2,427.8L474.0,427.9L476.3,428.0L478.0,428.0"/><path d="M316.6,430.4L318.0,430.5L320.0,430.6L322.3,430.7L324.9,430.9L327.5,431.0L330.1,431.1L332.6,431.2L334.7,431.2L336.6,431.3L338.3,431.2L340.0,431.2L341.6,431.2L343.1,431.1L344.5,430.9L345.9,430.7L347.2,430.4L348.4,430.0L349.6,429.5L350.6,429.0L351.6,428.4L352.6,427.8L353.5,427.1L354.5,426.5L355.5,425.8L356.5,425.1L357.6,424.5L358.6,423.8L359.6,423.0L360.7,422.3L361.7,421.5L362.8,420.8L363.8,420.0L364.8,419.2L365.9,418.4L366.9,417.5L368.0,416.7L369.1,415.8L370.1,415.0L371.2,414.1L372.2,413.3L373.2,412.4L374.3,411.5L375.3,410.6L376.4,409.7L377.4,408.8L378.4,408.0L379.5,407.3L380.5,406.7L381.5,406.3L382.6,405.9L383.6,405.7L384.6,405.5L385.6,405.4L386.7,405.4L387.7,405.4L388.8,405.4L389.9,405.5L391.0,405.6L392.1,405.8L393.2,406.0L394.3,406.2L395.5,406.5L396.7,406.8L398.0,407.1L399.4,407.4L400.9,407.7L402.4,407.9L404.0,408.2L405.6,408.6L407.2,409.0L408.6,409.4L410.0,410.0L411.3,410.7L412.6,411.6L413.9,412.5L415.1,413.5L416.3,414.5L417.3,415.4L418.1,416.2L418.8,416.7"/><path d="M418.8,416.7L419.8,416.2L421.1,415.5L422.8,414.6L424.5,413.7L426.4,412.7L428.2,411.7L429.8,410.8L431.3,410.0L432.6,409.3L433.7,408.6L434.8,407.9L435.9,407.3L436.9,406.7L437.8,406.1L438.8,405.5L439.7,405.0L440.6,404.5L441.6,404.0L442.4,403.5L443.3,403.0L444.1,402.6L444.9,402.2L445.6,401.9L446.3,401.7L446.9,401.6L447.3,401.5L447.7,401.6L448.0,401.6L448.3,401.8L448.7,402.0L449.1,402.2L449.7,402.5L450.4,402.9L451.1,403.4L451.9,404.0L452.7,404.6L453.6,405.2L454.4,405.8L455.4,406.3L456.3,406.7L457.2,407.0L458.2,407.2L459.1,407.3L460.1,407.4L461.1,407.4L462.2,407.5L463.4,407.5L464.7,407.5L466.2,407.5L468.0,407.5L469.9,407.4L471.9,407.4L473.8,407.3L475.5,407.2L476.9,407.1L478.0,407.1"/><path d="M316.6,435.0L317.7,435.0L319.1,434.9L320.9,434.9L322.8,434.8L324.8,434.7L326.8,434.6L328.7,434.4L330.5,434.2L332.2,433.9L333.8,433.5L335.5,433.1L337.1,432.7L338.7,432.2L340.2,431.7L341.6,431.2L343.0,430.8L344.2,430.4L345.4,429.9L346.4,429.5L347.4,429.1L348.4,428.7L349.3,428.3L350.3,427.9L351.3,427.5L352.3,427.1L353.4,426.8L354.4,426.4L355.5,426.0L356.6,425.7L357.6,425.4L358.7,425.2L359.7,425.0L360.7,424.9L361.8,425.0L362.8,425.1L363.9,425.2L364.9,425.4L365.9,425.5L367.0,425.5L368.0,425.4L369.0,425.2L370.1,424.9L371.1,424.5L372.1,424.1L373.2,423.7L374.2,423.3L375.3,422.9L376.3,422.5L377.3,422.1L378.4,421.8L379.4,421.4L380.5,421.0L381.6,420.7L382.6,420.4L383.7,420.2L384.7,420.0L385.8,419.9L386.9,419.9L388.0,419.9L389.1,420.0L390.1,420.1L391.2,420.2L392.1,420.3L393.0,420.4L393.7,420.4L394.3,420.5L394.8,420.5L395.2,420.5L395.7,420.5L396.3,420.6L397.0,420.6L398.0,420.8L399.2,421.0L400.7,421.4L402.3,421.7L404.0,422.1L405.8,422.5L407.5,422.9L409.1,423.1L410.5,423.3L411.7,423.3L412.9,423.3L413.9,423.2L414.9,423.0L415.9,422.8L416.8,422.7L417.8,422.5L418.8,422.5L419.8,422.5L420.9,422.6L421.9,422.7L423.0,422.8L424.1,422.9L425.1,423.1L426.2,423.2L427.2,423.3L428.2,423.4L429.3,423.5L430.3,423.7L431.4,423.8L432.4,423.9L433.4,424.0L434.5,424.1L435.5,424.2L436.5,424.2L437.6,424.3L438.6,424.3L439.6,424.3L440.7,424.3L441.7,424.3L442.8,424.2L443.8,424.2L444.8,424.1L445.8,424.1L446.8,424.0L447.7,423.9L448.7,423.7L449.8,423.6L451.0,423.5L452.2,423.3L453.6,423.1L455.1,423.0L456.8,422.8L458.5,422.7L460.1,422.5L461.8,422.2L463.3,422.0L464.7,421.7L466.0,421.4L467.1,421.0L468.3,420.5L469.3,420.1L470.3,419.6L471.3,419.1L472.1,418.7L473.0,418.3L473.8,417.9L474.6,417.6L475.3,417.2L476.0,416.8L476.6,416.5L477.2,416.2L477.6,416.0L478.0,415.8"/><path d="M347.2,438.3L348.3,437.7L349.4,437.2L350.4,436.8L351.5,436.4L352.5,436.0L353.5,435.7L354.5,435.4L355.5,435.0L356.5,434.6L357.6,434.2L358.6,433.9L359.6,433.5L360.7,433.2L361.7,432.9L362.8,432.6L363.8,432.5L364.8,432.4L365.9,432.5L366.9,432.6L368.0,432.7L369.1,432.8L370.1,433.0L371.2,433.2L372.2,433.3L373.2,433.4L374.3,433.5L375.3,433.6L376.4,433.6L377.4,433.7L378.4,433.9L379.5,434.0L380.5,434.2L381.5,434.4L382.6,434.7L383.6,435.1L384.6,435.4L385.6,435.7L386.7,436.1L387.7,436.4L388.8,436.7L389.9,437.0L391.1,437.4L392.2,437.7L393.4,438.1L394.6,438.4L395.7,438.6L396.9,438.6L398.0,438.5L399.1,438.2L400.1,437.7L401.2,437.1L402.2,436.3L403.2,435.5L404.2,434.8L405.3,434.0L406.3,433.3L407.3,432.6L408.4,431.8L409.4,431.0L410.5,430.2L411.6,429.5L412.6,428.9L413.7,428.5L414.7,428.3L415.7,428.4L416.8,428.6L417.8,429.1L418.9,429.7L419.9,430.3L420.9,431.1L422.0,431.8L423.0,432.5L424.1,433.2L425.2,434.0L426.4,434.9L427.5,435.8L428.6,436.6L429.6,437.5L430.5,438.4L431.3,439.2L431.9,440.0L432.4,440.8L432.8,441.7L433.1,442.5L433.3,443.3L433.5,444.0L433.6,444.6L433.8,445.0"/><path d="M353.0,445.0L353.5,444.4L354.2,443.5L355.0,442.5L355.8,441.4L356.8,440.2L357.8,439.0L358.7,437.8L359.7,436.7L360.7,435.6L361.7,434.3L362.8,433.0L363.9,431.8L364.9,430.6L366.0,429.6L367.0,428.8L368.0,428.3L368.9,428.2L369.8,428.3L370.7,428.7L371.5,429.3L372.3,429.9L373.1,430.6L373.9,431.2L374.7,431.7L375.5,432.1L376.2,432.6L376.8,433.1L377.5,433.6L378.2,434.1L378.9,434.5L379.7,434.8L380.5,435.0L381.4,435.1L382.4,435.1L383.4,435.1L384.4,435.0L385.5,434.8L386.6,434.6L387.7,434.4L388.8,434.2L389.9,434.0L391.1,433.7L392.2,433.4L393.4,433.0L394.6,432.7L395.7,432.3L396.9,432.0L398.0,431.7L399.1,431.5L400.1,431.2L401.2,431.0L402.2,430.8L403.2,430.7L404.2,430.5L405.3,430.2L406.3,430.0L407.3,429.7L408.4,429.3L409.4,428.8L410.5,428.4L411.6,428.0L412.6,427.7L413.7,427.5L414.7,427.5L415.7,427.7L416.8,428.1L417.8,428.6L418.9,429.2L419.9,429.9L420.9,430.6L422.0,431.2L423.0,431.7L424.0,432.2L425.0,432.7L425.9,433.2L426.9,433.7L427.9,434.2L428.9,434.5L430.1,434.8L431.3,435.0L432.7,435.0L434.1,434.9L435.7,434.7L437.3,434.5L438.9,434.1L440.6,433.8L442.2,433.5L443.8,433.3L445.4,433.1L447.0,432.8L448.7,432.5L450.3,432.2L451.9,431.9L453.5,431.8L454.9,431.7L456.3,431.7L457.5,431.9L458.7,432.1L459.8,432.4L460.8,432.8L461.7,433.3L462.7,433.8L463.7,434.4L464.7,435.0L465.8,435.7L466.9,436.5L468.0,437.4L469.2,438.3L470.3,439.3L471.3,440.2L472.2,441.0L473.0,441.7L473.7,442.3L474.2,442.8L474.7,443.2L475.1,443.6L475.4,444.0L475.7,444.3L476.0,444.7L476.3,445.0L476.6,445.3L476.9,445.6L477.1,445.9L477.4,446.2L477.6,446.5L477.7,446.7L477.9,446.9L478.0,447.0"/><path d="M346.3,444.6L347.3,444.0L348.6,443.2L350.0,442.4L351.4,441.7L352.9,441.0L354.3,440.4L355.5,440.0L356.6,439.8L357.6,439.7L358.6,439.7L359.5,439.8L360.5,440.0L361.5,440.2L362.6,440.5L363.8,440.8L365.2,441.2L366.9,441.7L368.7,442.3L370.6,443.0L372.3,443.6L374.0,444.2L375.3,444.7L376.3,445.0"/><path d="M438.0,385.0L438.3,385.4L438.8,385.8L439.3,386.4L439.8,387.0L440.4,387.7L441.1,388.5L441.7,389.2L442.2,390.0L442.7,390.9L443.3,391.8L443.9,392.8L444.4,393.9L444.9,394.9L445.4,395.9L445.9,396.8L446.3,397.5L446.6,398.1L446.7,398.6L446.8,399.1L446.9,399.5L447.0,399.8L447.2,400.0L447.5,400.0L448.0,400.0L448.7,399.8L449.6,399.4L450.6,398.8L451.7,398.2L452.9,397.5L454.1,396.9L455.2,396.3L456.3,395.8L457.3,395.4L458.4,395.1L459.4,394.8L460.5,394.6L461.6,394.3L462.6,394.1L463.7,393.7L464.7,393.3L465.8,392.8L466.9,392.2L468.0,391.5L469.1,390.8L470.1,390.2L471.2,389.5L472.1,388.9L473.0,388.3L473.8,387.8L474.6,387.3L475.3,386.8L476.0,386.3L476.6,385.9L477.2,385.6L477.6,385.2L478.0,385.0"/><path d="M441.3,385.0L442.2,385.3L443.3,385.6L444.7,386.0L446.2,386.5L447.8,387.0L449.4,387.5L450.9,387.9L452.2,388.3L453.4,388.7L454.5,389.0L455.5,389.4L456.5,389.8L457.5,390.1L458.5,390.4L459.5,390.6L460.5,390.8L461.5,390.9L462.6,391.0L463.6,391.0L464.6,391.0L465.6,390.9L466.7,390.9L467.7,390.8L468.8,390.8L470.0,390.8L471.3,390.7L472.6,390.7L473.9,390.6L475.2,390.5L476.3,390.5L477.3,390.4L478.0,390.4"/><path d="M403.8,445.0L404.7,444.8L405.8,444.5L407.2,444.2L408.7,443.8L410.3,443.4L411.9,443.1L413.4,442.7L414.7,442.5L415.9,442.3L417.0,442.1L418.0,441.9L419.0,441.7L420.0,441.6L421.0,441.6L422.0,441.6L423.0,441.7L424.1,441.9L425.3,442.3L426.5,442.8L427.7,443.3L428.8,443.8L429.8,444.3L430.7,444.7L431.3,445.0"/><path d="M456.3,425.8L457.3,426.1L458.6,426.4L460.2,426.8L462.0,427.2L463.8,427.7L465.6,428.2L467.3,428.7L468.8,429.2L470.2,429.7L471.5,430.3L472.9,430.9L474.2,431.5L475.4,432.0L476.4,432.5L477.3,433.0L478.0,433.3"/><path d="M346.2,440.4L346.9,440.0L347.5,439.6L348.2,439.2L348.7,438.8L349.2,438.5L349.7,438.2L350.0,438.0"/><path d="M346.5,446.6L347.6,446.3L348.5,446.0L349.5,445.6L350.4,445.3L351.3,445.0L352.1,444.7L352.9,444.3L353.7,443.9L354.4,443.6L355.0,443.2L355.7,442.9L356.4,442.7L357.2,442.5L358.0,442.4L358.8,442.4L359.5,442.4L360.3,442.4L361.2,442.5L362.0,442.6L362.9,442.7L363.8,442.9L364.8,443.1L365.8,443.3L366.8,443.5L367.9,443.8L369.0,444.1L370.1,444.4L371.1,444.7L372.2,445.0L373.2,445.3L374.3,445.6L375.3,445.9L376.4,446.2L377.4,446.5L378.4,446.9L379.5,447.2L380.5,447.5L381.5,447.8L382.6,448.2L383.6,448.6L384.6,449.0L385.6,449.4L386.7,449.7L387.7,449.9L388.8,450.0L389.9,450.0L391.1,449.9L392.2,449.8L393.4,449.6L394.6,449.3L395.7,449.0L396.9,448.7L398.0,448.3L399.1,447.9L400.1,447.4L401.2,446.8L402.2,446.3L403.2,445.7L404.2,445.1L405.3,444.6L406.3,444.2L407.3,443.9L408.4,443.6L409.4,443.3L410.5,443.1L411.6,442.9L412.6,442.7L413.7,442.6L414.7,442.5L415.8,442.4L416.8,442.3L417.9,442.3L419.0,442.2L420.1,442.2L421.1,442.3L422.1,442.4L423.0,442.5L423.9,442.7L424.7,442.9L425.4,443.1L426.2,443.4L426.9,443.8L427.5,444.1L428.2,444.6L428.8,445.0L429.4,445.5L429.9,446.1L430.5,446.7L431.0,447.3L431.4,448.0L431.9,448.7L432.4,449.4L433.0,450.0L433.6,450.6L434.2,451.3L434.7,451.9L435.3,452.6L436.0,453.2L436.6,453.9L437.3,454.5L438.0,455.0L438.7,455.5L439.4,456.0L440.2,456.4L440.9,456.9L441.8,457.3L442.6,457.7L443.6,458.0L444.7,458.3L445.9,458.6L447.3,458.8L448.8,459.1L450.4,459.3L452.0,459.4L453.5,459.6L455.0,459.6L456.3,459.6L457.5,459.5L458.6,459.3L459.7,459.1L460.7,458.8L461.7,458.5L462.7,458.2L463.7,457.8L464.7,457.5L465.8,457.1L466.9,456.7L468.0,456.2L469.1,455.7L470.1,455.3L471.2,454.9L472.1,454.5L473.0,454.2L473.8,454.0L474.6,453.9L475.3,453.8L476.0,453.8L476.6,453.8L477.2,453.8L477.6,453.8L478.0,453.8"/><path d="M346.7,451.5L348.4,451.2L349.9,450.9L351.3,450.8L352.5,450.7L353.7,450.7L354.8,450.8L355.8,450.9L356.7,451.1L357.7,451.3L358.7,451.5L359.7,451.7L360.7,451.9L361.8,452.2L362.8,452.5L363.9,452.8L364.9,453.2L365.9,453.5L367.0,453.9L368.0,454.2L369.0,454.5L370.0,454.9L370.9,455.2L371.9,455.5L372.9,455.9L373.9,456.2L375.1,456.4L376.3,456.7L377.7,456.9L379.2,457.2L380.8,457.4L382.5,457.5L384.2,457.7L385.8,457.8L387.4,457.9L388.8,457.9L390.1,457.9L391.4,457.8L392.5,457.7L393.7,457.5L394.8,457.3L395.8,457.1L396.9,456.8L398.0,456.5L399.1,456.1L400.1,455.6L401.2,455.1L402.2,454.6L403.2,454.0L404.2,453.5L405.3,452.9L406.3,452.5L407.3,452.1L408.4,451.7L409.4,451.4L410.5,451.1L411.6,450.8L412.6,450.5L413.7,450.2L414.7,450.0L415.8,449.8L416.8,449.5L417.9,449.3L419.0,449.1L420.0,448.9L421.0,448.8L422.0,448.7L423.0,448.8L423.9,448.8L424.8,448.9L425.7,449.1L426.6,449.3L427.4,449.6L428.2,449.9L429.0,450.3L429.7,450.8L430.3,451.3L430.9,452.0L431.3,452.7L431.8,453.5L432.2,454.3L432.7,455.1L433.2,455.9L433.8,456.7L434.5,457.5L435.2,458.3L436.0,459.2L436.8,460.1L437.5,460.9L438.3,461.7L439.0,462.5L439.7,463.3L440.3,464.0L440.8,464.7L441.3,465.3L441.7,465.9L442.2,466.5L442.7,467.1L443.2,467.7L443.8,468.3L444.4,468.9L445.1,469.6L445.8,470.3L446.6,471.0L447.4,471.6L448.1,472.2L448.9,472.8L449.7,473.3L450.5,473.7L451.3,474.2L452.0,474.5L452.8,474.9L453.7,475.2L454.5,475.4L455.4,475.6L456.3,475.8L457.2,475.9L458.2,476.0L459.1,475.9L460.1,475.9L461.1,475.8L462.2,475.8L463.4,475.8L464.7,475.8L466.2,475.9L468.0,476.0L469.9,476.1L471.9,476.2L473.8,476.4L475.5,476.5L476.9,476.6L478.0,476.7"/><path d="M346.2,447.6L347.3,446.6L348.4,445.7L349.4,444.8L350.4,444.0L351.3,443.3L352.2,442.7L353.0,442.2L353.7,441.7L354.5,441.4L355.2,441.0L355.9,440.7L356.5,440.4L357.2,440.0L357.9,439.6L358.6,439.2L359.3,438.7L360.0,438.3L360.6,437.9L361.2,437.5L361.6,437.2L362.0,437.0"/><path d="M346.3,452.8L347.2,452.1L348.0,451.4L348.8,450.8L349.7,450.2L350.5,449.7L351.3,449.2L352.1,448.8L352.8,448.4L353.5,448.1L354.3,447.8L355.0,447.6L355.7,447.5L356.4,447.5L357.2,447.5L358.0,447.7L358.8,448.0L359.7,448.4L360.5,448.8L361.3,449.3L362.2,449.9L363.0,450.3L363.8,450.8L364.6,451.2L365.3,451.6L366.0,452.1L366.8,452.5L367.5,452.9L368.2,453.4L368.9,453.8L369.7,454.2L370.5,454.6L371.3,455.1L372.0,455.5L372.8,455.9L373.7,456.3L374.5,456.7L375.4,457.1L376.3,457.5L377.3,457.9L378.3,458.3L379.3,458.6L380.4,459.0L381.5,459.3L382.6,459.6L383.6,459.9L384.7,460.0L385.8,460.1L386.9,460.0L388.0,459.9L389.1,459.8L390.1,459.7L391.2,459.5L392.1,459.3L393.0,459.2L393.8,459.1L394.4,459.0L395.0,458.9L395.5,458.8L396.0,458.7L396.6,458.6L397.2,458.5L398.0,458.3L398.9,458.1L399.8,457.9L400.9,457.6L401.9,457.3L403.0,457.1L404.1,456.8L405.2,456.5L406.3,456.2L407.3,456.0L408.4,455.7L409.4,455.5L410.4,455.2L411.4,454.9L412.5,454.7L413.6,454.4L414.7,454.2L415.9,453.9L417.2,453.7L418.5,453.4L419.8,453.1L421.1,452.9L422.4,452.7L423.6,452.5L424.7,452.5L425.7,452.5L426.6,452.6L427.4,452.6L428.2,452.8L429.0,453.0L429.7,453.3L430.5,453.7L431.3,454.2L432.1,454.9L433.0,455.7L433.8,456.6L434.7,457.6L435.5,458.6L436.4,459.7L437.2,460.7L438.0,461.7L438.8,462.6L439.5,463.6L440.2,464.6L440.9,465.6L441.7,466.5L442.4,467.4L443.1,468.3L443.8,469.2L444.5,470.0L445.3,470.8L446.0,471.6L446.7,472.4L447.4,473.1L448.2,473.8L448.9,474.4L449.7,475.0L450.5,475.5L451.4,476.1L452.2,476.5L453.1,477.0L454.0,477.3L454.8,477.7L455.6,478.0L456.3,478.3L456.9,478.6L457.5,478.8L458.1,479.0L458.6,479.2L459.0,479.3L459.5,479.4L460.0,479.3L460.5,479.2L461.0,478.9L461.5,478.6L462.0,478.2L462.5,477.7L463.0,477.1L463.5,476.5L464.1,475.8L464.7,475.0L465.3,474.2L466.0,473.2L466.7,472.2L467.4,471.1L468.1,470.0L468.9,468.9L469.7,467.8L470.5,466.7L471.4,465.6L472.4,464.4L473.5,463.2L474.6,462.0L475.7,460.8L476.6,459.8L477.4,458.9L478.0,458.3"/><path d="M346.3,458.1L347.2,456.7L348.1,455.3L348.9,454.0L349.7,452.6L350.4,451.2L351.1,450.0L351.8,448.8L352.4,447.7L353.0,446.7L353.5,445.9L354.0,445.2L354.4,444.7L354.8,444.3L355.1,443.8L355.5,443.4L355.9,443.0L356.3,442.5L356.8,441.9L357.3,441.3L357.8,440.6L358.4,440.0L358.9,439.4L359.3,438.8L359.7,438.3L360.0,438.0"/><path d="M347.2,460.0L348.8,460.1L350.3,460.2L351.9,460.3L353.4,460.5L355.0,460.7L356.6,460.9L358.1,461.1L359.7,461.2L361.3,461.4L362.8,461.5L364.4,461.7L365.9,461.8L367.5,462.0L369.1,462.0L370.6,462.1L372.2,462.1L373.8,462.0L375.3,461.9L376.9,461.8L378.4,461.6L380.0,461.4L381.5,461.2L383.1,461.0L384.7,460.8L386.3,460.6L388.0,460.3L389.7,460.1L391.3,459.8L393.0,459.6L394.7,459.3L396.4,459.1L398.0,459.0L399.6,458.9L401.2,458.9L402.7,458.9L404.3,458.9L405.8,459.0L407.4,459.1L408.9,459.1L410.5,459.2L412.1,459.3L413.7,459.3L415.4,459.4L417.0,459.5L418.6,459.5L420.2,459.7L421.6,459.8L423.0,460.0L424.2,460.2L425.4,460.4L426.4,460.7L427.4,461.0L428.4,461.3L429.3,461.7L430.3,462.1L431.3,462.5L432.3,463.0L433.4,463.5L434.4,464.1L435.5,464.7L436.6,465.3L437.6,466.0L438.7,466.7L439.7,467.5L440.7,468.3L441.8,469.2L442.8,470.2L443.9,471.1L444.9,472.1L445.9,473.1L447.0,474.1L448.0,475.0L449.0,475.9L450.1,476.9L451.1,477.8L452.1,478.7L453.2,479.6L454.2,480.4L455.3,481.1L456.3,481.7L457.3,482.2L458.3,482.5L459.2,482.7L460.2,482.9L461.2,483.0L462.3,483.1L463.4,483.2L464.7,483.3L466.2,483.4L468.0,483.4L469.9,483.4L471.9,483.4L473.8,483.4L475.5,483.3L476.9,483.3L478.0,483.3"/><path d="M346.2,465.0L347.0,464.7L347.8,464.5L348.7,464.3L349.7,464.2L350.8,464.2L352.0,464.2L353.3,464.4L354.6,464.6L355.9,464.9L357.2,465.2L358.5,465.5L359.7,465.8L360.8,466.2L361.9,466.6L362.9,467.0L364.0,467.5L365.0,468.0L366.0,468.4L367.0,468.8L368.0,469.2L369.0,469.5L370.1,469.7L371.1,470.0L372.1,470.2L373.2,470.3L374.2,470.5L375.3,470.6L376.3,470.8L377.3,471.0L378.3,471.1L379.2,471.3L380.2,471.4L381.2,471.5L382.3,471.6L383.4,471.7L384.7,471.7L386.2,471.7L387.8,471.7L389.5,471.6L391.4,471.5L393.2,471.4L394.9,471.3L396.5,471.2L398.0,471.0L399.3,470.8L400.4,470.6L401.5,470.3L402.5,470.0L403.4,469.7L404.3,469.4L405.3,469.2L406.3,469.0L407.3,468.9L408.3,468.8L409.3,468.7L410.2,468.6L411.2,468.6L412.3,468.6L413.5,468.7L414.7,468.8L416.1,468.9L417.6,469.1L419.3,469.3L421.0,469.5L422.6,469.8L424.3,470.1L425.8,470.4L427.2,470.8L428.5,471.2L429.7,471.7L430.8,472.2L431.9,472.7L432.9,473.3L433.8,473.8L434.7,474.4L435.5,475.0L436.2,475.6L436.8,476.2L437.4,476.8L437.9,477.4L438.3,478.0L438.8,478.7L439.2,479.3L439.7,480.0L440.2,480.7L440.7,481.4L441.2,482.1L441.7,482.8L442.3,483.6L442.8,484.3L443.3,485.1L443.8,485.8L444.3,486.5L444.8,487.3L445.4,488.0L445.9,488.8L446.4,489.5L446.9,490.3L447.5,491.0L448.0,491.7L448.5,492.4L449.1,493.1L449.6,493.8L450.1,494.5L450.6,495.1L451.2,495.7L451.7,496.2L452.2,496.7L452.7,497.1L453.1,497.4L453.6,497.7L454.0,497.9L454.5,498.0L455.0,498.1L455.6,498.2L456.3,498.3L457.1,498.3L458.0,498.2L458.9,498.1L459.9,498.0L461.0,497.8L462.2,497.7L463.4,497.6L464.7,497.5L466.2,497.5L468.0,497.4L469.9,497.4L471.9,497.4L473.8,497.5L475.5,497.5L476.9,497.5L478.0,497.5"/><path d="M346.4,478.0L347.4,477.6L348.4,477.1L349.3,476.7L350.3,476.2L351.3,475.8L352.3,475.4L353.4,475.0L354.4,474.6L355.5,474.3L356.6,473.9L357.6,473.6L358.7,473.2L359.7,472.9L360.7,472.6L361.8,472.3L362.8,472.0L363.9,471.8L364.9,471.5L365.9,471.3L367.0,471.0L368.0,470.8L369.0,470.6L370.1,470.4L371.1,470.2L372.1,470.0L373.2,469.8L374.2,469.7L375.3,469.4L376.3,469.2L377.3,468.9L378.4,468.6L379.4,468.3L380.5,468.0L381.6,467.6L382.6,467.3L383.7,467.0L384.7,466.7L385.8,466.4L386.9,466.1L388.0,465.9L389.1,465.6L390.1,465.4L391.2,465.2L392.1,465.0L393.0,465.0L393.8,465.1L394.4,465.3L395.0,465.6L395.5,465.9L396.0,466.2L396.6,466.5L397.2,466.7L398.0,466.7L398.9,466.6L399.8,466.4L400.9,466.0L401.9,465.7L403.0,465.3L404.1,464.9L405.2,464.5L406.3,464.2L407.3,463.9L408.4,463.7L409.4,463.4L410.5,463.1L411.6,462.9L412.6,462.7L413.7,462.6L414.7,462.5L415.7,462.5L416.8,462.4L417.8,462.5L418.9,462.5L419.9,462.6L420.9,462.8L422.0,463.0L423.0,463.3L424.0,463.7L425.1,464.1L426.1,464.6L427.1,465.1L428.2,465.7L429.2,466.3L430.3,466.9L431.3,467.5L432.3,468.2L433.4,468.9L434.4,469.6L435.5,470.4L436.6,471.1L437.6,471.9L438.7,472.6L439.7,473.3L440.7,474.0L441.8,474.6L442.8,475.3L443.9,475.9L444.9,476.5L445.9,477.1L447.0,477.7L448.0,478.3L449.0,478.9L450.1,479.4L451.1,479.9L452.1,480.5L453.2,481.0L454.2,481.5L455.3,482.0L456.3,482.5L457.3,483.0L458.4,483.6L459.4,484.2L460.5,484.8L461.6,485.3L462.6,485.8L463.7,486.3L464.7,486.7L465.8,487.0L466.9,487.3L468.0,487.6L469.1,487.8L470.1,488.0L471.2,488.1L472.1,488.2L473.0,488.3L473.8,488.3L474.6,488.2L475.3,488.1L476.0,488.0L476.6,487.8L477.2,487.7L477.6,487.6L478.0,487.5"/><path d="M347.2,483.3L349.2,483.3L351.3,483.3L353.4,483.3L355.5,483.3L357.6,483.2L359.6,483.2L361.7,483.1L363.8,483.0L365.9,483.0L368.0,482.9L370.1,482.9L372.3,482.8L374.4,482.8L376.6,482.7L378.7,482.7L380.8,482.6L382.8,482.6L384.7,482.5L386.5,482.4L388.3,482.3L390.0,482.2L391.6,482.1L393.2,482.0L394.8,481.9L396.4,481.8L398.0,481.7L399.6,481.6L401.2,481.6L402.7,481.5L404.3,481.5L405.8,481.5L407.4,481.5L408.9,481.6L410.5,481.7L412.1,481.9L413.6,482.1L415.2,482.3L416.8,482.6L418.3,482.9L419.9,483.3L421.4,483.7L423.0,484.2L424.6,484.8L426.2,485.5L427.9,486.2L429.5,487.0L431.1,487.8L432.7,488.6L434.1,489.3L435.5,490.0L436.7,490.6L437.9,491.2L438.9,491.7L439.9,492.3L440.9,492.8L441.8,493.3L442.8,493.7L443.8,494.2L444.8,494.7L445.9,495.1L446.9,495.6L448.0,496.1L449.1,496.5L450.1,496.9L451.2,497.2L452.2,497.5L453.2,497.7L454.3,497.9L455.3,498.1L456.4,498.2L457.4,498.3L458.4,498.3L459.5,498.3L460.5,498.3L461.5,498.2L462.6,498.1L463.6,497.9L464.6,497.7L465.6,497.5L466.7,497.2L467.7,497.0L468.8,496.7L470.0,496.4L471.3,496.1L472.6,495.7L473.9,495.3L475.2,495.0L476.3,494.7L477.3,494.4L478.0,494.2"/><path d="M316.6,489.8L317.4,489.4L318.4,488.9L319.6,488.3L320.9,487.7L322.3,487.0L323.7,486.3L325.1,485.6L326.3,485.0L327.4,484.4"/><path d="M347.2,479.2L348.8,479.1L350.4,479.1L352.1,479.1L353.7,479.1L355.3,479.1L356.9,479.2L358.3,479.2L359.7,479.2L360.9,479.2L362.1,479.3L363.1,479.3L364.1,479.4L365.1,479.4L366.0,479.4L367.0,479.3L368.0,479.2L369.0,479.0L370.1,478.7L371.1,478.4L372.1,478.1L373.2,477.7L374.2,477.3L375.3,477.0L376.3,476.7L377.3,476.4L378.4,476.2L379.4,476.0L380.5,475.7L381.6,475.5L382.6,475.3L383.7,475.2L384.7,475.0L385.8,474.9L386.9,474.7L388.0,474.6L389.1,474.5L390.1,474.4L391.2,474.3L392.1,474.3L393.0,474.2L393.8,474.2L394.4,474.2L395.0,474.2L395.5,474.2L396.0,474.2L396.6,474.2L397.2,474.2L398.0,474.2L398.9,474.1L399.8,474.0L400.9,473.8L401.9,473.6L403.0,473.5L404.1,473.4L405.2,473.3L406.3,473.3L407.3,473.4L408.4,473.5L409.4,473.7L410.5,473.9L411.6,474.2L412.6,474.5L413.7,474.7L414.7,475.0L415.7,475.3L416.8,475.6L417.8,475.9L418.9,476.2L419.9,476.5L420.9,476.9L422.0,477.2L423.0,477.5L424.0,477.8L425.1,478.1L426.1,478.5L427.1,478.8L428.2,479.1L429.2,479.4L430.3,479.7L431.3,480.0L432.3,480.2L433.4,480.5L434.4,480.7L435.5,480.9L436.6,481.0L437.6,481.2L438.7,481.5L439.7,481.7L440.7,482.0L441.8,482.3L442.8,482.6L443.9,482.9L444.9,483.2L445.9,483.6L447.0,483.9L448.0,484.2L449.0,484.5L450.1,484.8L451.1,485.1L452.1,485.4L453.2,485.8L454.2,486.1L455.3,486.4L456.3,486.7L457.3,487.0L458.4,487.4L459.4,487.7L460.5,488.1L461.6,488.4L462.6,488.7L463.7,489.0L464.7,489.2L465.8,489.4L466.9,489.5L468.0,489.7L469.1,489.8L470.1,489.8L471.2,489.9L472.1,489.9L473.0,490.0L473.8,490.0L474.6,490.1L475.3,490.1L476.0,490.1L476.6,490.0L477.2,490.0L477.6,490.0L478.0,490.0"/><path d="M347.1,481.9L349.6,482.6L352.2,483.3L354.9,483.9L357.5,484.5L360.0,485.0L362.5,485.4L365.0,485.8L367.6,486.1L370.1,486.4L372.6,486.6L375.1,486.8L377.6,486.9L380.0,487.0L382.4,487.1L384.9,487.2L387.3,487.2L389.7,487.3L392.0,487.2L394.2,487.0L396.2,486.6L398.0,486.0L399.5,485.1L400.8,483.8L401.8,482.3L402.8,480.7L403.6,479.1L404.4,477.7L405.3,476.5L406.3,475.8L407.3,475.5L408.4,475.5L409.4,475.8L410.5,476.2L411.6,476.7L412.6,477.3L413.7,477.9L414.7,478.3L415.7,478.7L416.8,479.1L417.8,479.5L418.9,479.9L419.9,480.4L420.9,480.8L422.0,481.3L423.0,481.7L424.0,482.1L425.1,482.5L426.1,482.9L427.1,483.4L428.2,483.8L429.2,484.2L430.3,484.6L431.3,485.0L432.3,485.4L433.4,485.8L434.4,486.2L435.5,486.6L436.6,487.1L437.6,487.5L438.7,487.9L439.7,488.3L440.7,488.7L441.8,489.2L442.8,489.6L443.9,490.1L444.9,490.5L445.9,490.9L447.0,491.3L448.0,491.7L449.0,492.1L450.1,492.4L451.1,492.8L452.1,493.1L453.2,493.4L454.2,493.7L455.3,494.0L456.3,494.2L457.3,494.4L458.3,494.5L459.2,494.7L460.2,494.8L461.2,494.8L462.3,494.9L463.4,494.9L464.7,495.0L466.2,495.0L468.0,495.1L469.9,495.1L471.9,495.1L473.8,495.0L475.5,495.0L476.9,495.0L478.0,495.0"/><path d="M316.6,546.5L317.2,544.7L318.1,542.3L319.1,539.4L320.2,536.1L321.4,532.8L322.6,529.4L323.7,526.2L324.7,523.3L325.6,520.6L326.5,517.8L327.4,515.1L328.3,512.5L329.1,509.9L329.9,507.5L330.6,505.3L331.3,503.3L331.9,501.5L332.4,499.9L332.8,498.6L333.2,497.3L333.5,496.1L333.9,495.1L334.3,494.0L334.7,493.0L335.2,492.0L335.7,491.1L336.2,490.3L336.7,489.5L337.2,488.7L337.8,488.0L338.3,487.4L338.8,486.7L339.3,486.0L339.9,485.4L340.6,484.8L341.2,484.2"/><path d="M349.7,500.0L350.1,499.5L350.7,498.9L351.3,498.1L352.1,497.3L352.9,496.5L353.7,495.6L354.6,494.8L355.5,494.2L356.4,493.7L357.4,493.2L358.4,492.7L359.5,492.3L360.6,492.0L361.7,491.6L362.7,491.2L363.8,490.8L364.8,490.4L365.9,489.9L366.9,489.5L368.0,489.1L369.1,488.7L370.1,488.3L371.2,487.9L372.2,487.5L373.2,487.1L374.3,486.8L375.3,486.5L376.4,486.2L377.4,485.9L378.4,485.6L379.5,485.3L380.5,485.0L381.5,484.7L382.6,484.4L383.6,484.0L384.6,483.7L385.6,483.4L386.7,483.1L387.7,482.8L388.8,482.5L390.0,482.2L391.3,482.0L392.6,481.7L393.9,481.5L395.2,481.3L396.3,481.1L397.3,480.9L398.0,480.8"/><path d="M353.8,500.0L354.3,499.5L354.8,498.9L355.5,498.1L356.3,497.3L357.2,496.4L358.0,495.6L358.9,494.8L359.7,494.2L360.5,493.7L361.3,493.2L362.2,492.8L363.0,492.4L363.8,492.1L364.7,491.9L365.5,491.8L366.3,491.7L367.1,491.8L367.8,491.9L368.6,492.2L369.3,492.5L370.0,492.9L370.7,493.3L371.5,493.8L372.2,494.2L373.0,494.7L373.7,495.2L374.5,495.7L375.3,496.3L376.1,496.9L376.8,497.4L377.4,497.9L378.0,498.3L378.5,498.6L378.9,498.9L379.3,499.2L379.6,499.4L379.9,499.6L380.1,499.8L380.3,499.9L380.5,500.0"/><path d="M394.7,500.0L394.9,499.7L395.2,499.4L395.5,499.0L395.8,498.6L396.3,498.1L396.7,497.6L397.3,497.1L398.0,496.7L398.8,496.3L399.7,495.8L400.7,495.3L401.8,494.8L403.0,494.4L404.1,494.0L405.2,493.6L406.3,493.3L407.3,493.1L408.4,492.8L409.4,492.7L410.5,492.5L411.6,492.4L412.6,492.4L413.7,492.4L414.7,492.5L415.7,492.6L416.8,492.9L417.8,493.2L418.9,493.5L419.9,493.9L420.9,494.2L422.0,494.6L423.0,495.0L424.1,495.4L425.2,495.8L426.3,496.2L427.4,496.7L428.5,497.1L429.5,497.6L430.5,498.0L431.3,498.3L432.0,498.6L432.7,498.9L433.4,499.1L433.9,499.4L434.4,499.6L434.8,499.7L435.2,499.9L435.5,500.0"/><path d="M468.8,440.0L469.1,440.2L469.5,440.6L470.0,440.9L470.6,441.3L471.2,441.8L471.8,442.3L472.4,442.8L473.0,443.3L473.6,443.9L474.3,444.5L475.0,445.3L475.8,446.0L476.5,446.7L477.1,447.4L477.6,447.9L478.0,448.3"/><path d="M316.6,546.5L318.0,544.7L319.9,542.2L322.1,539.3L324.6,536.0L327.2,532.7L329.9,529.3L332.4,526.1L334.7,523.3L336.9,520.7L339.1,518.2L341.3,515.7L343.5,513.3L345.6,511.0L347.6,508.9L349.6,506.9L351.3,505.0L352.9,503.3L354.4,501.8L355.8,500.3L357.0,499.1L358.2,497.9L359.3,496.8L360.3,495.9L361.3,495.0L362.2,494.2L362.9,493.5L363.5,492.9L364.0,492.4L364.5,492.0L365.0,491.8L365.6,491.7L366.3,491.7L367.0,491.9L367.7,492.3L368.5,492.9L369.2,493.5L370.0,494.3L370.9,495.1L371.9,495.9L373.0,496.7L374.2,497.6L375.7,498.6L377.2,499.8L378.8,500.9L380.3,502.0L381.9,503.0L383.4,503.7L384.7,504.2L385.9,504.4L386.9,504.4L387.9,504.2L388.9,503.9L389.8,503.4L390.8,502.9L391.8,502.3L393.0,501.7L394.3,501.0L395.7,500.0L397.2,499.0L398.7,497.9L400.3,496.7L401.8,495.7L403.3,494.9L404.7,494.2L406.0,493.7L407.3,493.4L408.5,493.2L409.7,493.1L410.9,493.0L412.1,493.1L413.4,493.2L414.7,493.3L416.1,493.5L417.5,493.7L418.9,494.0L420.4,494.4L421.9,494.9L423.4,495.4L424.8,496.0L426.3,496.7L427.8,497.5L429.3,498.5L430.8,499.6L432.2,500.8L433.7,501.9L435.2,503.0L436.6,504.1L438.0,505.0L439.4,505.8L440.7,506.5L442.0,507.1L443.3,507.7L444.6,508.3L445.8,508.8L446.9,509.4L448.0,510.0L449.0,510.6L450.0,511.2L450.9,511.8L451.8,512.4L452.6,513.1L453.3,513.7L454.0,514.3L454.7,515.0L455.3,515.7L455.7,516.5L456.0,517.4L456.4,518.2L456.7,519.0L457.0,519.7L457.4,520.3L458.0,520.8L458.6,521.1L459.3,521.2L460.0,521.2L460.7,521.1L461.6,521.0L462.5,520.9L463.5,520.8L464.7,520.8L466.1,520.9L467.9,520.9L469.8,521.0L471.8,521.1L473.7,521.3L475.5,521.4L476.9,521.4L478.0,521.5"/><path d="M316.6,546.5L318.0,544.8L319.9,542.6L322.1,539.9L324.6,536.9L327.2,533.8L329.9,530.7L332.4,527.7L334.7,525.0L336.9,522.5L339.1,520.0L341.4,517.5L343.6,515.1L345.7,512.8L347.8,510.6L349.6,508.6L351.3,506.7L352.8,505.0L354.1,503.5L355.2,502.1L356.2,500.9L357.2,499.7L358.0,498.7L358.9,497.7L359.7,496.7L360.5,495.8L361.2,495.0L361.8,494.4L362.3,493.7L362.9,493.2L363.4,492.7L364.0,492.2L364.7,491.7L365.5,491.2L366.4,490.8L367.3,490.4L368.3,490.0L369.2,489.7L370.1,489.4L370.8,489.2L371.3,489.0"/><path d="M318.0,498.3L318.8,497.9L319.9,497.4L321.2,496.8L322.6,496.1L324.1,495.3L325.5,494.6L326.8,493.9L328.0,493.3L329.0,492.7L330.1,492.1L331.0,491.4L332.0,490.8L332.8,490.3L333.6,489.8L334.2,489.3L334.7,489.0"/><path d="M440.0,497.0L441.0,497.6L442.2,498.4L443.8,499.4L445.5,500.5L447.3,501.7L449.0,502.8L450.6,504.0L452.0,505.0L453.2,506.0L454.3,507.0L455.3,508.0L456.2,509.0L457.2,510.0L458.1,510.9L459.0,511.7L460.0,512.5L461.0,513.2L462.0,513.7L462.9,514.2L463.9,514.6L464.9,515.0L465.9,515.5L466.9,516.0L468.0,516.7L469.2,517.5L470.6,518.5L472.0,519.5L473.5,520.6L474.9,521.7L476.2,522.6L477.2,523.4L478.0,524.0"/><path d="M445.0,490.0L446.0,490.4L447.4,490.9L449.1,491.6L450.9,492.3L452.8,493.1L454.7,493.8L456.4,494.4L458.0,495.0L459.4,495.5L460.7,495.9L462.0,496.3L463.2,496.7L464.4,497.0L465.6,497.4L466.8,497.7L468.0,498.0L469.3,498.3L470.7,498.6L472.2,498.9L473.6,499.2L475.0,499.4L476.2,499.7L477.2,499.9L478.0,500.0"/><path d="M430.0,490.0L431.2,490.4L432.7,490.9L434.6,491.5L436.7,492.1L438.9,492.8L441.0,493.6L443.1,494.3L445.0,495.0L446.7,495.7L448.4,496.5L450.1,497.3L451.7,498.1L453.3,498.8L454.9,499.6L456.4,500.2L458.0,500.8L459.6,501.3L461.2,501.7L462.7,502.0L464.3,502.3L465.8,502.6L467.3,502.8L468.7,503.0L470.0,503.3L471.2,503.6L472.5,503.8L473.6,504.1L474.8,504.3L475.8,504.5L476.7,504.7L477.4,504.9L478.0,505.0"/><path d="M280.0,438.5L280.2,438.5L280.4,438.5L280.6,438.4L280.9,438.4L281.2,438.4L281.6,438.4L282.0,438.5L282.5,438.8L283.1,439.1L283.8,439.4L284.6,439.9L285.4,440.4L286.2,440.9L287.1,441.5L287.9,442.0L288.8,442.5L289.5,443.0L290.3,443.5L291.1,444.0L291.9,444.5L292.7,445.0L293.4,445.5L294.2,445.9L295.0,446.2L295.8,446.5L296.5,446.8L297.3,447.0L298.0,447.1L298.8,447.3L299.6,447.4L300.4,447.4L301.2,447.5L302.2,447.5L303.2,447.5L304.2,447.4L305.3,447.3L306.3,447.2L307.4,447.1L308.4,447.0L309.4,446.9L310.3,446.8L311.2,446.8L312.0,446.7L312.8,446.7L313.7,446.7L314.6,446.6L315.5,446.6L316.6,446.6L317.8,446.6L319.1,446.7L320.5,446.7L321.9,446.8L323.4,446.9L324.8,446.9L326.2,446.9L327.5,446.9L328.8,446.9L330.0,446.8L331.3,446.7L332.5,446.6L333.7,446.5L334.8,446.3L335.9,446.1L336.9,445.9L337.8,445.6L338.7,445.2L339.5,444.8L340.2,444.4L340.9,443.9L341.6,443.4L342.3,443.0L343.1,442.5L343.9,442.0L344.8,441.5L345.6,441.0L346.5,440.5L347.3,440.0L348.1,439.5L348.8,439.1L349.4,438.8L349.9,438.5L350.4,438.2L350.8,438.0L351.1,437.9L351.4,437.8L351.6,437.7L351.8,437.6L352.0,437.5"/><path d="M284.0,446.4L284.1,446.4L284.3,446.4L284.5,446.4L284.7,446.4L284.9,446.4L285.2,446.4L285.6,446.4L286.0,446.5L286.5,446.6L287.0,446.8L287.7,447.0L288.3,447.2L289.0,447.4L289.7,447.6L290.4,447.8L291.0,448.0L291.6,448.2L292.2,448.3L292.9,448.4L293.5,448.6L294.1,448.7L294.7,448.8L295.4,448.9L296.0,449.0L296.6,449.1L297.2,449.1L297.8,449.2L298.4,449.2L299.1,449.3L299.7,449.3L300.5,449.4L301.2,449.5L302.1,449.6L303.1,449.8L304.1,449.9L305.2,450.1L306.3,450.2L307.4,450.4L308.4,450.5L309.4,450.6L310.3,450.7L311.2,450.7L312.1,450.8L313.0,450.8L313.9,450.9L314.7,450.9L315.6,450.9L316.6,450.9L317.6,450.9L318.6,450.9L319.6,450.9L320.7,450.8L321.8,450.8L322.8,450.7L323.9,450.7L325.0,450.6L326.1,450.5L327.1,450.4L328.2,450.4L329.3,450.3L330.4,450.2L331.5,450.0L332.6,449.9L333.8,449.7L334.9,449.5L336.1,449.2L337.3,448.9L338.6,448.6L339.8,448.3L341.0,448.0L342.1,447.7L343.1,447.5L344.0,447.3L344.9,447.2L345.8,447.1L346.6,447.0L347.3,446.9L348.0,446.8L348.7,446.7L349.4,446.6L350.0,446.5L350.6,446.4L351.1,446.2L351.7,446.1L352.2,446.0L352.7,445.9L353.2,445.9L353.8,445.9L354.4,446.0L355.1,446.2L355.8,446.4L356.5,446.7L357.2,446.9L357.8,447.2L358.4,447.4L358.8,447.5"/><path d="M284.0,452.0L284.5,451.9L285.2,451.9L286.1,451.8L287.0,451.7L288.0,451.6L289.0,451.5L289.8,451.5L290.6,451.5L291.3,451.6L291.9,451.7L292.4,451.9L293.0,452.1L293.5,452.3L294.0,452.5L294.5,452.8L295.0,453.1L295.5,453.4L296.0,453.8L296.4,454.3L296.9,454.7L297.3,455.2L297.8,455.6L298.3,456.0L298.8,456.2L299.2,456.5L299.6,456.6L299.9,456.7L300.3,456.8L300.8,456.8L301.4,456.9L302.1,456.9L303.1,456.9L304.3,456.9L305.8,456.9L307.5,456.8L309.2,456.8L311.1,456.7L313.0,456.7L314.8,456.6L316.6,456.6L318.4,456.6L320.2,456.6L322.2,456.6L324.1,456.7L325.9,456.7L327.6,456.7L329.2,456.7L330.6,456.6L331.8,456.5L332.7,456.3L333.5,456.2L334.2,456.0L334.9,455.7L335.5,455.5L336.2,455.3L336.9,455.0L337.7,454.7L338.5,454.4L339.2,454.1L340.0,453.7L340.8,453.4L341.5,453.1L342.3,452.8L343.1,452.5L343.9,452.3L344.8,452.1L345.6,451.9L346.5,451.7L347.3,451.6L348.1,451.4L348.8,451.3L349.4,451.2L349.9,451.2L350.4,451.2L350.8,451.2L351.1,451.2L351.4,451.2L351.6,451.3L351.8,451.3L352.0,451.3"/><path d="M284.0,461.5L284.3,461.5L284.6,461.5L284.9,461.4L285.4,461.4L285.8,461.4L286.3,461.3L286.9,461.3L287.5,461.2L288.2,461.2L288.9,461.1L289.8,461.0L290.6,460.9L291.5,460.8L292.3,460.7L293.1,460.6L293.8,460.6L294.3,460.6L294.8,460.6L295.2,460.7L295.5,460.8L295.9,460.9L296.2,461.0L296.5,461.1L296.9,461.2L297.3,461.4L297.7,461.6L298.1,461.8L298.5,462.0L298.8,462.2L299.2,462.5L299.6,462.8L300.0,463.1L300.4,463.5L300.7,463.9L301.1,464.4L301.5,464.8L301.8,465.3L302.2,465.9L302.7,466.4L303.1,466.9L303.6,467.4L304.1,468.0L304.6,468.6L305.2,469.1L305.7,469.7L306.3,470.3L306.9,470.8L307.5,471.2L308.1,471.7L308.7,472.1L309.4,472.5L310.0,472.9L310.7,473.3L311.3,473.6L311.9,473.9L312.5,474.1L313.1,474.3L313.6,474.4L314.1,474.5L314.6,474.6L315.1,474.6L315.6,474.6L316.1,474.6L316.6,474.6L317.1,474.6L317.7,474.6L318.2,474.5L318.8,474.4L319.4,474.3L320.0,474.2L320.6,474.0L321.2,473.8L322.0,473.4L322.7,473.1L323.5,472.7L324.3,472.3L325.1,471.8L325.9,471.2L326.7,470.6L327.5,470.0L328.3,469.3L329.1,468.6L329.8,467.8L330.6,466.9L331.4,466.0L332.2,465.1L333.0,464.1L333.8,463.1L334.5,462.0L335.3,460.9L336.1,459.6L337.0,458.4L337.7,457.1L338.5,455.9L339.3,454.8L340.0,453.8L340.7,452.8L341.4,451.9L342.0,451.1L342.6,450.3L343.2,449.6L343.8,448.9L344.4,448.2L345.0,447.5L345.6,446.9L346.2,446.2L346.8,445.7L347.4,445.1L347.9,444.6L348.4,444.1L348.9,443.6L349.4,443.1L349.8,442.6L350.2,442.2L350.6,441.7L351.0,441.3L351.3,440.9L351.6,440.5L351.8,440.2L352.0,440.0"/><path d="M284.0,465.5L284.3,465.6L284.6,465.7L285.1,465.8L285.6,465.9L286.1,466.1L286.7,466.2L287.3,466.4L288.0,466.5L288.7,466.6L289.6,466.7L290.5,466.9L291.4,467.0L292.4,467.1L293.3,467.2L294.2,467.4L295.0,467.5L295.7,467.6L296.4,467.8L297.0,467.9L297.6,468.1L298.2,468.3L298.8,468.5L299.4,468.7L300.0,469.0L300.6,469.3L301.2,469.7L301.9,470.2L302.5,470.7L303.1,471.1L303.8,471.6L304.4,472.1L305.0,472.5L305.6,472.9L306.2,473.3L306.8,473.8L307.4,474.2L308.0,474.6L308.6,474.9L309.3,475.2L310.0,475.5L310.8,475.7L311.6,475.9L312.4,476.0L313.3,476.1L314.2,476.2L315.0,476.3L315.9,476.3L316.6,476.3L317.2,476.3L317.8,476.3L318.3,476.4L318.8,476.4L319.2,476.3L319.8,476.2L320.5,475.9L321.2,475.6L322.2,475.2L323.3,474.6L324.5,474.0L325.8,473.3L327.1,472.5L328.4,471.7L329.5,470.9L330.6,470.0L331.5,469.0L332.4,468.0L333.2,466.9L333.9,465.7L334.7,464.6L335.4,463.4L336.1,462.3L336.9,461.2L337.7,460.3L338.5,459.3L339.2,458.3L340.0,457.4L340.8,456.5L341.5,455.6L342.3,454.7L343.1,453.8L343.9,452.8L344.8,451.8L345.6,450.8L346.5,449.7L347.3,448.8L348.1,447.8L348.8,447.0L349.4,446.2L349.9,445.6L350.4,445.1L350.8,444.6L351.1,444.2L351.4,443.8L351.6,443.5L351.8,443.2L352.0,443.0"/><path d="M284.0,461.8L284.4,461.8L284.9,461.8L285.4,461.7L286.1,461.7L286.9,461.6L287.9,461.6L289.2,461.6L290.8,461.5L292.7,461.4L295.0,461.4L297.6,461.3L300.4,461.2L303.3,461.1L306.2,461.0L309.0,460.9L311.7,460.9L314.4,460.9L317.1,460.9L319.8,460.9L322.5,461.0L325.2,461.0L327.8,461.0L330.2,461.1L332.5,461.1L334.6,461.1L336.6,461.1L338.5,461.2L340.3,461.2L342.0,461.2L343.5,461.2L345.0,461.2L346.2,461.2L347.4,461.3L348.4,461.3L349.2,461.4L350.0,461.4L350.6,461.5L351.2,461.5L351.6,461.6L352.0,461.6"/><path d="M327.5,486.0L328.0,484.9L328.6,483.4L329.4,481.6L330.2,479.6L331.1,477.6L332.0,475.7L332.9,473.9L333.8,472.5L334.5,471.3L335.3,470.3L336.1,469.5L336.9,468.7L337.7,468.0L338.4,467.4L339.2,466.8L340.0,466.2L340.8,465.7L341.6,465.3L342.3,464.9L343.1,464.6L343.9,464.3L344.7,464.1L345.5,463.9L346.2,463.8L347.1,463.7L348.0,463.7L348.9,463.8L349.8,463.9L350.6,464.1L351.4,464.2L352.0,464.3L352.5,464.4"/><path d="M335.0,484.0L335.4,483.6L335.9,483.0L336.5,482.3L337.1,481.6L337.8,480.8L338.5,480.0L339.3,479.3L340.0,478.8L340.7,478.2L341.5,477.8L342.3,477.4L343.0,477.0L343.9,476.6L344.7,476.2L345.5,475.9L346.2,475.6L347.1,475.3L348.0,475.0L348.9,474.7L349.8,474.5L350.6,474.3L351.4,474.1L352.0,473.9L352.5,473.8"/><path d="M284.0,475.5L284.5,475.5L285.0,475.5L285.7,475.5L286.4,475.5L287.3,475.5L288.3,475.5L289.5,475.6L290.8,475.8L292.4,476.1L294.2,476.4L296.3,476.8L298.4,477.3L300.6,477.8L302.8,478.2L304.7,478.6L306.5,479.0L308.0,479.3L309.4,479.7L310.7,480.0L311.9,480.3L313.0,480.5L314.2,480.7L315.3,480.9L316.6,481.0L317.9,481.0L319.1,481.0L320.4,480.9L321.6,480.8L322.9,480.6L324.3,480.4L325.7,480.2L327.3,480.0L329.1,479.8L331.0,479.5L333.1,479.3L335.2,479.0L337.3,478.7L339.3,478.4L341.2,478.2L342.9,477.9L344.4,477.6L345.8,477.4L347.2,477.1L348.4,476.8L349.5,476.6L350.5,476.3L351.3,476.1L352.0,476.0"/><path d="M284.0,482.1L284.5,482.1L285.0,482.1L285.7,482.1L286.4,482.0L287.3,482.0L288.3,482.0L289.5,482.1L290.8,482.1L292.4,482.2L294.2,482.3L296.3,482.4L298.4,482.5L300.6,482.7L302.8,482.8L304.7,483.0L306.5,483.1L308.0,483.3L309.4,483.4L310.7,483.6L311.9,483.8L313.0,484.0L314.2,484.1L315.3,484.2L316.6,484.2L317.9,484.1L319.1,483.9L320.4,483.6L321.6,483.2L322.9,482.9L324.3,482.6L325.7,482.3L327.3,482.1L329.1,482.0L331.0,482.0L333.1,482.0L335.2,482.0L337.3,482.0L339.3,482.1L341.2,482.1L342.9,482.1L344.4,482.1L345.8,482.1L347.2,482.1L348.4,482.1L349.5,482.0L350.5,482.0L351.3,482.0L352.0,482.0"/><path d="M296.0,482.1L296.8,482.3L297.9,482.6L299.2,483.0L300.6,483.4L302.1,483.8L303.7,484.3L305.1,484.7L306.5,485.2L307.8,485.7L309.0,486.4L310.3,487.1L311.5,487.8L312.8,488.4L314.0,488.9L315.3,489.3L316.6,489.4L317.9,489.3L319.2,488.9L320.6,488.3L321.9,487.7L323.3,487.0L324.6,486.3L326.0,485.7L327.3,485.2L328.7,484.8L330.2,484.5L331.7,484.2L333.2,483.9L334.6,483.6L335.8,483.4L336.9,483.2L337.7,483.1"/><path d="M294.0,486.2L294.5,486.7L295.2,487.4L296.0,488.2L297.0,489.1L298.0,490.0L299.0,490.9L300.1,491.7L301.2,492.5L302.4,493.2L303.8,494.0L305.2,494.7L306.6,495.4L308.0,496.1L309.4,496.7L310.6,497.2L311.7,497.7L312.6,498.1L313.3,498.5L313.8,498.7L314.3,499.0L314.8,499.2L315.3,499.3L315.9,499.3L316.6,499.3L317.4,499.2L318.2,499.0L319.1,498.8L320.1,498.5L321.0,498.1L322.0,497.7L323.1,497.2L324.2,496.7L325.4,496.1L326.7,495.3L328.0,494.5L329.4,493.6L330.7,492.7L332.1,491.8L333.4,491.1L334.6,490.4L335.7,489.8L336.8,489.4L337.8,488.9L338.8,488.5L339.7,488.2L340.7,487.9L341.8,487.6L342.9,487.3L344.2,487.1L345.6,486.9L347.1,486.7L348.6,486.6L350.1,486.5L351.4,486.4L352.5,486.3L353.3,486.2"/><path d="M276.2,440.0L276.5,440.4L276.9,440.9L277.4,441.6L277.8,442.3L278.4,443.1L278.9,443.9L279.5,444.7L280.0,445.6L280.5,446.5L281.1,447.5L281.7,448.6L282.2,449.7L282.8,450.8L283.4,451.8L283.9,452.8L284.4,453.8L284.8,454.6L285.3,455.4L285.6,456.1L286.0,456.9L286.3,457.5L286.7,458.2L287.1,458.8L287.5,459.4L287.9,459.9L288.4,460.4L288.8,460.8L289.3,461.2L289.8,461.7L290.3,462.1L290.7,462.6L291.2,463.1L291.8,463.7L292.3,464.4L292.8,465.1L293.4,465.8L293.9,466.6L294.5,467.3L295.0,468.1L295.6,468.8L296.2,469.4L296.7,470.0L297.3,470.7L297.9,471.3L298.4,471.9L299.0,472.5L299.5,473.1L300.0,473.8L300.5,474.4L300.9,475.0L301.3,475.7L301.7,476.4L302.1,477.0L302.5,477.6L302.8,478.2L303.1,478.8L303.4,479.3L303.6,479.8L303.9,480.2L304.1,480.7L304.3,481.1L304.4,481.5L304.6,481.8L304.7,482.0"/><path d="M286.2,463.8L286.5,464.1L286.8,464.5L287.2,465.1L287.6,465.6L288.1,466.3L288.5,466.9L289.0,467.5L289.4,468.1L289.8,468.7L290.2,469.2L290.6,469.8L291.0,470.3L291.4,470.9L291.8,471.4L292.1,472.0L292.5,472.5L292.8,473.0L293.2,473.5L293.5,474.0L293.8,474.4L294.1,474.9L294.4,475.3L294.7,475.8L295.0,476.2L295.3,476.7L295.5,477.2L295.8,477.6L296.0,478.1L296.3,478.6L296.5,479.0L296.7,479.5L296.9,480.0L297.1,480.5L297.3,481.1L297.4,481.7L297.6,482.2L297.7,482.8L297.8,483.3L297.9,483.7L298.0,484.0"/><path d="M495.1,188.0L495.7,187.8L496.5,187.4L497.4,187.1L498.5,186.6L499.6,186.2L500.8,185.8L502.1,185.3L503.3,185.0L504.6,184.7L505.9,184.3L507.4,184.0L508.8,183.7L510.3,183.4L511.9,183.2L513.4,183.1L515.0,183.0L516.6,183.0L518.2,183.1L519.8,183.3L521.5,183.5L523.2,183.8L524.9,184.0L526.6,184.3L528.3,184.5L530.2,184.7L532.2,185.0L534.3,185.2L536.4,185.5L538.4,185.7L540.2,186.0L541.7,186.2L542.8,186.3"/><path d="M495.1,191.0L495.7,190.7L496.5,190.2L497.4,189.7L498.5,189.2L499.6,188.6L500.8,188.0L502.1,187.5L503.3,187.0L504.6,186.6L505.9,186.2L507.4,185.8L508.8,185.4L510.3,185.1L511.9,184.8L513.4,184.6L515.0,184.5L516.6,184.5L518.2,184.6L519.8,184.8L521.5,185.0L523.2,185.2L524.9,185.5L526.6,185.8L528.3,186.0L530.2,186.2L532.2,186.5L534.3,186.7L536.4,187.0L538.4,187.2L540.2,187.5L541.7,187.7L542.8,187.8"/><path d="M495.1,194.0L495.7,193.6L496.5,193.0L497.4,192.4L498.5,191.7L499.6,190.9L500.8,190.2L502.1,189.5L503.3,189.0L504.6,188.5L505.9,188.1L507.4,187.7L508.8,187.4L510.3,187.1L511.9,186.8L513.4,186.6L515.0,186.5L516.6,186.5L518.2,186.5L519.8,186.6L521.5,186.7L523.2,186.9L524.9,187.1L526.6,187.3L528.3,187.5L530.2,187.7L532.2,187.9L534.3,188.2L536.4,188.4L538.4,188.7L540.2,188.9L541.7,189.1L542.8,189.2"/><path d="M495.1,214.8L496.0,215.1L497.2,215.4L498.7,215.8L500.3,216.3L502.0,216.8L503.7,217.3L505.3,217.8L506.7,218.3L507.9,218.8L509.1,219.5L510.2,220.2L511.3,220.9L512.4,221.5L513.5,222.0L514.6,222.4L515.8,222.5L517.0,222.4L518.3,222.1L519.5,221.6L520.8,221.0L522.2,220.3L523.6,219.6L525.1,218.9L526.7,218.3L528.6,217.7L530.7,216.9L533.1,216.2L535.4,215.4L537.7,214.6L539.8,214.0L541.5,213.4L542.8,213.0"/><path d="M495.1,230.2L496.0,229.9L497.2,229.6L498.7,229.1L500.3,228.7L502.0,228.2L503.7,227.6L505.3,227.2L506.7,226.7L507.9,226.2L509.1,225.7L510.2,225.1L511.3,224.6L512.4,224.1L513.5,223.7L514.6,223.4L515.8,223.3L517.0,223.4L518.3,223.7L519.5,224.1L520.8,224.6L522.2,225.2L523.6,225.7L525.1,226.3L526.7,226.7L528.6,227.1L530.7,227.5L533.1,227.8L535.4,228.2L537.7,228.6L539.8,228.9L541.5,229.1L542.8,229.3"/><path d="M495.1,232.3L496.0,232.6L497.2,233.1L498.7,233.6L500.3,234.2L502.0,234.9L503.7,235.5L505.3,236.1L506.7,236.7L507.9,237.3L509.0,237.8L510.0,238.4L511.0,239.0L512.0,239.6L513.1,240.1L514.4,240.5L515.8,240.8L517.5,241.0L519.4,241.1L521.5,241.1L523.6,241.1L525.8,241.0L527.9,240.9L529.9,240.8L531.7,240.8L533.4,240.8L535.1,240.8L536.7,240.8L538.2,240.8L539.7,240.8L540.9,240.8L542.0,240.8L542.8,240.8"/><path d="M495.1,244.2L497.0,244.2L499.6,244.2L502.7,244.2L506.1,244.2L509.7,244.2L513.3,244.2L516.8,244.2L520.0,244.2L523.1,244.2L526.4,244.2L529.7,244.2L533.0,244.2L536.0,244.2L538.8,244.2L541.1,244.2L542.8,244.2"/><path d="M495.1,245.9L497.0,245.9L499.6,245.9L502.7,245.9L506.1,245.9L509.7,245.9L513.3,245.9L516.8,245.9L520.0,245.9L523.1,245.9L526.4,245.9L529.7,245.9L533.0,245.8L536.0,245.8L538.8,245.8L541.1,245.8L542.8,245.8"/><path d="M495.1,268.8L495.7,268.4L496.5,267.9L497.4,267.2L498.5,266.5L499.6,265.8L500.8,264.9L502.1,264.1L503.3,263.3L504.6,262.4L505.9,261.3L507.4,260.2L508.8,259.1L510.3,258.0L511.9,257.1L513.4,256.3L515.0,255.8L516.6,255.6L518.2,255.6L519.8,255.8L521.5,256.1L523.2,256.5L524.9,256.9L526.6,257.2L528.3,257.5L530.2,257.7L532.2,258.0L534.3,258.2L536.4,258.5L538.4,258.8L540.2,259.0L541.7,259.2L542.8,259.3"/><path d="M495.1,274.9L496.0,275.0L497.2,275.1L498.7,275.3L500.3,275.5L502.0,275.7L503.7,276.0L505.3,276.3L506.7,276.7L507.9,277.2L509.1,277.9L510.1,278.6L511.2,279.4L512.2,280.1L513.3,280.8L514.5,281.3L515.8,281.7L517.2,281.9L518.6,281.9L520.2,281.8L521.7,281.6L523.3,281.4L525.0,281.2L526.6,280.9L528.3,280.8L530.1,280.7L532.1,280.6L534.2,280.5L536.3,280.3L538.3,280.2L540.1,280.1L541.7,280.1L542.8,280.0"/><path d="M511.7,280.0L512.0,280.2L512.2,280.5L512.6,280.8L513.0,281.2L513.5,281.6L514.1,282.0L514.9,282.3L515.8,282.5L516.9,282.7L518.3,282.8L519.8,282.9L521.4,282.9L523.1,283.0L524.8,283.0L526.6,283.0L528.3,283.0L530.1,283.0L532.1,282.9L534.2,282.9L536.3,282.8L538.3,282.7L540.1,282.6L541.7,282.5L542.8,282.5"/><path d="M495.1,312.5L495.6,311.8L496.3,310.9L497.1,309.8L498.0,308.5L498.9,307.2L499.9,305.9L500.8,304.6L501.7,303.3L502.5,302.1L503.3,300.8L504.1,299.5L504.9,298.2L505.8,296.9L506.6,295.7L507.4,294.5L508.3,293.3L509.2,292.2L510.0,291.0L510.8,289.9L511.7,288.8L512.6,287.8L513.6,286.9L514.6,286.1L515.8,285.5L517.1,285.1L518.5,284.9L520.0,284.8L521.6,284.9L523.2,285.0L524.9,285.1L526.6,285.2L528.3,285.2L530.1,285.2L532.1,285.1L534.2,285.1L536.3,285.1L538.3,285.1L540.1,285.0L541.7,285.0L542.8,285.0"/><path d="M495.1,320.8L496.0,320.9L497.2,320.9L498.7,321.0L500.3,321.1L502.0,321.3L503.7,321.4L505.3,321.5L506.7,321.7L507.9,321.9L509.1,322.1L510.1,322.4L511.2,322.7L512.2,322.9L513.3,323.1L514.5,323.3L515.8,323.3L517.2,323.2L518.6,323.0L520.2,322.8L521.7,322.5L523.3,322.2L525.0,321.9L526.6,321.6L528.3,321.3L530.1,321.1L532.1,320.8L534.2,320.6L536.3,320.3L538.3,320.1L540.1,319.9L541.7,319.7L542.8,319.6"/><path d="M495.1,325.0L496.0,325.0L497.2,325.0L498.7,324.9L500.3,324.9L502.0,324.9L503.7,324.8L505.3,324.8L506.7,324.7L507.9,324.6L509.1,324.4L510.1,324.2L511.2,324.0L512.2,323.8L513.3,323.7L514.5,323.7L515.8,323.7L517.2,323.9L518.6,324.1L520.2,324.4L521.7,324.8L523.3,325.2L525.0,325.6L526.6,326.0L528.3,326.3L530.1,326.6L532.1,327.0L534.2,327.4L536.3,327.7L538.3,328.1L540.1,328.4L541.7,328.6L542.8,328.8"/><path d="M495.1,326.5L495.6,326.9L496.3,327.4L497.1,328.0L498.0,328.7L498.9,329.4L499.9,330.2L500.8,330.9L501.7,331.7L502.5,332.5L503.3,333.3L504.1,334.2L504.9,335.1L505.8,335.9L506.6,336.8L507.4,337.6L508.3,338.3L509.2,339.0L510.0,339.6L510.8,340.2L511.7,340.8L512.6,341.3L513.6,341.8L514.6,342.2L515.8,342.5L517.1,342.7L518.5,342.8L520.0,342.8L521.6,342.8L523.2,342.8L524.9,342.7L526.6,342.6L528.3,342.5L530.1,342.4L532.1,342.3L534.2,342.2L536.3,342.1L538.3,341.9L540.1,341.8L541.7,341.7L542.8,341.6"/><path d="M495.1,341.6L496.0,341.8L497.2,342.1L498.7,342.4L500.3,342.7L502.0,343.1L503.7,343.4L505.3,343.8L506.7,344.2L507.9,344.6L509.1,345.1L510.1,345.6L511.2,346.1L512.2,346.5L513.3,346.9L514.5,347.3L515.8,347.5L517.2,347.6L518.6,347.6L520.2,347.5L521.7,347.4L523.3,347.2L525.0,347.1L526.6,346.9L528.3,346.7L530.1,346.5L532.1,346.3L534.2,346.1L536.3,345.8L538.3,345.6L540.1,345.3L541.7,345.1L542.8,345.0"/><path d="M495.1,348.2L496.0,348.4L497.2,348.7L498.7,349.0L500.3,349.4L502.0,349.8L503.7,350.2L505.3,350.5L506.7,350.8L507.9,351.0L509.1,351.2L510.1,351.4L511.2,351.6L512.2,351.7L513.3,351.8L514.5,351.9L515.8,352.0L517.2,352.0L518.6,352.0L520.2,352.0L521.7,352.0L523.3,351.9L525.0,351.8L526.6,351.8L528.3,351.7L530.1,351.7L532.1,351.6L534.2,351.5L536.3,351.5L538.3,351.4L540.1,351.4L541.7,351.3L542.8,351.3"/><path d="M495.1,360.8L496.7,360.8L498.7,360.7L501.1,360.6L503.8,360.6L506.7,360.5L509.7,360.4L512.8,360.4L515.8,360.3L519.1,360.3L522.7,360.2L526.7,360.2L530.6,360.1L534.4,360.1L537.8,360.0L540.7,360.0L542.8,360.0"/><path d="M495.1,367.2L495.7,366.8L496.5,366.2L497.4,365.5L498.4,364.7L499.5,363.9L500.8,363.1L502.0,362.4L503.3,361.7L504.7,361.1L506.1,360.5L507.7,359.8L509.3,359.3L510.9,358.7L512.6,358.2L514.2,357.8L515.8,357.5L517.3,357.3L518.9,357.2L520.4,357.2L521.9,357.2L523.5,357.3L525.0,357.4L526.6,357.4L528.3,357.5L530.1,357.5L532.1,357.6L534.2,357.7L536.3,357.8L538.3,357.8L540.1,357.9L541.7,358.0L542.8,358.0"/><path d="M495.1,370.9L496.0,370.8L497.2,370.7L498.7,370.6L500.3,370.5L502.0,370.4L503.7,370.3L505.3,370.1L506.7,370.0L507.9,369.8L509.1,369.6L510.1,369.4L511.2,369.2L512.2,369.0L513.3,368.8L514.5,368.7L515.8,368.7L517.2,368.8L518.6,369.0L520.2,369.3L521.7,369.6L523.3,369.9L525.0,370.2L526.6,370.3L528.3,370.3L530.1,370.1L532.1,369.8L534.2,369.4L536.3,368.9L538.3,368.4L540.1,367.9L541.7,367.6L542.8,367.3"/><path d="M495.1,383.6L496.0,383.2L497.2,382.7L498.7,382.1L500.3,381.5L502.0,380.8L503.7,380.2L505.3,379.6L506.7,379.2L507.9,378.9L509.1,378.7L510.2,378.6L511.3,378.5L512.4,378.4L513.5,378.4L514.6,378.3L515.8,378.3L517.1,378.2L518.5,378.1L519.9,378.0L521.3,378.0L522.7,378.0L524.1,378.0L525.4,378.1L526.7,378.3L527.9,378.6L529.0,379.1L530.0,379.6L531.0,380.2L532.0,380.8L533.0,381.4L534.0,382.0L535.0,382.5L536.1,383.0L537.2,383.6L538.3,384.1L539.4,384.7L540.5,385.2L541.4,385.6L542.2,386.0L542.8,386.3"/><path d="M495.1,390.0L496.7,390.0L498.7,390.0L501.1,390.0L503.8,390.0L506.7,390.0L509.7,390.0L512.8,390.0L515.8,390.0L519.1,390.0L522.7,390.1L526.7,390.1L530.6,390.1L534.4,390.2L537.8,390.2L540.7,390.3L542.8,390.3"/><path d="M495.1,406.8L496.0,406.7L497.2,406.5L498.7,406.2L500.3,406.0L502.0,405.7L503.7,405.5L505.3,405.2L506.7,405.0L507.9,404.8L509.1,404.6L510.1,404.3L511.2,404.1L512.2,404.0L513.3,403.8L514.5,403.7L515.8,403.7L517.2,403.8L518.6,404.1L520.2,404.4L521.7,404.8L523.3,405.1L525.0,405.4L526.6,405.4L528.3,405.3L530.1,404.9L532.1,404.2L534.2,403.4L536.3,402.5L538.3,401.6L540.1,400.7L541.7,400.0L542.8,399.5"/><path d="M495.1,407.5L496.7,407.5L498.7,407.6L501.1,407.7L503.8,407.8L506.7,407.9L509.7,408.0L512.8,408.0L515.8,408.0L519.1,407.9L522.7,407.8L526.7,407.7L530.6,407.5L534.4,407.4L537.8,407.2L540.7,407.1L542.8,407.0"/><path d="M495.1,415.0L496.0,415.0L497.2,415.0L498.7,415.0L500.3,415.0L502.0,415.0L503.7,415.1L505.3,415.2L506.7,415.3L507.9,415.5L509.1,415.9L510.1,416.3L511.2,416.7L512.2,417.1L513.3,417.4L514.5,417.5L515.8,417.5L517.2,417.2L518.6,416.7L520.2,416.0L521.7,415.2L523.3,414.5L525.0,413.8L526.6,413.4L528.3,413.3L530.1,413.5L532.1,414.1L534.2,414.8L536.3,415.7L538.3,416.6L540.1,417.4L541.7,418.1L542.8,418.6"/><path d="M495.1,425.8L496.8,425.7L499.0,425.4L501.7,425.2L504.7,424.9L507.7,424.6L510.7,424.4L513.5,424.3L515.8,424.2L517.7,424.3L519.5,424.5L521.0,424.8L522.4,425.2L523.8,425.5L525.2,425.8L526.7,425.9L528.3,425.8L530.1,425.5L532.1,425.0L534.2,424.4L536.3,423.7L538.3,422.9L540.1,422.3L541.7,421.7L542.8,421.3"/><path d="M495.1,427.5L496.8,427.3L499.0,427.1L501.7,426.8L504.7,426.5L507.7,426.3L510.7,426.0L513.5,425.9L515.8,425.8L517.7,425.9L519.5,426.0L521.0,426.2L522.4,426.5L523.8,426.8L525.2,427.1L526.7,427.3L528.3,427.5L530.1,427.6L532.1,427.8L534.2,427.9L536.3,428.0L538.3,428.1L540.1,428.2L541.7,428.2L542.8,428.3"/><path d="M495.1,434.9L496.0,435.1L497.2,435.4L498.7,435.7L500.3,436.1L502.0,436.5L503.7,436.9L505.3,437.2L506.7,437.5L507.9,437.8L509.1,438.1L510.1,438.5L511.2,438.8L512.2,439.1L513.3,439.3L514.5,439.3L515.8,439.2L517.2,438.9L518.6,438.3L520.2,437.6L521.7,436.8L523.3,435.9L525.0,435.2L526.6,434.6L528.3,434.2L530.1,434.0L532.1,434.0L534.2,434.1L536.3,434.3L538.3,434.5L540.1,434.7L541.7,434.9L542.8,435.0"/><path d="M495.1,452.2L496.0,451.6L497.2,450.9L498.7,449.9L500.3,448.9L502.0,447.9L503.7,446.8L505.3,445.8L506.7,445.0L507.9,444.2L509.1,443.4L510.1,442.5L511.2,441.7L512.2,441.0L513.3,440.5L514.5,440.1L515.8,440.0L517.2,440.2L518.6,440.6L520.2,441.2L521.7,442.0L523.3,442.9L525.0,443.7L526.6,444.4L528.3,445.0L530.1,445.5L532.1,445.9L534.2,446.3L536.3,446.7L538.3,447.0L540.1,447.3L541.7,447.5L542.8,447.7"/><path d="M495.1,448.7L496.0,449.4L497.2,450.3L498.7,451.4L500.3,452.5L502.0,453.8L503.7,454.9L505.3,455.9L506.7,456.7L507.9,457.3L509.1,457.9L510.1,458.4L511.2,458.8L512.2,459.1L513.3,459.3L514.5,459.3L515.8,459.2L517.2,458.8L518.6,458.3L520.2,457.5L521.7,456.6L523.3,455.7L525.0,454.8L526.6,454.0L528.3,453.3L530.1,452.7L532.1,452.2L534.2,451.7L536.3,451.2L538.3,450.8L540.1,450.4L541.7,450.1L542.8,449.8"/><path d="M495.1,460.7L496.0,460.8L497.2,461.0L498.7,461.2L500.3,461.5L502.0,461.8L503.7,462.0L505.3,462.3L506.7,462.5L507.9,462.8L509.1,463.1L510.1,463.5L511.2,463.8L512.2,464.1L513.3,464.3L514.5,464.4L515.8,464.2L517.2,463.8L518.6,463.3L520.2,462.6L521.7,461.7L523.3,460.9L525.0,460.0L526.6,459.1L528.3,458.3L530.1,457.5L532.1,456.6L534.2,455.7L536.3,454.8L538.3,453.9L540.1,453.1L541.7,452.5L542.8,452.0"/><path d="M495.1,464.0L496.0,464.2L497.2,464.4L498.7,464.7L500.3,465.0L502.0,465.4L503.7,465.8L505.3,466.2L506.7,466.7L507.9,467.3L509.1,468.0L510.1,468.7L511.2,469.5L512.2,470.3L513.3,470.9L514.5,471.4L515.8,471.7L517.2,471.7L518.6,471.4L520.2,470.8L521.7,470.3L523.3,469.7L525.0,469.3L526.6,469.1L528.3,469.2L530.1,469.8L532.1,470.7L534.2,471.8L536.3,473.1L538.3,474.4L540.1,475.6L541.7,476.6L542.8,477.3"/><path d="M495.1,479.1L496.0,479.2L497.2,479.3L498.7,479.4L500.3,479.5L502.0,479.6L503.7,479.8L505.3,479.9L506.7,480.0L507.9,480.1L509.1,480.3L510.1,480.4L511.2,480.6L512.2,480.7L513.3,480.8L514.5,480.8L515.8,480.8L517.2,480.7L518.6,480.6L520.2,480.4L521.7,480.2L523.3,480.0L525.0,479.7L526.6,479.5L528.3,479.2L530.1,478.9L532.1,478.5L534.2,478.1L536.3,477.8L538.3,477.4L540.1,477.0L541.7,476.7L542.8,476.5"/><path d="M495.1,481.7L496.7,481.7L498.7,481.6L501.1,481.5L503.8,481.4L506.7,481.3L509.7,481.3L512.8,481.3L515.8,481.3L519.1,481.4L522.7,481.5L526.7,481.7L530.6,481.9L534.4,482.1L537.8,482.3L540.7,482.5L542.8,482.6"/><path d="M495.1,486.0L496.0,485.8L497.2,485.5L498.7,485.1L500.3,484.8L502.0,484.4L503.7,484.0L505.3,483.6L506.7,483.3L507.9,483.0L509.1,482.8L510.1,482.5L511.2,482.3L512.2,482.1L513.3,481.9L514.5,481.8L515.8,481.7L517.2,481.7L518.6,481.8L520.2,482.0L521.7,482.2L523.3,482.4L525.0,482.5L526.6,482.6L528.3,482.5L530.1,482.3L532.1,482.0L534.2,481.6L536.3,481.2L538.3,480.8L540.1,480.4L541.7,480.0L542.8,479.8"/><path d="M495.1,491.0L496.0,490.8L497.2,490.5L498.7,490.1L500.3,489.8L502.0,489.4L503.7,489.0L505.3,488.6L506.7,488.3L508.0,488.0L509.2,487.6L510.4,487.2L511.5,486.9L512.6,486.6L513.7,486.4L514.8,486.4L515.8,486.7L516.8,487.3L517.7,488.3L518.6,489.5L519.5,490.8L520.3,492.1L521.2,493.2L522.1,494.0L523.1,494.4L524.1,494.3L525.1,493.8L526.1,493.1L527.2,492.2L528.2,491.2L529.3,490.1L530.5,489.2L531.7,488.3L533.0,487.5L534.6,486.6L536.2,485.7L537.8,484.9L539.3,484.0L540.7,483.3L541.9,482.7L542.8,482.2"/><path d="M495.1,498.3L495.8,498.4L496.8,498.6L497.9,498.9L499.1,499.1L500.5,499.4L501.8,499.7L503.2,499.9L504.6,500.2L506.0,500.5L507.5,500.8L509.0,501.2L510.6,501.6L512.2,501.9L513.7,502.1L515.1,502.3L516.3,502.2L517.4,501.9L518.4,501.3L519.3,500.6L520.2,499.8L521.0,499.0L521.7,498.3L522.4,497.9L523.1,497.8L523.7,498.0L524.3,498.4L524.7,499.0L525.2,499.7L525.6,500.5L526.0,501.5L526.5,502.5L527.0,503.6L527.6,504.8L528.1,506.1L528.7,507.5L529.3,509.0L530.0,510.5L530.6,512.1L531.2,513.7L531.8,515.3L532.4,516.9L533.0,518.5L533.6,520.1L534.2,521.7L534.8,523.4L535.4,525.2L536.0,527.0L536.7,528.9L537.4,531.0L538.3,533.4L539.2,536.0L540.1,538.6L540.9,541.0L541.7,543.2L542.3,545.1L542.8,546.5"/><path d="M495.1,500.7L495.8,501.0L496.8,501.4L497.9,501.9L499.1,502.4L500.5,503.0L501.8,503.6L503.2,504.1L504.6,504.6L506.0,505.1L507.5,505.6L509.1,506.1L510.7,506.6L512.2,507.1L513.7,507.5L515.1,507.8L516.3,508.0L517.3,508.1L518.1,508.0L518.9,507.9L519.5,507.7L520.1,507.5L520.7,507.2L521.4,506.8L522.1,506.5L522.9,506.1L523.7,505.7L524.5,505.2L525.4,504.6L526.2,504.1L527.1,503.6L528.0,503.1L528.9,502.6L529.8,502.2L530.8,501.7L531.8,501.3L532.8,500.9L533.9,500.6L534.8,500.2L535.8,499.9L536.7,499.7L537.6,499.5L538.5,499.4L539.4,499.3L540.2,499.3L541.0,499.2L541.7,499.2L542.3,499.2L542.8,499.2"/><path d="M495.1,513.3L495.8,513.4L496.8,513.6L497.9,513.9L499.1,514.1L500.5,514.4L501.8,514.6L503.2,514.7L504.6,514.8L506.0,514.7L507.5,514.5L509.0,514.3L510.6,514.0L512.1,513.7L513.6,513.4L515.0,513.3L516.3,513.3L517.4,513.5L518.5,513.8L519.4,514.2L520.3,514.6L521.1,515.1L522.0,515.6L523.0,516.0L524.0,516.3L525.1,516.6L526.3,516.8L527.6,517.0L528.8,517.2L530.1,517.3L531.4,517.5L532.6,517.6L533.8,517.7L535.0,517.8L536.3,517.9L537.6,518.0L538.9,518.0L540.1,518.1L541.2,518.1L542.1,518.2L542.8,518.2"/><path d="M495.1,524.5L495.8,523.9L496.8,523.2L498.0,522.3L499.4,521.3L500.7,520.2L502.1,519.2L503.4,518.1L504.6,517.2L505.7,516.3L506.8,515.4L507.8,514.4L508.9,513.5L509.8,512.6L510.8,511.8L511.6,511.1L512.4,510.4L513.1,509.8L513.7,509.3L514.2,508.8L514.7,508.4L515.1,508.1L515.5,507.8L515.9,507.6L516.3,507.5L516.7,507.5L517.1,507.6L517.4,507.7L517.7,508.0L518.0,508.3L518.4,508.6L518.8,509.0L519.2,509.5L519.7,510.0L520.2,510.6L520.8,511.2L521.4,511.9L522.0,512.7L522.6,513.5L523.3,514.4L524.0,515.3L524.8,516.3L525.6,517.5L526.5,518.7L527.4,519.9L528.3,521.2L529.2,522.5L530.1,523.8L530.9,525.0L531.7,526.2L532.4,527.4L533.1,528.5L533.9,529.7L534.6,530.9L535.3,532.1L536.0,533.4L536.7,534.7L537.5,536.2L538.3,537.8L539.2,539.5L540.1,541.2L540.9,542.8L541.7,544.3L542.3,545.6L542.8,546.5"/><path d="M495.1,522.1L495.8,522.1L496.8,522.1L497.9,522.1L499.1,522.1L500.5,522.1L501.8,522.1L503.2,522.1L504.6,522.1L506.0,522.1L507.5,522.0L509.0,522.0L510.6,521.9L512.1,521.9L513.6,521.9L515.0,522.0L516.3,522.1L517.5,522.3L518.5,522.5L519.5,522.8L520.4,523.1L521.3,523.5L522.2,523.9L523.1,524.4L524.0,525.0L524.9,525.6L525.9,526.2L526.8,526.9L527.7,527.7L528.6,528.5L529.6,529.5L530.7,530.5L531.8,531.8L533.1,533.4L534.6,535.3L536.2,537.4L537.8,539.6L539.3,541.7L540.7,543.7L541.9,545.3L542.8,546.5"/><path d="M506.7,515.0L507.4,514.4L508.4,513.6L509.5,512.6L510.8,511.5L512.1,510.5L513.4,509.5L514.7,508.8L515.8,508.3L516.8,508.1L517.8,508.1L518.8,508.2L519.7,508.4L520.6,508.8L521.5,509.1L522.4,509.6L523.3,510.0L524.2,510.5L525.2,511.1L526.2,511.9L527.1,512.6L528.0,513.3L528.8,514.0L529.5,514.6L530.0,515.0"/><path d="M519.2,490.0L519.5,490.4L519.9,491.0L520.3,491.7L520.8,492.5L521.3,493.2L521.9,493.8L522.5,494.2L523.1,494.4L523.7,494.3L524.5,493.9L525.2,493.4L526.0,492.8L526.8,492.1L527.5,491.3L528.2,490.6L528.9,490.0L529.5,489.4L530.1,488.7L530.7,487.9L531.3,487.2L531.8,486.5L532.3,485.9L532.7,485.4L533.0,485.0"/><path d="M559.5,208.3L561.1,208.3L563.3,208.3L565.9,208.3L568.7,208.2L571.7,208.2L574.7,208.0L577.5,207.8L580.0,207.5L582.3,207.1L584.4,206.6L586.5,206.1L588.6,205.5L590.6,204.9L592.6,204.1L594.6,203.4L596.7,202.5L598.8,201.5L600.9,200.4L603.1,199.2L605.2,197.9L607.3,196.6L609.4,195.4L611.4,194.3L613.3,193.3L615.2,192.5L616.9,191.7L618.5,191.0L620.2,190.4L621.8,189.8L623.4,189.3L625.0,188.8L626.7,188.3L628.4,187.9L630.1,187.6L631.9,187.3L633.7,187.0L635.5,186.8L637.3,186.7L639.1,186.7L640.8,186.7L642.6,186.7L644.3,186.9L646.0,187.0L647.8,187.3L649.5,187.6L651.3,188.0L653.1,188.5L655.0,189.2L657.0,189.9L659.0,190.9L661.1,191.9L663.2,193.1L665.3,194.2L667.4,195.4L669.6,196.5L671.7,197.5L673.7,198.4L675.6,199.4L677.6,200.3L679.5,201.2L681.5,202.0L683.6,202.8L685.9,203.5L688.3,204.2L691.2,204.7L694.5,205.1L698.1,205.5L701.7,205.8L705.2,206.1L708.4,206.3L711.0,206.5L713.0,206.7"/><path d="M559.5,209.2L561.1,209.1L563.1,209.1L565.5,209.1L568.2,209.0L571.1,208.9L574.1,208.8L577.1,208.6L580.0,208.3L582.9,208.0L586.1,207.5L589.3,207.0L592.5,206.4L595.8,205.8L599.0,205.2L602.1,204.7L605.0,204.2L607.8,203.7L610.4,203.2L613.0,202.7L615.6,202.3L618.0,201.8L620.4,201.4L622.7,201.1L625.0,200.8L627.3,200.6L629.6,200.5L631.9,200.4L634.2,200.4L636.2,200.4L638.1,200.4L639.6,200.4L640.8,200.3"/><path d="M640.8,205.0L641.9,205.0L643.3,205.0L645.0,205.0L646.9,204.9L648.9,204.9L651.0,204.9L653.0,205.0L655.0,205.0L657.0,205.1L659.0,205.1L661.1,205.2L663.2,205.3L665.3,205.4L667.4,205.5L669.6,205.7L671.7,205.8L673.7,206.0L675.6,206.2L677.6,206.4L679.5,206.6L681.5,206.8L683.6,207.1L685.9,207.3L688.3,207.5L691.2,207.7L694.5,208.0L698.1,208.2L701.7,208.4L705.2,208.7L708.4,208.9L711.0,209.0L713.0,209.2"/><path d="M559.5,224.2L561.1,224.1L563.3,224.1L565.9,224.0L568.7,224.0L571.7,223.9L574.7,223.7L577.5,223.6L580.0,223.3L582.3,223.0L584.4,222.7L586.5,222.3L588.6,221.9L590.6,221.4L592.6,221.0L594.6,220.5L596.7,220.0L598.8,219.5L600.8,219.0L602.9,218.4L605.0,217.8L607.1,217.3L609.2,216.8L611.3,216.3L613.3,215.8L615.5,215.5L617.6,215.1L619.8,214.8L622.0,214.5L624.2,214.3L626.2,214.0L628.2,213.8L630.0,213.7L631.6,213.5L633.0,213.4L634.3,213.3L635.6,213.3L636.8,213.2L638.0,213.2L639.4,213.3L640.8,213.3L642.4,213.4L644.1,213.5L645.8,213.6L647.6,213.8L649.4,214.0L651.2,214.2L653.1,214.6L655.0,215.0L657.0,215.5L659.0,216.1L661.1,216.8L663.2,217.6L665.3,218.3L667.4,219.2L669.6,220.0L671.7,220.8L673.8,221.7L675.8,222.6L677.9,223.5L680.0,224.4L682.1,225.4L684.2,226.4L686.3,227.3L688.3,228.3L690.5,229.4L692.7,230.5L695.0,231.6L697.2,232.8L699.4,233.9L701.4,234.9L703.3,235.9L705.0,236.7L706.5,237.3L707.8,237.9L709.0,238.3L710.0,238.7L711.0,239.0L711.8,239.3L712.4,239.5L713.0,239.7"/><path d="M559.5,247.0L560.4,246.3L561.7,245.5L563.2,244.4L564.9,243.2L566.6,242.0L568.4,240.7L570.1,239.5L571.7,238.3L573.1,237.2L574.6,236.0L576.0,234.8L577.4,233.6L578.9,232.4L580.3,231.2L581.8,230.2L583.3,229.2L584.9,228.3L586.5,227.4L588.1,226.6L589.7,225.8L591.3,225.1L593.1,224.4L594.8,223.9L596.7,223.3L598.6,222.9L600.6,222.5L602.7,222.1L604.8,221.9L606.9,221.6L609.1,221.5L611.2,221.4L613.3,221.3L615.5,221.4L617.6,221.5L619.8,221.8L622.0,222.0L624.2,222.3L626.2,222.6L628.2,222.8L630.0,223.0L631.7,223.1L633.4,223.1L635.0,223.1L636.5,223.1L637.8,223.1L639.0,223.0L640.0,223.0L640.8,223.0"/><path d="M640.8,219.7L642.0,219.6L643.5,219.4L645.4,219.3L647.4,219.1L649.5,218.9L651.5,218.7L653.4,218.5L655.0,218.3L656.3,218.1L657.4,217.9L658.3,217.7L659.2,217.5L660.1,217.3L661.0,217.1L662.1,216.9L663.3,216.7L664.8,216.4L666.4,216.2L668.0,215.9L669.8,215.6L671.6,215.3L673.3,215.1L675.0,215.0L676.7,215.0L678.2,215.1L679.7,215.2L681.1,215.4L682.5,215.7L683.9,216.1L685.3,216.5L686.8,217.0L688.3,217.5L689.9,218.2L691.6,219.0L693.3,219.8L695.0,220.8L696.7,221.7L698.4,222.6L700.1,223.5L701.7,224.2L703.3,224.8L704.9,225.3L706.6,225.8L708.2,226.2L709.7,226.6L711.0,227.0L712.1,227.3L713.0,227.5"/><path d="M559.5,247.0L561.1,246.5L563.1,245.7L565.5,244.8L568.2,243.9L571.1,242.8L574.1,241.8L577.1,240.9L580.0,240.0L582.9,239.2L586.1,238.4L589.3,237.7L592.5,236.9L595.8,236.2L599.0,235.5L602.1,234.8L605.0,234.2L607.8,233.5L610.4,232.9L613.0,232.3L615.6,231.8L618.0,231.2L620.4,230.8L622.7,230.3L625.0,230.0L627.2,229.7L629.3,229.5L631.3,229.3L633.3,229.2L635.2,229.1L637.1,229.1L639.0,229.1L640.8,229.2L642.7,229.2L644.4,229.3L646.2,229.4L647.9,229.6L649.6,229.8L651.3,230.1L653.1,230.4L655.0,230.8L657.0,231.3L659.0,231.9L661.1,232.6L663.2,233.3L665.3,234.1L667.4,234.9L669.6,235.8L671.7,236.7L673.8,237.6L675.8,238.6L677.9,239.7L680.0,240.8L682.1,241.9L684.2,243.0L686.3,244.1L688.3,245.0L690.5,245.9L692.7,246.8L695.0,247.6L697.2,248.4L699.4,249.1L701.4,249.8L703.3,250.4L705.0,250.8L706.5,251.2L707.8,251.4L709.0,251.5L710.0,251.6L711.0,251.6L711.8,251.6L712.4,251.6L713.0,251.7"/><path d="M559.5,247.5L560.4,247.8L561.6,248.2L563.0,248.6L564.5,249.1L566.2,249.6L568.0,250.1L569.8,250.5L571.7,250.8L573.5,251.1L575.5,251.3L577.6,251.5L579.7,251.7L581.9,251.8L584.1,251.8L586.2,251.8L588.3,251.7L590.4,251.4L592.5,251.1L594.6,250.7L596.7,250.2L598.7,249.7L600.8,249.2L602.9,248.8L605.0,248.3L607.1,247.9L609.1,247.5L611.1,247.1L613.2,246.6L615.2,246.2L617.3,245.9L619.5,245.6L621.7,245.3L623.9,245.2L626.2,245.1L628.5,245.1L630.9,245.1L633.3,245.2L635.7,245.2L638.3,245.3L640.8,245.3L643.5,245.4L646.2,245.4L648.9,245.4L651.7,245.4L654.6,245.4L657.5,245.5L660.4,245.6L663.3,245.8L666.3,246.1L669.4,246.5L672.5,246.9L675.7,247.3L678.9,247.8L682.0,248.3L685.2,248.7L688.3,249.2L691.6,249.6L695.1,250.1L698.7,250.6L702.2,251.0L705.6,251.5L708.6,251.9L711.1,252.2L713.0,252.5"/><path d="M559.5,255.0L561.1,255.0L563.1,254.9L565.5,254.8L568.2,254.8L571.1,254.7L574.1,254.7L577.1,254.6L580.0,254.7L583.0,254.7L586.1,254.8L589.4,255.0L592.7,255.1L596.0,255.3L599.2,255.5L602.2,255.7L605.0,255.8L607.5,256.0L609.7,256.2L611.8,256.4L613.7,256.6L615.6,256.8L617.5,257.0L619.5,257.3L621.7,257.5L623.9,257.8L626.2,258.1L628.5,258.4L630.9,258.7L633.3,259.0L635.7,259.2L638.3,259.4L640.8,259.5L643.5,259.5L646.2,259.5L648.9,259.4L651.7,259.2L654.6,259.0L657.5,258.8L660.4,258.6L663.3,258.3L666.3,258.1L669.4,257.8L672.5,257.6L675.7,257.2L678.9,256.9L682.0,256.6L685.2,256.2L688.3,255.8L691.6,255.4L695.1,254.9L698.7,254.3L702.2,253.8L705.6,253.2L708.6,252.7L711.1,252.3L713.0,252.0"/><path d="M559.5,259.2L561.1,259.5L563.1,259.9L565.5,260.3L568.2,260.8L571.1,261.4L574.1,262.0L577.1,262.7L580.0,263.3L582.9,264.1L586.1,264.9L589.3,265.7L592.5,266.6L595.8,267.5L599.0,268.4L602.1,269.2L605.0,270.0L607.8,270.7L610.4,271.4L613.0,272.1L615.6,272.7L618.0,273.3L620.4,273.9L622.7,274.5L625.0,275.0L627.2,275.5L629.3,276.1L631.3,276.6L633.3,277.1L635.2,277.5L637.1,277.9L639.0,278.2L640.8,278.3L642.7,278.4L644.4,278.3L646.2,278.2L647.9,278.0L649.6,277.8L651.3,277.4L653.1,277.1L655.0,276.7L657.0,276.2L659.0,275.7L661.1,275.1L663.2,274.5L665.3,273.8L667.4,273.1L669.6,272.4L671.7,271.7L673.7,270.9L675.6,270.1L677.6,269.2L679.5,268.3L681.5,267.4L683.6,266.5L685.9,265.7L688.3,265.0L691.2,264.3L694.5,263.7L698.1,263.1L701.7,262.5L705.2,262.0L708.4,261.5L711.0,261.1L713.0,260.8"/><path d="M559.5,273.3L561.1,273.1L563.1,272.8L565.5,272.5L568.2,272.1L571.1,271.7L574.1,271.3L577.1,271.0L580.0,270.8L582.9,270.7L586.1,270.6L589.3,270.6L592.5,270.6L595.8,270.7L599.0,270.7L602.1,270.8L605.0,270.8L607.8,270.9L610.4,270.9L613.0,271.0L615.6,271.1L618.0,271.1L620.4,271.2L622.7,271.3L625.0,271.3L627.3,271.4L629.6,271.4L631.9,271.5L634.2,271.5L636.2,271.6L638.1,271.6L639.6,271.6L640.8,271.7"/><path d="M640.8,275.8L641.9,275.8L643.3,275.8L645.0,275.8L646.9,275.7L648.9,275.7L651.0,275.5L653.0,275.3L655.0,275.0L657.0,274.6L659.0,274.0L661.1,273.4L663.2,272.7L665.3,271.9L667.4,271.2L669.6,270.6L671.7,270.0L673.7,269.5L675.6,268.9L677.6,268.4L679.5,267.9L681.5,267.5L683.6,267.1L685.9,266.8L688.3,266.7L691.2,266.6L694.5,266.8L698.1,267.0L701.7,267.3L705.2,267.6L708.4,267.9L711.0,268.2L713.0,268.3"/><path d="M559.5,272.5L561.8,272.5L564.8,272.6L568.4,272.6L572.4,272.7L576.5,272.8L580.7,272.9L584.7,273.1L588.3,273.3L591.6,273.6L594.8,274.0L597.9,274.4L600.9,274.9L603.9,275.4L607.0,275.8L610.1,276.3L613.3,276.7L616.8,277.0L620.7,277.4L624.7,277.8L628.6,278.1L632.4,278.4L635.8,278.7L638.7,279.0L640.8,279.2"/><path d="M559.5,290.8L560.7,291.0L562.3,291.3L564.3,291.6L566.4,291.9L568.7,292.3L570.9,292.6L573.1,293.0L575.0,293.3L576.7,293.7L578.4,294.2L580.0,294.6L581.6,295.1L583.2,295.5L584.8,295.8L586.5,295.9L588.3,295.8L590.3,295.5L592.3,295.0L594.3,294.3L596.5,293.5L598.6,292.6L600.8,291.7L602.9,290.8L605.0,290.0L607.1,289.2L609.1,288.3L611.1,287.5L613.2,286.6L615.2,285.7L617.3,284.8L619.5,284.1L621.7,283.3L624.1,282.7L626.7,282.0L629.5,281.4L632.3,280.8L634.9,280.3L637.3,279.9L639.3,279.5L640.8,279.2"/><path d="M640.8,285.8L642.6,285.9L644.8,285.9L647.5,286.0L650.5,286.1L653.7,286.2L657.0,286.3L660.2,286.5L663.3,286.7L666.3,286.9L669.4,287.2L672.5,287.5L675.7,287.8L678.9,288.2L682.0,288.5L685.2,288.8L688.3,289.2L691.6,289.5L695.1,289.9L698.7,290.2L702.2,290.6L705.6,290.9L708.6,291.2L711.1,291.5L713.0,291.7"/><path d="M559.5,290.0L561.1,290.3L563.1,290.6L565.5,291.0L568.2,291.4L571.1,291.9L574.1,292.6L577.1,293.3L580.0,294.2L583.0,295.2L586.1,296.5L589.4,297.9L592.7,299.3L596.0,300.8L599.2,302.3L602.2,303.7L605.0,305.0L607.5,306.2L609.7,307.3L611.8,308.4L613.7,309.5L615.6,310.5L617.5,311.5L619.5,312.4L621.7,313.3L624.0,314.2L626.4,315.1L628.9,316.0L631.4,316.9L633.9,317.6L636.3,318.3L638.7,318.8L640.8,319.2L642.8,319.4L644.7,319.4L646.4,319.4L648.1,319.2L649.7,318.9L651.4,318.6L653.1,318.1L655.0,317.5L657.0,316.8L659.0,315.9L661.1,314.9L663.2,313.8L665.3,312.6L667.4,311.5L669.6,310.3L671.7,309.2L673.7,308.1L675.6,306.9L677.6,305.8L679.5,304.6L681.5,303.4L683.6,302.3L685.9,301.1L688.3,300.0L691.2,298.9L694.5,297.7L698.1,296.4L701.7,295.3L705.2,294.1L708.4,293.1L711.0,292.3L713.0,291.7"/><path d="M559.5,291.7L561.1,291.9L563.1,292.2L565.5,292.6L568.2,293.0L571.1,293.5L574.1,294.2L577.1,294.9L580.0,295.8L583.0,296.9L586.1,298.3L589.4,299.7L592.7,301.3L596.0,302.9L599.2,304.5L602.2,306.1L605.0,307.5L607.5,308.9L609.7,310.2L611.8,311.5L613.7,312.8L615.6,314.1L617.5,315.3L619.5,316.4L621.7,317.5L624.1,318.5L626.7,319.6L629.5,320.5L632.3,321.5L634.9,322.3L637.3,323.0L639.3,323.7L640.8,324.2"/><path d="M559.5,304.2L561.1,304.2L563.3,304.1L565.9,304.1L568.7,304.1L571.7,304.0L574.7,304.0L577.5,304.1L580.0,304.2L582.3,304.3L584.4,304.4L586.5,304.5L588.6,304.6L590.6,304.8L592.6,305.1L594.6,305.4L596.7,305.8L598.8,306.4L600.8,307.0L602.9,307.7L605.0,308.5L607.1,309.3L609.2,310.1L611.3,310.9L613.3,311.7L615.5,312.4L617.6,313.2L619.8,314.0L622.0,314.8L624.2,315.6L626.2,316.3L628.2,316.9L630.0,317.5L631.6,318.0L633.0,318.4L634.3,318.7L635.6,319.0L636.8,319.3L638.0,319.5L639.4,319.6L640.8,319.7L642.4,319.7L644.1,319.7L645.8,319.6L647.6,319.4L649.4,319.3L651.2,319.0L653.1,318.7L655.0,318.3L657.0,317.9L659.0,317.4L661.1,316.8L663.2,316.1L665.3,315.4L667.4,314.7L669.6,314.0L671.7,313.3L673.7,312.6L675.6,311.9L677.6,311.1L679.5,310.3L681.5,309.5L683.6,308.8L685.9,308.1L688.3,307.5L691.2,306.9L694.5,306.4L698.1,305.9L701.7,305.5L705.2,305.1L708.4,304.7L711.0,304.4L713.0,304.2"/><path d="M559.5,324.2L561.1,324.0L563.3,323.7L565.9,323.4L568.7,323.1L571.7,322.8L574.7,322.5L577.5,322.4L580.0,322.5L582.3,322.7L584.6,323.1L586.9,323.6L589.1,324.2L591.2,324.8L593.2,325.4L595.0,326.1L596.7,326.7L598.1,327.2L599.1,327.7L600.0,328.3L600.8,328.8L601.6,329.4L602.5,330.0L603.6,330.8L605.0,331.7L606.7,332.8L608.5,334.1L610.5,335.6L612.7,337.2L614.9,338.7L617.1,340.0L619.4,341.0L621.7,341.7L624.0,341.9L626.4,341.7L628.9,341.3L631.4,340.7L633.9,340.0L636.3,339.3L638.7,338.7L640.8,338.3L642.8,338.1L644.7,338.1L646.4,338.1L648.1,338.1L649.7,338.1L651.4,338.0L653.1,337.8L655.0,337.5L657.0,337.0L659.0,336.5L661.1,335.8L663.2,335.1L665.3,334.3L667.4,333.4L669.6,332.5L671.7,331.7L673.7,330.7L675.6,329.6L677.6,328.4L679.5,327.2L681.5,326.1L683.6,325.0L685.9,324.1L688.3,323.3L691.2,322.8L694.5,322.4L698.1,322.1L701.7,322.0L705.2,321.9L708.4,321.8L711.0,321.7L713.0,321.7"/><path d="M640.8,276.7L641.9,276.5L643.3,276.4L645.0,276.2L646.9,276.0L648.9,275.8L651.0,275.6L653.0,275.3L655.0,275.0L657.0,274.7L659.1,274.2L661.4,273.8L663.6,273.3L665.8,272.9L667.9,272.4L669.9,272.0L671.7,271.7L673.3,271.4L674.9,271.1L676.3,270.8L677.7,270.6L678.9,270.4L680.0,270.3L680.9,270.1L681.7,270.0"/><path d="M559.5,333.8L560.4,333.9L561.7,334.0L563.2,334.1L564.8,334.3L566.6,334.5L568.3,334.7L570.1,335.0L571.7,335.4L573.3,335.8L574.9,336.3L576.6,336.9L578.2,337.4L579.8,338.1L581.4,338.7L582.8,339.3L584.2,340.0L585.4,340.7L586.6,341.4L587.7,342.1L588.7,342.9L589.7,343.6L590.6,344.4L591.6,345.1L592.5,345.8L593.4,346.5L594.3,347.2L595.2,347.8L596.0,348.5L596.8,349.1L597.6,349.7L598.4,350.3L599.2,350.8L600.0,351.3L600.7,351.8L601.3,352.2L602.0,352.7L602.7,353.0L603.4,353.4L604.2,353.6L605.0,353.8L605.9,353.8L606.9,353.8L607.9,353.6L609.0,353.5L610.1,353.2L611.2,353.0L612.2,352.7L613.3,352.5L614.3,352.3L615.3,352.0L616.2,351.8L617.2,351.5L618.2,351.2L619.3,350.8L620.4,350.4L621.7,350.0L623.2,349.5L624.9,348.8L626.7,348.1L628.5,347.4L630.3,346.6L632.1,346.0L633.7,345.4L635.0,345.0L636.1,344.7L637.0,344.5L637.7,344.4L638.3,344.4L638.9,344.4L639.5,344.5L640.1,344.5L640.8,344.6L641.6,344.7L642.4,344.7L643.2,344.8L644.0,345.0L644.8,345.1L645.7,345.3L646.6,345.5L647.5,345.8L648.5,346.1L649.5,346.5L650.5,346.9L651.5,347.4L652.6,347.8L653.7,348.3L654.7,348.8L655.8,349.2L656.9,349.6L657.9,350.1L659.0,350.5L660.1,351.0L661.2,351.4L662.2,351.8L663.2,352.2L664.2,352.5L665.1,352.8L666.0,353.0L666.8,353.3L667.7,353.5L668.5,353.6L669.2,353.7L670.0,353.8L670.8,353.8L671.6,353.7L672.3,353.5L673.0,353.4L673.6,353.1L674.3,352.8L675.1,352.5L675.9,352.1L676.7,351.7L677.6,351.2L678.6,350.6L679.6,350.0L680.7,349.4L681.8,348.7L682.9,348.0L683.9,347.3L685.0,346.7L686.0,346.1L687.1,345.5L688.1,344.9L689.1,344.3L690.2,343.7L691.2,343.2L692.3,342.6L693.3,342.1L694.3,341.6L695.3,341.1L696.3,340.7L697.3,340.2L698.3,339.8L699.4,339.3L700.5,338.8L701.7,338.3L703.1,337.7L704.6,337.0L706.3,336.3L707.9,335.6L709.5,334.9L711.0,334.2L712.2,333.7L713.1,333.3"/><path d="M559.5,334.6L560.1,334.7L561.0,334.9L562.0,335.0L563.1,335.2L564.3,335.5L565.5,335.8L566.6,336.2L567.5,336.7L568.3,337.3L569.1,338.0L569.8,338.8L570.5,339.6L571.2,340.5L571.8,341.4L572.5,342.4L573.3,343.3L574.1,344.3L574.9,345.3L575.7,346.4L576.6,347.5L577.4,348.6L578.3,349.7L579.2,350.7L580.0,351.7L580.8,352.6L581.7,353.6L582.6,354.5L583.4,355.4L584.3,356.2L585.1,357.0L585.9,357.7L586.7,358.3L587.5,358.8L588.2,359.3L588.8,359.6L589.5,359.9L590.2,360.2L590.9,360.4L591.7,360.6L592.5,360.8L593.4,361.0L594.4,361.1L595.4,361.3L596.5,361.4L597.6,361.5L598.7,361.5L599.7,361.6L600.8,361.7L601.8,361.8L602.8,361.9L603.8,361.9L604.7,362.0L605.7,362.0L606.8,362.1L608.0,362.1L609.2,362.1L610.6,362.1L612.0,362.1L613.6,362.0L615.1,362.0L616.8,361.9L618.4,361.8L620.1,361.8L621.7,361.7L623.3,361.7L624.9,361.6L626.5,361.6L628.1,361.5L629.7,361.5L631.4,361.4L633.2,361.3L635.0,361.2L636.9,361.1L638.9,361.0L641.0,360.8L643.1,360.6L645.3,360.4L647.5,360.2L649.6,360.1L651.7,360.0L653.9,360.0L656.1,360.0L658.5,360.0L660.8,360.0L663.0,360.1L665.0,360.2L666.8,360.3L668.3,360.4L669.4,360.5L670.0,360.6L670.4,360.8L670.7,360.9L670.9,361.1L671.2,361.3L671.7,361.5L672.5,361.7L673.7,362.0L675.2,362.4L676.9,362.8L678.7,363.2L680.6,363.6L682.3,363.9L683.8,364.1L685.0,364.2L685.9,364.2L686.6,364.0L687.2,363.8L687.6,363.5L688.0,363.2L688.4,362.7L688.7,362.2L689.2,361.7L689.7,361.1L690.2,360.3L690.7,359.5L691.3,358.6L691.8,357.6L692.3,356.7L692.8,355.8L693.3,355.0L693.8,354.2L694.3,353.5L694.9,352.7L695.4,352.0L695.9,351.3L696.4,350.6L697.0,349.9L697.5,349.2L698.0,348.6L698.4,348.0L698.8,347.4L699.1,346.9L699.6,346.3L700.1,345.7L700.8,345.0L701.7,344.2L702.9,343.3L704.3,342.1L705.9,340.9L707.7,339.7L709.3,338.5L710.9,337.4L712.2,336.5L713.1,335.8"/><path d="M559.5,344.2L560.5,344.3L561.8,344.4L563.4,344.4L565.1,344.6L566.9,344.7L568.6,344.9L570.3,345.1L571.7,345.4L572.9,345.8L574.0,346.2L575.1,346.6L576.1,347.1L577.1,347.7L578.0,348.2L579.0,348.7L580.0,349.2L581.0,349.7L582.1,350.2L583.1,350.6L584.1,351.1L585.2,351.6L586.2,352.1L587.3,352.5L588.3,352.9L589.3,353.3L590.4,353.6L591.4,353.9L592.5,354.2L593.6,354.5L594.6,354.8L595.7,355.1L596.7,355.4L597.7,355.7L598.8,356.0L599.8,356.3L600.9,356.5L601.9,356.8L602.9,357.0L604.0,357.3L605.0,357.5L606.0,357.7L607.1,357.9L608.1,358.1L609.1,358.3L610.2,358.4L611.2,358.6L612.3,358.7L613.3,358.8L614.3,358.8L615.3,358.8L616.2,358.7L617.2,358.7L618.2,358.6L619.3,358.5L620.4,358.4L621.7,358.3L623.1,358.2L624.6,358.1L626.2,358.0L627.8,357.8L629.5,357.7L631.3,357.6L633.1,357.5L635.0,357.5L636.9,357.5L638.9,357.6L641.0,357.7L643.1,357.8L645.3,357.9L647.5,358.0L649.6,358.2L651.7,358.3L653.8,358.5L656.0,358.6L658.3,358.8L660.5,359.0L662.7,359.2L664.7,359.4L666.6,359.5L668.3,359.6L669.7,359.6L671.0,359.7L672.1,359.6L673.0,359.6L673.9,359.5L674.8,359.4L675.7,359.3L676.7,359.2L677.7,359.0L678.8,358.9L679.8,358.7L680.9,358.4L681.9,358.2L682.9,358.0L684.0,357.7L685.0,357.5L686.0,357.3L687.1,357.1L688.1,356.8L689.1,356.6L690.2,356.4L691.2,356.2L692.3,356.0L693.3,355.8L694.3,355.7L695.3,355.5L696.3,355.4L697.3,355.3L698.3,355.2L699.4,355.1L700.5,355.1L701.7,355.0L703.1,355.0L704.6,354.9L706.3,354.9L707.9,354.9L709.5,355.0L711.0,355.0L712.2,355.0L713.1,355.0"/><path d="M559.5,355.0L560.4,355.1L561.7,355.3L563.2,355.4L564.8,355.6L566.6,355.9L568.3,356.1L570.1,356.4L571.7,356.7L573.3,357.0L574.9,357.4L576.6,357.9L578.2,358.4L579.8,358.8L581.4,359.2L582.8,359.7L584.2,360.0L585.4,360.3L586.6,360.6L587.6,360.8L588.6,361.0L589.6,361.2L590.5,361.4L591.5,361.6L592.5,361.7L593.5,361.8L594.6,362.0L595.6,362.1L596.6,362.2L597.7,362.3L598.7,362.3L599.8,362.2L600.8,362.1L601.8,361.9L602.9,361.6L603.9,361.2L605.0,360.7L606.1,360.3L607.1,359.8L608.2,359.3L609.2,358.8L610.2,358.2L611.3,357.7L612.3,357.1L613.4,356.5L614.4,355.9L615.4,355.3L616.5,354.7L617.5,354.2L618.5,353.7L619.6,353.2L620.6,352.7L621.6,352.3L622.6,351.9L623.7,351.5L624.7,351.1L625.8,350.8L626.9,350.5L628.1,350.3L629.3,350.1L630.6,350.0L631.8,349.9L632.9,349.7L634.0,349.6L635.0,349.5L635.9,349.4L636.8,349.3L637.7,349.1L638.5,349.0L639.2,349.0L639.8,348.9L640.4,348.8L640.8,348.8"/><path d="M640.8,348.8L641.3,348.7L642.0,348.6L642.8,348.5L643.6,348.4L644.6,348.3L645.6,348.2L646.5,348.2L647.5,348.3L648.5,348.5L649.5,348.7L650.5,348.9L651.5,349.3L652.6,349.6L653.7,350.0L654.7,350.4L655.8,350.8L656.8,351.3L657.9,351.8L658.9,352.4L660.0,353.0L661.1,353.5L662.1,354.1L663.2,354.6L664.2,355.0L665.2,355.4L666.3,355.7L667.3,356.0L668.4,356.2L669.4,356.4L670.4,356.6L671.5,356.7L672.5,356.7L673.5,356.7L674.6,356.6L675.6,356.4L676.6,356.2L677.7,356.0L678.7,355.7L679.8,355.4L680.8,355.0L681.8,354.6L682.9,354.1L683.9,353.6L685.0,353.1L686.1,352.5L687.1,352.0L688.2,351.4L689.2,350.8L690.2,350.2L691.3,349.6L692.3,348.9L693.4,348.3L694.4,347.6L695.4,347.0L696.5,346.4L697.5,345.8L698.5,345.2L699.6,344.7L700.7,344.1L701.7,343.6L702.8,343.1L703.8,342.6L704.8,342.1L705.8,341.7L706.8,341.3L707.9,340.9L708.9,340.5L710.0,340.2L710.9,339.9L711.8,339.6L712.5,339.4L713.1,339.2"/><path d="M559.5,370.0L560.4,370.0L561.7,369.9L563.2,369.9L564.8,369.8L566.6,369.7L568.3,369.6L570.1,369.4L571.7,369.2L573.3,368.9L574.9,368.5L576.6,368.1L578.2,367.6L579.8,367.1L581.4,366.6L582.8,366.2L584.2,365.8L585.4,365.5L586.6,365.1L587.6,364.8L588.6,364.6L589.6,364.3L590.5,364.1L591.5,363.9L592.5,363.8L593.5,363.6L594.6,363.5L595.6,363.5L596.6,363.4L597.7,363.4L598.7,363.5L599.8,363.6L600.8,363.8L601.8,364.0L602.8,364.3L603.8,364.6L604.8,365.0L605.9,365.4L606.9,365.8L608.0,366.3L609.2,366.7L610.5,367.2L611.8,367.7L613.3,368.2L614.8,368.8L616.2,369.3L617.6,369.8L618.9,370.2L620.0,370.4L620.9,370.5L621.7,370.5L622.4,370.4L623.0,370.3L623.6,370.1L624.2,369.8L624.9,369.5L625.8,369.2L626.8,368.8L627.9,368.3L629.2,367.7L630.4,367.0L631.6,366.4L632.9,365.8L634.0,365.3L635.0,365.0L635.9,364.8L636.8,364.7L637.7,364.7L638.5,364.7L639.2,364.8L639.8,364.9L640.4,365.0L640.8,365.0"/><path d="M635.0,361.7L636.0,361.7L637.2,361.7L638.8,361.7L640.5,361.7L642.3,361.8L644.1,361.9L645.9,362.2L647.5,362.5L649.1,363.0L650.8,363.7L652.6,364.5L654.3,365.4L655.9,366.3L657.5,367.1L658.8,367.8L660.0,368.3L660.9,368.6L661.5,368.9L662.0,369.0L662.4,369.1L662.7,369.1L663.1,369.0L663.5,368.9L664.2,368.8L665.0,368.5L666.0,368.2L667.0,367.8L668.1,367.4L669.2,366.9L670.3,366.5L671.4,366.1L672.5,365.8L673.5,365.6L674.6,365.4L675.6,365.2L676.6,365.1L677.7,365.0L678.7,364.9L679.8,364.9L680.8,365.0L681.8,365.2L682.9,365.4L683.9,365.7L685.0,366.0L686.1,366.4L687.1,366.8L688.2,367.2L689.2,367.5L690.2,367.8L691.3,368.2L692.3,368.5L693.4,368.9L694.4,369.2L695.4,369.5L696.5,369.8L697.5,370.0L698.5,370.2L699.6,370.3L700.7,370.5L701.7,370.6L702.8,370.6L703.8,370.7L704.8,370.7L705.8,370.8L706.8,370.8L707.9,370.9L708.9,370.9L710.0,370.9L710.9,370.8L711.8,370.8L712.5,370.8L713.1,370.8"/><path d="M559.5,375.0L560.4,375.0L561.7,375.0L563.2,375.0L564.8,375.0L566.6,375.1L568.3,375.1L570.1,375.2L571.7,375.4L573.3,375.6L574.9,376.0L576.6,376.3L578.2,376.8L579.8,377.1L581.4,377.5L582.8,377.8L584.2,377.9L585.4,377.9L586.6,377.9L587.6,377.8L588.6,377.6L589.6,377.4L590.5,377.1L591.5,376.9L592.5,376.7L593.6,376.5L594.6,376.2L595.7,375.9L596.8,375.5L597.9,375.2L598.9,375.0L599.9,374.7L600.8,374.6L601.6,374.5L602.4,374.5L603.2,374.4L603.9,374.5L604.5,374.5L605.2,374.6L605.9,374.8L606.7,375.0L607.5,375.3L608.3,375.6L609.0,376.0L609.8,376.4L610.7,376.8L611.5,377.3L612.4,377.8L613.3,378.3L614.2,378.8L615.2,379.4L616.1,380.0L617.1,380.6L618.1,381.3L619.2,381.9L620.4,382.6L621.7,383.3L623.2,384.0L624.9,384.8L626.7,385.6L628.5,386.5L630.3,387.3L632.1,388.0L633.7,388.7L635.0,389.2L636.1,389.6L637.0,390.0L637.7,390.2L638.3,390.4L638.9,390.6L639.5,390.7L640.1,390.8L640.8,390.8L641.6,390.8L642.4,390.8L643.2,390.7L644.0,390.5L644.8,390.4L645.7,390.1L646.6,389.9L647.5,389.6L648.5,389.2L649.6,388.8L650.7,388.3L651.8,387.8L652.9,387.3L654.0,386.7L654.9,386.2L655.8,385.8L656.5,385.4L657.0,385.0L657.5,384.7L657.9,384.3L658.3,384.0L658.8,383.6L659.3,383.3L660.0,383.0L660.8,382.7L661.8,382.5L662.8,382.2L663.9,382.0L665.0,381.7L666.1,381.5L667.2,381.2L668.3,380.8L669.4,380.4L670.4,379.9L671.5,379.4L672.6,378.8L673.7,378.3L674.7,377.7L675.7,377.2L676.7,376.7L677.6,376.2L678.4,375.7L679.2,375.1L679.9,374.6L680.7,374.2L681.5,373.8L682.3,373.5L683.3,373.3L684.4,373.3L685.6,373.4L686.9,373.6L688.2,373.8L689.5,374.1L690.8,374.5L692.1,374.8L693.3,375.0L694.4,375.2L695.4,375.4L696.4,375.7L697.4,375.9L698.4,376.1L699.4,376.3L700.5,376.5L701.7,376.7L703.1,376.9L704.6,377.1L706.3,377.2L707.9,377.4L709.5,377.6L711.0,377.7L712.2,377.8L713.1,377.9"/><path d="M559.5,382.1L560.4,382.0L561.7,381.9L563.2,381.8L564.8,381.7L566.6,381.5L568.3,381.4L570.1,381.3L571.7,381.2L573.3,381.2L574.9,381.1L576.6,381.1L578.2,381.0L579.8,381.0L581.4,381.0L582.8,381.1L584.2,381.2L585.5,381.5L586.6,381.8L587.7,382.2L588.8,382.6L589.8,383.1L590.7,383.5L591.6,383.9L592.5,384.2L593.3,384.5L594.1,384.8L594.8,385.1L595.5,385.4L596.2,385.7L596.8,385.8L597.5,385.9L598.3,385.8L599.1,385.6L599.9,385.2L600.7,384.7L601.5,384.2L602.3,383.6L603.2,382.9L604.1,382.3L605.0,381.7L606.0,381.1L607.0,380.5L608.0,379.8L609.0,379.2L610.1,378.5L611.2,377.9L612.2,377.3L613.3,376.7L614.3,376.2L615.3,375.7L616.2,375.1L617.2,374.7L618.2,374.2L619.3,373.9L620.4,373.5L621.7,373.3L623.2,373.2L624.9,373.1L626.7,373.1L628.5,373.2L630.3,373.3L632.1,373.4L633.7,373.5L635.0,373.5L636.1,373.5L637.0,373.5L637.7,373.5L638.3,373.5L638.9,373.4L639.5,373.4L640.1,373.4L640.8,373.3L641.6,373.2L642.3,373.1L643.0,373.0L643.7,372.8L644.5,372.7L645.4,372.6L646.4,372.5L647.5,372.5L648.8,372.5L650.3,372.5L651.9,372.5L653.6,372.5L655.4,372.6L657.0,372.8L658.6,373.0L660.0,373.3L661.3,373.7L662.5,374.3L663.6,374.9L664.7,375.5L665.7,376.2L666.6,377.0L667.5,377.6L668.3,378.3L669.0,378.9L669.6,379.5L670.1,380.1L670.6,380.7L671.0,381.3L671.4,381.9L671.9,382.6L672.5,383.3L673.1,384.1L673.8,384.9L674.5,385.9L675.2,386.8L676.0,387.7L676.7,388.6L677.5,389.3L678.3,390.0L679.1,390.6L679.8,391.1L680.5,391.5L681.2,391.9L682.0,392.2L682.9,392.5L683.9,392.7L685.0,392.9L686.3,393.0L687.6,393.1L689.1,393.0L690.7,393.0L692.3,392.9L694.0,392.7L695.7,392.6L697.5,392.5L699.4,392.4L701.5,392.2L703.8,392.0L706.1,391.9L708.3,391.7L710.2,391.5L711.9,391.4L713.1,391.2"/><path d="M590.0,390.0L590.8,389.9L591.9,389.7L593.3,389.5L594.7,389.3L596.3,389.1L597.8,388.9L599.4,388.8L600.8,388.8L602.2,388.7L603.6,388.8L605.0,388.8L606.4,388.9L607.8,389.1L609.2,389.2L610.5,389.4L611.7,389.6L612.9,389.8L614.2,390.1L615.4,390.5L616.5,390.9L617.6,391.2L618.6,391.5L619.4,391.8L620.0,392.0"/><path d="M662.5,390.0L663.1,389.3L663.8,388.3L664.6,387.1L665.6,385.8L666.6,384.5L667.7,383.3L668.9,382.4L670.0,381.7L671.2,381.4L672.4,381.3L673.7,381.4L675.1,381.6L676.5,381.9L677.9,382.1L679.3,382.4L680.8,382.5L682.2,382.5L683.6,382.5L685.0,382.5L686.5,382.5L688.0,382.5L689.6,382.5L691.4,382.5L693.3,382.5L695.6,382.5L698.2,382.6L701.1,382.6L704.0,382.7L706.8,382.8L709.4,382.8L711.5,382.9L713.1,382.9"/><path d="M559.5,392.9L560.4,392.9L561.6,392.9L563.0,392.9L564.6,392.8L566.3,392.8L568.1,392.7L569.9,392.6L571.7,392.5L573.6,392.3L575.7,392.1L578.0,391.8L580.2,391.5L582.5,391.2L584.6,390.9L586.6,390.6L588.3,390.4L589.7,390.2L591.0,390.0L592.1,389.9L593.0,389.7L593.9,389.6L594.8,389.4L595.7,389.3L596.7,389.2L597.7,389.1L598.8,389.0L599.8,388.8L600.9,388.7L601.9,388.7L602.9,388.6L604.0,388.7L605.0,388.8L606.0,388.9L607.1,389.1L608.1,389.3L609.1,389.5L610.2,389.8L611.2,390.2L612.3,390.7L613.3,391.2L614.3,391.9L615.4,392.8L616.4,393.8L617.5,394.8L618.6,395.8L619.6,396.8L620.7,397.6L621.7,398.3L622.8,398.8L623.9,399.2L625.0,399.5L626.1,399.8L627.1,400.0L628.2,400.1L629.1,400.3L630.0,400.4L630.8,400.5L631.4,400.6L632.0,400.6L632.5,400.6L633.0,400.6L633.6,400.6L634.2,400.6L635.0,400.6L635.9,400.6L636.8,400.6L637.9,400.6L638.9,400.6L640.0,400.6L641.1,400.5L642.2,400.5L643.3,400.4L644.4,400.3L645.4,400.3L646.5,400.2L647.6,400.1L648.7,400.0L649.7,399.8L650.7,399.5L651.7,399.2L652.6,398.8L653.5,398.2L654.3,397.6L655.2,397.0L656.0,396.3L656.7,395.6L657.5,394.9L658.3,394.2L659.1,393.5L659.9,392.7L660.6,391.9L661.4,391.1L662.2,390.3L662.9,389.6L663.6,388.9L664.2,388.3L664.8,387.8L665.3,387.3L665.9,386.8L666.4,386.5L666.8,386.1L667.3,385.8L667.8,385.6L668.3,385.4L668.8,385.3L669.3,385.2L669.8,385.1L670.3,385.2L670.8,385.2L671.3,385.4L671.9,385.5L672.5,385.8L673.1,386.2L673.8,386.6L674.5,387.2L675.2,387.7L676.0,388.4L676.7,389.0L677.5,389.5L678.3,390.0L679.1,390.4L680.1,390.9L681.0,391.3L682.0,391.7L682.9,392.1L683.8,392.4L684.5,392.7L685.0,392.9"/><path d="M559.5,394.2L560.4,394.2L561.6,394.1L563.0,394.1L564.6,394.0L566.3,394.0L568.1,393.9L569.9,393.8L571.7,393.8L573.6,393.6L575.7,393.4L578.0,393.2L580.2,393.0L582.5,392.8L584.6,392.7L586.6,392.7L588.3,392.9L589.8,393.2L591.0,393.6L592.1,394.2L593.1,394.8L594.0,395.4L594.9,396.1L595.8,396.8L596.7,397.5L597.6,398.2L598.4,398.9L599.2,399.7L599.9,400.4L600.7,401.2L601.5,401.9L602.3,402.6L603.3,403.3L604.4,403.9L605.5,404.6L606.8,405.2L608.0,405.7L609.3,406.3L610.7,406.8L612.0,407.2L613.3,407.5L614.7,407.7L616.1,407.8L617.5,407.8L619.0,407.8L620.4,407.7L621.8,407.7L623.1,407.8L624.2,407.9L625.2,408.1L626.0,408.4L626.8,408.8L627.5,409.2L628.1,409.6L628.7,410.0L629.3,410.4L630.0,410.8L630.7,411.2L631.3,411.6L631.9,412.1L632.5,412.5L633.1,413.0L633.7,413.4L634.3,413.8L635.0,414.2L635.7,414.6L636.4,415.0L637.1,415.5L637.8,415.9L638.5,416.3L639.3,416.6L640.0,416.7L640.8,416.7L641.6,416.5L642.4,416.1L643.2,415.7L644.0,415.1L644.8,414.4L645.7,413.8L646.6,413.1L647.5,412.5L648.5,411.9L649.5,411.2L650.5,410.5L651.5,409.8L652.6,409.1L653.7,408.4L654.7,407.9L655.8,407.5L656.8,407.2L657.9,407.1L658.9,407.1L660.0,407.1L661.1,407.1L662.1,407.2L663.2,407.2L664.2,407.1L665.3,407.0L666.3,406.9L667.4,406.9L668.5,406.8L669.5,406.7L670.5,406.5L671.5,406.2L672.5,405.8L673.4,405.3L674.3,404.6L675.2,403.9L676.0,403.1L676.8,402.3L677.6,401.4L678.4,400.7L679.2,400.0L680.0,399.4L680.7,398.8L681.3,398.2L682.0,397.7L682.7,397.2L683.4,396.7L684.2,396.2L685.0,395.8L685.9,395.4L686.9,395.0L687.9,394.6L689.0,394.3L690.1,394.0L691.2,393.7L692.2,393.5L693.3,393.3L694.3,393.1L695.3,393.0L696.3,393.0L697.3,392.9L698.3,392.9L699.4,392.9L700.5,392.9L701.7,392.9L703.1,392.9L704.6,392.9L706.3,392.9L707.9,392.9L709.5,392.9L711.0,392.9L712.2,392.9L713.1,392.9"/><path d="M559.5,400.0L560.1,399.8L560.9,399.5L561.9,399.1L563.0,398.7L564.1,398.3L565.3,397.9L566.4,397.7L567.5,397.5L568.5,397.5L569.5,397.5L570.4,397.6L571.4,397.8L572.4,398.0L573.4,398.2L574.6,398.5L575.8,398.8L577.1,399.1L578.5,399.5L580.0,400.0L581.5,400.5L583.1,401.0L584.8,401.4L586.5,401.8L588.3,402.1L590.2,402.3L592.2,402.3L594.3,402.3L596.4,402.3L598.6,402.2L600.7,402.2L602.9,402.1L605.0,402.1L607.1,402.1L609.3,402.1L611.4,402.1L613.6,402.1L615.7,402.1L617.8,402.1L619.8,402.1L621.7,402.1L623.5,402.1L625.3,402.0L627.0,401.9L628.6,401.9L630.2,401.8L631.8,401.7L633.4,401.7L635.0,401.7L636.6,401.7L638.2,401.8L639.7,401.9L641.3,402.0L642.8,402.1L644.4,402.3L645.9,402.4L647.5,402.5L649.1,402.6L650.6,402.7L652.2,402.8L653.8,402.9L655.3,403.0L656.9,403.1L658.4,403.2L660.0,403.3L661.6,403.4L663.2,403.5L664.9,403.6L666.5,403.7L668.1,403.7L669.7,403.8L671.1,403.8L672.5,403.8L673.7,403.7L674.9,403.6L675.9,403.5L676.9,403.4L677.9,403.3L678.8,403.1L679.8,402.8L680.8,402.5L681.8,402.1L682.9,401.6L683.9,401.1L685.0,400.5L686.1,399.9L687.1,399.4L688.2,398.8L689.2,398.3L690.2,397.8L691.3,397.3L692.3,396.8L693.4,396.3L694.4,395.8L695.4,395.4L696.5,395.1L697.5,395.0L698.5,395.0L699.6,395.1L700.7,395.4L701.7,395.7L702.8,396.0L703.8,396.4L704.8,396.8L705.8,397.1L706.8,397.4L707.9,397.8L708.9,398.3L710.0,398.7L710.9,399.1L711.8,399.5L712.5,399.8L713.1,400.0"/><path d="M559.5,402.9L560.1,403.0L560.8,403.0L561.7,403.1L562.7,403.1L563.8,403.3L565.0,403.5L566.2,403.8L567.5,404.2L568.9,404.8L570.4,405.5L572.0,406.3L573.7,407.2L575.4,408.1L577.1,409.1L578.6,410.0L580.0,410.8L581.2,411.6L582.4,412.4L583.5,413.1L584.5,413.9L585.5,414.7L586.4,415.4L587.4,416.1L588.3,416.7L589.2,417.3L590.0,417.9L590.8,418.4L591.5,419.0L592.3,419.5L593.1,419.9L594.0,420.4L595.0,420.8L596.1,421.2L597.2,421.6L598.4,421.9L599.6,422.2L600.9,422.5L602.2,422.8L603.6,423.0L605.0,423.3L606.5,423.6L608.0,423.8L609.7,424.0L611.4,424.3L613.0,424.5L614.6,424.7L616.1,424.8L617.5,425.0L618.7,425.2L619.8,425.3L620.9,425.5L621.9,425.7L622.8,425.8L623.8,425.9L624.7,425.9L625.8,425.8L626.9,425.6L628.1,425.4L629.3,425.1L630.6,424.8L631.8,424.4L632.9,424.0L634.0,423.6L635.0,423.3L635.9,423.0L636.7,422.6L637.4,422.2L638.1,421.8L638.7,421.4L639.4,421.1L640.1,420.9L640.8,420.8L641.6,420.8L642.4,421.0L643.2,421.2L644.0,421.5L644.8,421.9L645.7,422.2L646.6,422.6L647.5,422.9L648.5,423.2L649.5,423.6L650.5,424.0L651.5,424.4L652.6,424.8L653.7,425.2L654.7,425.5L655.8,425.8L656.9,426.0L657.9,426.3L659.0,426.5L660.1,426.7L661.2,426.9L662.2,426.9L663.2,426.9L664.2,426.7L665.1,426.4L665.9,425.9L666.7,425.4L667.5,424.7L668.3,424.0L669.1,423.3L669.9,422.5L670.8,421.7L671.8,420.9L672.7,419.9L673.7,418.9L674.8,417.9L675.9,416.8L676.9,415.8L678.1,415.0L679.2,414.2L680.4,413.6L681.5,413.1L682.7,412.7L683.9,412.3L685.2,411.9L686.5,411.6L687.8,411.2L689.2,410.8L690.7,410.3L692.2,409.8L693.8,409.2L695.4,408.7L697.0,408.2L698.6,407.6L700.2,407.1L701.7,406.7L703.3,406.3L704.9,405.9L706.6,405.5L708.2,405.2L709.7,404.9L711.1,404.6L712.2,404.4L713.1,404.2"/><path d="M559.5,403.8L560.1,403.9L560.8,404.0L561.7,404.2L562.7,404.4L563.8,404.6L565.0,404.9L566.2,405.3L567.5,405.8L568.9,406.4L570.4,407.2L572.0,408.0L573.7,408.9L575.4,409.8L577.1,410.8L578.6,411.7L580.0,412.5L581.2,413.3L582.4,414.1L583.4,414.8L584.4,415.6L585.4,416.3L586.3,417.0L587.3,417.7L588.3,418.3L589.3,418.9L590.4,419.4L591.4,420.0L592.5,420.5L593.6,420.9L594.6,421.4L595.7,421.9L596.7,422.5L597.7,423.1L598.8,423.7L599.8,424.4L600.9,425.0L601.9,425.7L602.9,426.3L604.0,426.9L605.0,427.5L606.0,428.0L607.1,428.6L608.1,429.1L609.1,429.6L610.2,430.1L611.2,430.5L612.3,430.9L613.3,431.2L614.3,431.6L615.3,431.8L616.2,432.1L617.2,432.3L618.2,432.4L619.3,432.5L620.4,432.5L621.7,432.5L623.1,432.3L624.7,432.1L626.4,431.7L628.1,431.3L629.9,430.9L631.6,430.5L633.3,430.2L635.0,430.0L636.6,429.9L638.2,429.8L639.7,429.8L641.3,429.8L642.8,429.8L644.4,429.9L645.9,429.9L647.5,430.0L649.1,430.1L650.7,430.2L652.4,430.3L654.0,430.5L655.6,430.6L657.2,430.7L658.6,430.8L660.0,430.8L661.2,430.8L662.4,430.8L663.4,430.7L664.4,430.7L665.4,430.6L666.3,430.4L667.3,430.2L668.3,430.0L669.3,429.7L670.4,429.4L671.4,429.0L672.5,428.6L673.6,428.1L674.6,427.6L675.7,427.2L676.7,426.7L677.7,426.2L678.8,425.8L679.8,425.3L680.9,424.8L681.9,424.2L682.9,423.7L684.0,423.1L685.0,422.5L686.0,421.9L687.1,421.2L688.1,420.6L689.1,419.9L690.2,419.2L691.2,418.4L692.3,417.6L693.3,416.7L694.3,415.7L695.3,414.6L696.3,413.4L697.3,412.2L698.3,410.9L699.4,409.7L700.5,408.6L701.7,407.5L703.1,406.5L704.6,405.5L706.3,404.5L707.9,403.6L709.5,402.7L711.0,401.9L712.2,401.3L713.1,400.8"/><path d="M559.5,419.2L560.4,419.3L561.6,419.4L563.0,419.4L564.6,419.6L566.3,419.7L568.1,419.9L569.9,420.1L571.7,420.4L573.6,420.8L575.7,421.2L578.0,421.8L580.2,422.3L582.5,422.9L584.6,423.4L586.6,423.9L588.3,424.2L589.7,424.4L591.0,424.6L592.1,424.7L593.0,424.7L593.9,424.8L594.8,424.8L595.7,424.9L596.7,425.0L597.7,425.2L598.8,425.3L599.8,425.5L600.9,425.7L601.9,425.9L602.9,426.1L604.0,426.4L605.0,426.7L606.0,427.0L607.1,427.4L608.1,427.8L609.1,428.2L610.2,428.7L611.2,429.1L612.3,429.6L613.3,430.0L614.3,430.4L615.3,430.9L616.2,431.3L617.2,431.8L618.2,432.2L619.3,432.6L620.4,433.0L621.7,433.3L623.1,433.6L624.7,433.9L626.4,434.1L628.1,434.4L629.9,434.6L631.6,434.7L633.3,434.9L635.0,435.0L636.6,435.1L638.2,435.2L639.7,435.2L641.3,435.3L642.8,435.3L644.4,435.2L645.9,435.1L647.5,435.0L649.1,434.8L650.6,434.6L652.2,434.3L653.8,434.0L655.3,433.6L656.9,433.2L658.4,432.9L660.0,432.5L661.6,432.1L663.2,431.7L664.9,431.3L666.5,430.9L668.1,430.4L669.7,430.0L671.1,429.6L672.5,429.2L673.7,428.8L674.9,428.5L675.9,428.1L676.9,427.8L677.9,427.5L678.8,427.2L679.8,426.9L680.8,426.7L681.8,426.6L682.9,426.5L683.9,426.5L685.0,426.4L686.1,426.4L687.1,426.4L688.2,426.4L689.2,426.2L690.2,426.1L691.3,425.9L692.3,425.7L693.4,425.4L694.4,425.1L695.4,424.8L696.5,424.5L697.5,424.2L698.5,423.8L699.6,423.4L700.7,422.9L701.7,422.4L702.8,421.9L703.8,421.5L704.8,421.1L705.8,420.8L706.8,420.6L707.9,420.4L708.9,420.3L710.0,420.2L710.9,420.1L711.8,420.1L712.5,420.0L713.1,420.0"/><path d="M559.5,433.3L560.8,433.4L562.6,433.6L564.8,433.8L567.1,434.0L569.5,434.1L571.9,434.3L574.0,434.3L575.8,434.2L577.2,434.0L578.5,433.7L579.6,433.3L580.6,432.9L581.5,432.4L582.4,431.9L583.3,431.4L584.2,430.8L585.1,430.2L586.0,429.5L586.8,428.7L587.7,427.9L588.5,427.1L589.2,426.3L590.0,425.6L590.8,425.0L591.6,424.4L592.3,423.9L593.0,423.4L593.6,423.0L594.3,422.6L595.1,422.2L595.9,421.9L596.7,421.7L597.6,421.5L598.6,421.4L599.6,421.3L600.7,421.3L601.8,421.4L602.9,421.4L603.9,421.6L605.0,421.7L606.0,421.9L607.1,422.2L608.1,422.5L609.1,422.9L610.2,423.2L611.2,423.6L612.3,423.9L613.3,424.2L614.3,424.5L615.3,424.8L616.2,425.1L617.2,425.4L618.2,425.6L619.3,425.8L620.4,425.8L621.7,425.8L623.2,425.6L625.0,425.2L626.9,424.8L628.9,424.2L630.8,423.7L632.5,423.2L633.9,422.8L635.0,422.5"/><path d="M559.5,438.3L560.4,438.2L561.7,438.1L563.2,437.9L564.8,437.8L566.6,437.6L568.3,437.3L570.1,437.0L571.7,436.7L573.3,436.3L574.9,435.7L576.6,435.1L578.2,434.5L579.8,433.9L581.4,433.3L582.8,432.8L584.2,432.5L585.4,432.3L586.6,432.1L587.6,432.0L588.6,432.0L589.6,432.0L590.5,432.1L591.5,432.3L592.5,432.5L593.5,432.8L594.6,433.2L595.6,433.7L596.6,434.2L597.7,434.8L598.7,435.4L599.8,436.0L600.8,436.7L601.9,437.4L603.0,438.3L604.1,439.2L605.3,440.2L606.4,441.1L607.4,441.9L608.4,442.7L609.2,443.3L609.9,443.7L610.5,444.0L610.9,444.2L611.4,444.4L611.8,444.5L612.2,444.6L612.7,444.8L613.3,445.0L614.1,445.3L614.9,445.7L615.9,446.2L616.9,446.6L617.9,447.0L618.7,447.4L619.5,447.8L620.0,448.0"/><path d="M592.5,426.7L593.1,427.1L594.0,427.6L595.0,428.1L596.1,428.8L597.3,429.5L598.5,430.2L599.7,431.0L600.8,431.7L601.8,432.5L602.9,433.3L603.9,434.1L605.0,435.0L606.1,435.9L607.1,436.7L608.2,437.5L609.2,438.3L610.3,439.0L611.4,439.7L612.5,440.4L613.6,441.1L614.7,441.7L615.7,442.3L616.7,442.8L617.5,443.3L618.2,443.7L618.8,443.9L619.4,444.1L619.9,444.3L620.3,444.4L620.7,444.6L621.2,444.7L621.7,445.0L622.3,445.3L622.9,445.7L623.5,446.2L624.1,446.6L624.7,447.0L625.2,447.4L625.7,447.8L626.0,448.0"/><path d="M569.2,445.0L570.1,444.7L571.2,444.2L572.6,443.6L574.1,443.0L575.7,442.3L577.2,441.7L578.7,441.2L580.0,440.8L581.2,440.5L582.2,440.3L583.3,440.1L584.3,440.0L585.3,439.9L586.3,439.9L587.3,439.9L588.3,440.0L589.3,440.2L590.4,440.4L591.4,440.7L592.5,441.0L593.6,441.4L594.6,441.8L595.7,442.2L596.7,442.5L597.8,442.8L599.0,443.2L600.2,443.5L601.4,443.9L602.5,444.2L603.5,444.6L604.4,444.8L605.0,445.0"/><path d="M655.8,445.0L656.8,444.5L658.0,443.8L659.6,443.0L661.3,442.1L663.1,441.1L664.9,440.1L666.7,439.2L668.3,438.3L669.9,437.4L671.5,436.5L673.2,435.6L674.8,434.7L676.4,433.9L678.0,433.1L679.4,432.3L680.8,431.7L682.0,431.2L683.2,430.7L684.3,430.3L685.3,429.9L686.2,429.7L687.2,429.4L688.2,429.3L689.2,429.2L690.2,429.2L691.3,429.3L692.3,429.5L693.4,429.7L694.4,430.0L695.4,430.2L696.5,430.5L697.5,430.8L698.5,431.1L699.6,431.4L700.7,431.7L701.7,432.1L702.8,432.4L703.8,432.8L704.8,433.1L705.8,433.3L706.8,433.5L707.9,433.7L708.9,433.8L710.0,433.9L710.9,434.0L711.8,434.1L712.5,434.1L713.1,434.2"/><path d="M680.0,445.0L680.4,444.3L680.9,443.4L681.5,442.4L682.2,441.2L682.9,440.0L683.6,438.8L684.3,437.7L685.0,436.7L685.6,435.8L686.2,435.0L686.9,434.1L687.5,433.3L688.1,432.6L688.8,432.0L689.4,431.6L690.0,431.2L690.6,431.1L691.2,431.2L691.9,431.4L692.5,431.7L693.1,432.1L693.8,432.5L694.4,432.9L695.0,433.3L695.6,433.7L696.2,434.1L696.8,434.6L697.4,435.1L698.1,435.6L698.7,436.0L699.3,436.4L700.0,436.7L700.7,436.9L701.4,437.2L702.1,437.3L702.8,437.5L703.5,437.6L704.2,437.6L705.0,437.6L705.8,437.5L706.7,437.3L707.7,437.0L708.7,436.7L709.8,436.3L710.8,435.9L711.8,435.5L712.5,435.2L713.1,435.0"/><path d="M670.8,445.0L671.9,444.9L673.3,444.6L675.0,444.4L676.9,444.1L678.9,443.8L680.9,443.6L683.0,443.4L685.0,443.3L687.1,443.3L689.4,443.4L691.8,443.5L694.2,443.6L696.6,443.8L698.6,444.0L700.4,444.1L701.7,444.2"/><path d="M559.5,449.2L560.1,448.9L560.9,448.6L561.9,448.2L563.0,447.7L564.1,447.2L565.3,446.8L566.4,446.3L567.5,445.8L568.5,445.3L569.6,444.8L570.6,444.3L571.6,443.8L572.7,443.3L573.7,442.9L574.8,442.4L575.8,442.1L576.8,441.8L577.9,441.5L578.9,441.3L580.0,441.1L581.1,441.0L582.1,440.9L583.2,440.8L584.2,440.8L585.2,440.9L586.3,441.0L587.3,441.1L588.4,441.4L589.4,441.6L590.4,441.9L591.5,442.2L592.5,442.5L593.5,442.8L594.6,443.2L595.6,443.6L596.6,444.0L597.7,444.5L598.7,444.9L599.8,445.4L600.8,445.8L601.8,446.2L602.9,446.7L603.9,447.1L605.0,447.6L606.1,448.1L607.1,448.5L608.2,448.9L609.2,449.2L610.2,449.5L611.1,449.8L611.9,450.0L612.8,450.2L613.7,450.4L614.8,450.5L616.0,450.7L617.5,450.8L619.3,450.9L621.3,451.0L623.6,451.1L626.0,451.2L628.4,451.2L630.8,451.2L633.0,451.2L635.0,451.2L636.8,451.1L638.5,451.0L640.1,450.9L641.6,450.7L643.0,450.6L644.5,450.4L646.0,450.2L647.5,450.0L649.1,449.8L650.6,449.6L652.2,449.5L653.8,449.3L655.3,449.1L656.9,448.8L658.4,448.6L660.0,448.3L661.6,448.0L663.2,447.6L664.9,447.1L666.5,446.6L668.1,446.2L669.7,445.8L671.1,445.3L672.5,445.0L673.7,444.7L674.8,444.4L675.7,444.2L676.6,443.9L677.6,443.7L678.5,443.6L679.6,443.4L680.8,443.3L682.2,443.2L683.7,443.1L685.4,443.1L687.0,443.1L688.7,443.1L690.4,443.1L691.9,443.2L693.3,443.3L694.5,443.4L695.6,443.6L696.6,443.7L697.6,443.9L698.5,444.2L699.5,444.4L700.5,444.7L701.7,445.0L703.1,445.4L704.6,445.8L706.3,446.3L707.9,446.8L709.5,447.2L711.0,447.7L712.2,448.0L713.1,448.3"/><path d="M596.7,440.0L597.3,440.4L598.2,440.9L599.2,441.5L600.3,442.2L601.5,442.9L602.7,443.6L603.9,444.3L605.0,445.0L606.0,445.6L607.0,446.3L607.9,447.0L608.9,447.7L609.9,448.3L610.9,448.9L612.1,449.5L613.3,450.0L614.7,450.4L616.2,450.8L617.8,451.2L619.5,451.5L621.2,451.8L622.8,452.1L624.4,452.3L625.8,452.5L627.1,452.7L628.4,452.8L629.6,453.0L630.8,453.0L631.9,453.1L633.0,453.2L634.0,453.2L635.0,453.3L635.9,453.4L636.8,453.4L637.7,453.4L638.5,453.5L639.2,453.5L639.8,453.5L640.4,453.5L640.8,453.5"/><path d="M613.3,440.0L613.9,440.3L614.7,440.6L615.6,441.0L616.7,441.5L617.8,442.0L619.1,442.5L620.4,442.9L621.7,443.3L623.1,443.7L624.7,444.0L626.4,444.4L628.1,444.7L629.9,445.0L631.6,445.3L633.3,445.6L635.0,445.8L636.6,446.0L638.2,446.1L639.7,446.2L641.3,446.3L642.8,446.4L644.4,446.4L645.9,446.3L647.5,446.2L649.1,446.1L650.7,446.0L652.4,445.8L654.0,445.5L655.6,445.2L657.2,444.9L658.6,444.6L660.0,444.2L661.3,443.7L662.6,443.2L663.8,442.6L664.9,442.0L666.0,441.4L666.9,440.8L667.7,440.3L668.3,440.0"/><path d="M559.5,456.7L560.1,456.6L560.9,456.5L561.9,456.5L563.0,456.3L564.1,456.2L565.3,456.0L566.4,455.7L567.5,455.4L568.5,455.0L569.6,454.5L570.6,453.9L571.6,453.2L572.7,452.6L573.7,451.9L574.8,451.3L575.8,450.8L576.8,450.3L577.9,449.8L578.9,449.4L580.0,448.9L581.1,448.5L582.1,448.2L583.2,447.8L584.2,447.5L585.3,447.2L586.3,447.0L587.4,446.8L588.5,446.6L589.6,446.5L590.6,446.4L591.6,446.3L592.5,446.2L593.4,446.2L594.1,446.1L594.9,446.1L595.6,446.0L596.3,446.1L597.0,446.2L597.6,446.4L598.3,446.7L599.0,447.2L599.6,447.8L600.3,448.5L600.9,449.3L601.5,450.1L602.1,451.0L602.7,451.8L603.3,452.5L603.9,453.2L604.4,453.8L604.9,454.4L605.3,455.0L605.8,455.6L606.4,456.2L606.9,456.8L607.5,457.5L608.1,458.2L608.8,458.9L609.4,459.6L610.1,460.3L610.9,461.0L611.6,461.8L612.4,462.5L613.3,463.3L614.2,464.1L615.2,465.0L616.3,465.9L617.3,466.8L618.4,467.7L619.5,468.5L620.6,469.3L621.7,470.0L622.8,470.6L623.9,471.1L625.0,471.6L626.1,472.0L627.1,472.4L628.2,472.7L629.1,473.0L630.0,473.3L630.8,473.6L631.4,473.8L632.0,474.0L632.5,474.1L633.0,474.3L633.6,474.4L634.2,474.5L635.0,474.6L635.9,474.7L636.8,474.8L637.9,475.0L638.9,475.1L640.0,475.2L641.1,475.2L642.2,475.1L643.3,475.0L644.3,474.8L645.4,474.5L646.4,474.2L647.5,473.8L648.6,473.3L649.6,472.9L650.7,472.3L651.7,471.7L652.7,471.0L653.8,470.3L654.8,469.6L655.9,468.8L656.9,467.9L657.9,467.0L659.0,466.0L660.0,465.0L661.0,463.9L662.1,462.7L663.1,461.4L664.1,460.1L665.2,458.7L666.2,457.4L667.3,456.2L668.3,455.0L669.4,453.9L670.5,452.9L671.6,452.0L672.7,451.1L673.8,450.2L674.8,449.3L675.8,448.4L676.7,447.5L677.5,446.6L678.2,445.7L678.9,444.8L679.5,443.9L680.0,443.0L680.6,442.1L681.1,441.1L681.7,440.0L682.3,438.9L682.8,437.6L683.4,436.3L683.9,435.0L684.4,433.7L685.0,432.4L685.5,431.2L686.0,430.0L686.5,428.9L687.0,427.8L687.6,426.7L688.1,425.7L688.6,424.7L689.1,423.8L689.5,422.9L690.0,422.0L690.5,421.2L691.0,420.4L691.4,419.6L691.9,418.9L692.3,418.2L692.7,417.6L693.1,417.1L693.3,416.7"/><path d="M559.5,457.5L560.4,457.4L561.6,457.3L563.0,457.1L564.6,456.9L566.3,456.7L568.1,456.5L569.9,456.4L571.7,456.2L573.6,456.1L575.6,456.0L577.8,456.0L580.0,455.9L582.2,455.8L584.3,455.8L586.4,455.8L588.3,455.8L590.1,455.9L591.8,456.0L593.5,456.1L595.1,456.3L596.6,456.5L598.1,456.6L599.5,456.7L600.8,456.7L602.1,456.6L603.3,456.5L604.4,456.3L605.5,456.1L606.5,455.9L607.5,455.7L608.4,455.5L609.2,455.4L609.9,455.3L610.5,455.3L611.0,455.3L611.5,455.3L611.9,455.3L612.4,455.4L612.8,455.6L613.3,455.8L613.8,456.1L614.2,456.5L614.7,457.0L615.1,457.5L615.6,458.0L616.2,458.6L616.8,459.3L617.5,460.0L618.3,460.8L619.3,461.7L620.3,462.6L621.3,463.6L622.4,464.6L623.6,465.6L624.7,466.6L625.8,467.5L626.9,468.4L628.1,469.3L629.2,470.3L630.4,471.2L631.6,472.0L632.7,472.8L633.9,473.6L635.0,474.2L636.1,474.8L637.1,475.4L638.0,475.9L639.0,476.4L640.0,476.7L641.0,476.9L642.1,476.9L643.3,476.7L644.6,476.2L646.1,475.5L647.6,474.6L649.1,473.5L650.7,472.4L652.2,471.2L653.7,470.1L655.0,469.0L656.2,468.0L657.4,466.9L658.5,465.9L659.5,464.8L660.5,463.8L661.5,462.7L662.4,461.8L663.3,460.8L664.2,459.9L665.0,459.0L665.8,458.2L666.5,457.4L667.2,456.6L667.9,455.8L668.6,455.0L669.2,454.2L669.8,453.4L670.3,452.6L670.9,451.7L671.4,450.9L671.8,450.1L672.3,449.2L672.8,448.4L673.3,447.5L673.8,446.6L674.3,445.7L674.9,444.8L675.4,443.8L675.9,442.9L676.4,441.9L677.0,441.0L677.5,440.0L678.0,439.0L678.6,438.0L679.1,437.0L679.7,436.0L680.3,434.9L680.8,433.9L681.4,433.0L682.0,432.0L682.6,431.1L683.2,430.1L683.9,429.2L684.5,428.3L685.2,427.4L685.8,426.6L686.4,425.8L687.0,425.0L687.6,424.2L688.2,423.5L688.7,422.8L689.3,422.1L689.8,421.4L690.3,420.9L690.7,420.4L691.0,420.0"/><path d="M559.5,459.2L560.4,459.4L561.7,459.6L563.2,459.8L564.8,460.1L566.6,460.4L568.3,460.7L570.1,461.0L571.7,461.2L573.3,461.5L574.9,461.8L576.6,462.2L578.2,462.5L579.8,462.8L581.4,463.0L582.8,463.2L584.2,463.3L585.4,463.3L586.6,463.2L587.6,463.0L588.6,462.8L589.6,462.6L590.5,462.3L591.5,462.0L592.5,461.7L593.5,461.4L594.6,461.0L595.6,460.6L596.6,460.2L597.7,459.8L598.7,459.4L599.8,459.0L600.8,458.8L601.8,458.5L602.9,458.3L603.9,458.1L605.0,457.9L606.1,457.8L607.1,457.7L608.2,457.8L609.2,457.9L610.2,458.1L611.3,458.4L612.3,458.8L613.4,459.2L614.4,459.7L615.4,460.3L616.5,461.0L617.5,461.7L618.5,462.5L619.6,463.5L620.6,464.6L621.6,465.7L622.6,466.8L623.7,467.9L624.7,469.0L625.8,470.0L626.9,470.9L628.1,471.9L629.3,472.8L630.6,473.8L631.8,474.6L632.9,475.4L634.0,476.1L635.0,476.7L635.9,477.2L636.8,477.5L637.7,477.8L638.5,478.0L639.2,478.2L639.8,478.3L640.4,478.4L640.8,478.5"/><path d="M559.5,465.4L560.4,465.5L561.7,465.5L563.2,465.6L564.8,465.7L566.6,465.9L568.3,466.0L570.1,466.1L571.7,466.2L573.3,466.4L574.9,466.6L576.6,466.8L578.2,467.0L579.8,467.2L581.4,467.4L582.8,467.5L584.2,467.5L585.4,467.4L586.6,467.3L587.6,467.1L588.6,466.8L589.6,466.5L590.5,466.3L591.5,466.0L592.5,465.8L593.6,465.6L594.6,465.4L595.7,465.2L596.8,465.1L597.9,464.9L598.9,464.8L599.9,464.7L600.8,464.6L601.6,464.5L602.4,464.5L603.2,464.4L603.9,464.4L604.5,464.4L605.2,464.5L605.9,464.7L606.7,465.0L607.5,465.5L608.3,466.1L609.1,466.8L609.9,467.6L610.8,468.4L611.6,469.2L612.5,470.0L613.3,470.8L614.1,471.5L615.0,472.3L615.8,473.1L616.7,473.9L617.5,474.6L618.4,475.3L619.2,476.0L620.0,476.7L620.7,477.3L621.4,477.9L622.1,478.5L622.7,479.0L623.4,479.5L624.1,480.0L624.9,480.4L625.8,480.8L626.8,481.1L627.8,481.4L628.9,481.7L630.0,481.9L631.2,482.1L632.4,482.3L633.7,482.4L635.0,482.5L636.4,482.6L637.9,482.6L639.4,482.5L641.0,482.5L642.7,482.5L644.3,482.4L645.9,482.4L647.5,482.5L649.1,482.6L650.6,482.8L652.2,483.1L653.8,483.4L655.3,483.6L656.9,483.9L658.4,484.1L660.0,484.2L661.6,484.3L663.1,484.4L664.7,484.4L666.2,484.4L667.8,484.4L669.4,484.4L670.9,484.3L672.5,484.2L674.1,484.1L675.7,484.0L677.4,483.8L679.0,483.6L680.6,483.4L682.2,483.1L683.6,482.8L685.0,482.5L686.2,482.1L687.4,481.6L688.4,481.1L689.4,480.5L690.4,479.9L691.3,479.3L692.3,478.8L693.3,478.3L694.3,477.8L695.3,477.4L696.3,476.9L697.3,476.4L698.3,476.0L699.4,475.6L700.5,475.3L701.7,475.0L703.1,474.8L704.6,474.6L706.3,474.5L707.9,474.4L709.5,474.3L711.0,474.3L712.2,474.2L713.1,474.2"/><path d="M559.5,471.7L560.4,471.7L561.7,471.7L563.2,471.7L564.8,471.7L566.6,471.7L568.3,471.7L570.1,471.7L571.7,471.7L573.2,471.7L574.8,471.6L576.4,471.5L577.9,471.4L579.5,471.3L581.1,471.3L582.6,471.2L584.2,471.2L585.8,471.3L587.3,471.4L588.9,471.5L590.5,471.6L592.0,471.8L593.6,472.0L595.1,472.2L596.7,472.5L598.3,472.8L599.9,473.2L601.6,473.6L603.2,474.1L604.8,474.5L606.4,475.0L607.8,475.4L609.2,475.8L610.4,476.2L611.6,476.5L612.6,476.8L613.6,477.1L614.6,477.4L615.5,477.7L616.5,478.0L617.5,478.3L618.5,478.6L619.6,479.0L620.6,479.4L621.6,479.7L622.6,480.1L623.7,480.4L624.7,480.6L625.8,480.8L626.9,480.9L628.0,480.9L629.0,480.9L630.1,480.8L631.3,480.7L632.4,480.6L633.7,480.5L635.0,480.5L636.4,480.5L637.9,480.5L639.4,480.5L641.0,480.6L642.7,480.6L644.3,480.7L645.9,480.7L647.5,480.8L649.1,480.9L650.7,481.0L652.4,481.2L654.0,481.4L655.6,481.5L657.2,481.6L658.6,481.7L660.0,481.7L661.2,481.6L662.4,481.5L663.4,481.4L664.4,481.2L665.4,481.0L666.3,480.7L667.3,480.4L668.3,480.0L669.3,479.5L670.4,478.9L671.4,478.3L672.5,477.6L673.6,476.9L674.6,476.2L675.7,475.6L676.7,475.0L677.7,474.5L678.8,474.0L679.8,473.6L680.9,473.2L681.9,472.8L682.9,472.4L684.0,472.1L685.0,471.7L686.0,471.3L687.1,471.0L688.1,470.6L689.1,470.3L690.2,470.0L691.2,469.7L692.3,469.4L693.3,469.2L694.3,469.0L695.3,468.8L696.3,468.7L697.3,468.6L698.3,468.5L699.4,468.4L700.5,468.4L701.7,468.3L703.1,468.3L704.6,468.2L706.3,468.2L707.9,468.2L709.5,468.3L711.0,468.3L712.2,468.3L713.1,468.3"/><path d="M559.5,473.3L560.4,473.4L561.6,473.4L563.0,473.5L564.6,473.6L566.3,473.8L568.1,473.9L569.9,474.0L571.7,474.2L573.6,474.4L575.6,474.5L577.8,474.7L580.0,474.9L582.2,475.1L584.3,475.3L586.4,475.6L588.3,475.8L590.1,476.1L591.7,476.3L593.3,476.6L594.8,476.9L596.3,477.3L597.8,477.6L599.3,477.9L600.8,478.3L602.4,478.7L603.9,479.1L605.5,479.6L607.0,480.1L608.6,480.6L610.2,481.0L611.7,481.4L613.3,481.7L614.9,481.9L616.5,482.1L618.1,482.2L619.8,482.3L621.4,482.3L622.9,482.4L624.4,482.4L625.8,482.5L627.1,482.6L628.3,482.7L629.3,482.7L630.4,482.8L631.5,482.8L632.5,482.9L633.7,482.9L635.0,483.0L636.4,483.0L637.9,483.1L639.4,483.1L641.0,483.2L642.7,483.2L644.3,483.3L645.9,483.3L647.5,483.3L649.1,483.3L650.6,483.4L652.2,483.4L653.8,483.4L655.3,483.4L656.9,483.4L658.4,483.4L660.0,483.3L661.6,483.2L663.1,483.1L664.7,482.9L666.2,482.7L667.8,482.5L669.4,482.3L670.9,482.0L672.5,481.7L674.1,481.3L675.6,480.9L677.2,480.5L678.8,480.0L680.3,479.5L681.9,479.1L683.4,478.7L685.0,478.3L686.5,478.0L688.1,477.7L689.6,477.5L691.1,477.3L692.6,477.1L694.2,476.9L695.8,476.8L697.5,476.7L699.4,476.6L701.5,476.6L703.8,476.6L706.1,476.6L708.3,476.6L710.2,476.7L711.9,476.7L713.1,476.7"/><path d="M559.5,479.2L560.4,479.3L561.7,479.3L563.2,479.4L564.8,479.5L566.6,479.6L568.3,479.7L570.1,479.9L571.7,480.0L573.2,480.2L574.8,480.3L576.4,480.5L577.9,480.7L579.5,481.0L581.1,481.2L582.6,481.4L584.2,481.7L585.8,482.0L587.4,482.3L589.1,482.6L590.7,483.0L592.3,483.3L593.9,483.6L595.3,483.9L596.7,484.2L597.9,484.5L599.1,484.7L600.1,484.9L601.1,485.1L602.1,485.3L603.0,485.5L604.0,485.7L605.0,485.8L606.0,485.9L607.1,486.0L608.1,486.1L609.1,486.2L610.2,486.2L611.2,486.3L612.3,486.3L613.3,486.2L614.3,486.2L615.4,486.2L616.4,486.1L617.5,486.0L618.6,485.9L619.6,485.7L620.7,485.6L621.7,485.4L622.7,485.2L623.7,484.9L624.7,484.6L625.7,484.3L626.7,484.0L627.8,483.7L628.8,483.5L630.0,483.3L631.3,483.2L632.8,483.1L634.3,483.0L635.9,483.0L637.4,482.9L638.8,482.9L639.9,482.9L640.8,482.9"/><path d="M559.5,482.9L560.4,483.1L561.7,483.4L563.2,483.7L564.8,484.0L566.6,484.4L568.3,484.7L570.1,485.1L571.7,485.4L573.2,485.7L574.8,486.0L576.4,486.2L577.9,486.5L579.5,486.8L581.1,487.0L582.6,487.3L584.2,487.5L585.8,487.7L587.3,488.0L588.9,488.2L590.5,488.5L592.0,488.7L593.6,488.9L595.1,489.1L596.7,489.2L598.3,489.3L599.9,489.3L601.6,489.4L603.2,489.4L604.8,489.3L606.4,489.3L607.8,489.3L609.2,489.2L610.4,489.1L611.6,488.9L612.6,488.7L613.6,488.4L614.6,488.2L615.5,488.1L616.5,488.1L617.5,488.3L618.5,488.6L619.6,489.1L620.6,489.7L621.6,490.4L622.6,491.2L623.7,491.9L624.7,492.6L625.8,493.3L626.9,493.9L628.1,494.6L629.3,495.3L630.6,496.0L631.8,496.7L632.9,497.3L634.0,497.8L635.0,498.3L635.9,498.7L636.8,499.0L637.7,499.3L638.5,499.5L639.2,499.6L639.8,499.8L640.4,499.9L640.8,500.0"/><path d="M609.2,480.0L609.7,480.3L610.3,480.7L611.0,481.2L611.8,481.7L612.6,482.3L613.5,482.9L614.3,483.6L615.0,484.2L615.7,484.8L616.3,485.5L617.0,486.2L617.7,486.9L618.3,487.7L618.9,488.4L619.5,489.2L620.0,490.0L620.5,490.8L621.0,491.7L621.4,492.6L621.9,493.5L622.3,494.4L622.6,495.2L623.0,496.0L623.3,496.7L623.6,497.3L623.9,497.8L624.1,498.3L624.4,498.8L624.6,499.2L624.7,499.5L624.9,499.8L625.0,500.0"/><path d="M567.5,500.0L568.1,499.5L569.0,498.9L570.0,498.1L571.1,497.3L572.3,496.5L573.5,495.6L574.7,494.8L575.8,494.2L576.8,493.6L577.9,493.1L578.9,492.6L580.0,492.1L581.1,491.7L582.1,491.3L583.2,491.0L584.2,490.8L585.2,490.7L586.3,490.6L587.3,490.7L588.4,490.8L589.4,490.9L590.4,491.1L591.5,491.4L592.5,491.7L593.6,492.1L594.6,492.5L595.7,493.0L596.8,493.5L597.9,494.1L598.9,494.7L599.9,495.3L600.8,495.8L601.7,496.3L602.6,496.9L603.4,497.6L604.3,498.2L605.0,498.7L605.7,499.2L606.3,499.7L606.7,500.0"/><path d="M640.8,456.7L641.6,456.7L642.7,456.7L644.0,456.8L645.5,456.8L647.0,456.8L648.6,456.8L650.2,456.8L651.7,456.7L653.2,456.6L654.8,456.4L656.5,456.2L658.1,456.0L659.7,455.8L661.3,455.5L662.8,455.3L664.2,455.0L665.4,454.7L666.6,454.3L667.6,453.9L668.6,453.5L669.6,453.1L670.5,452.8L671.5,452.6L672.5,452.5L673.5,452.6L674.6,452.8L675.6,453.1L676.6,453.5L677.7,453.9L678.7,454.3L679.8,454.7L680.8,455.0L681.8,455.3L682.9,455.5L683.9,455.8L685.0,456.0L686.1,456.2L687.1,456.4L688.2,456.6L689.2,456.7L690.2,456.8L691.3,456.8L692.3,456.8L693.4,456.8L694.4,456.7L695.4,456.7L696.5,456.7L697.5,456.7L698.5,456.8L699.6,456.9L700.7,457.0L701.7,457.1L702.8,457.2L703.8,457.3L704.8,457.4L705.8,457.5L706.8,457.5L707.9,457.6L708.9,457.6L710.0,457.6L710.9,457.5L711.8,457.5L712.5,457.5L713.1,457.5"/><path d="M679.2,445.0L679.6,445.2L680.2,445.5L680.8,445.9L681.6,446.3L682.4,446.7L683.2,447.2L684.1,447.7L685.0,448.3L685.9,448.9L686.9,449.7L687.9,450.4L689.0,451.3L690.1,452.1L691.2,452.8L692.2,453.6L693.3,454.2L694.3,454.7L695.3,455.2L696.3,455.7L697.3,456.1L698.3,456.5L699.4,456.8L700.5,457.2L701.7,457.5L703.1,457.8L704.6,458.1L706.3,458.3L707.9,458.6L709.5,458.8L711.0,458.9L712.2,459.1L713.1,459.2"/><path d="M651.7,479.2L652.3,478.6L653.2,477.9L654.2,476.9L655.3,475.9L656.5,474.8L657.7,473.8L658.9,472.7L660.0,471.7L661.1,470.7L662.2,469.7L663.3,468.6L664.4,467.6L665.5,466.6L666.5,465.7L667.5,464.9L668.3,464.2L669.0,463.7L669.5,463.4L670.0,463.2L670.4,463.0L670.8,462.9L671.3,462.8L671.8,462.7L672.5,462.5L673.3,462.2L674.3,461.9L675.3,461.5L676.4,461.1L677.5,460.7L678.6,460.4L679.7,460.2L680.8,460.0L681.8,459.9L682.9,459.9L683.9,460.0L685.0,460.1L686.1,460.2L687.1,460.4L688.2,460.6L689.2,460.8L690.2,461.0L691.1,461.4L692.0,461.7L692.9,462.1L693.9,462.5L694.9,462.8L696.1,463.1L697.5,463.3L699.2,463.4L701.3,463.5L703.5,463.5L705.8,463.5L708.1,463.4L710.1,463.4L711.8,463.3L713.1,463.3"/><path d="M655.8,498.3L656.1,497.6L656.6,496.7L657.1,495.6L657.6,494.3L658.2,493.0L658.9,491.7L659.4,490.4L660.0,489.2L660.5,488.0L661.1,486.9L661.6,485.7L662.1,484.6L662.6,483.4L663.2,482.2L663.7,481.1L664.2,480.0L664.7,478.9L665.2,477.8L665.7,476.8L666.3,475.7L666.8,474.7L667.3,473.6L667.8,472.7L668.3,471.7L668.8,470.8L669.2,469.8L669.7,468.9L670.1,468.0L670.6,467.2L671.2,466.4L671.8,465.7L672.5,465.0L673.3,464.4L674.3,463.8L675.3,463.3L676.4,462.9L677.5,462.5L678.6,462.2L679.7,461.9L680.8,461.7L681.8,461.6L682.9,461.6L683.9,461.6L685.0,461.7L686.1,461.8L687.1,462.0L688.2,462.3L689.2,462.5L690.2,462.8L691.3,463.2L692.3,463.6L693.4,464.1L694.4,464.6L695.4,465.0L696.5,465.4L697.5,465.8L698.5,466.1L699.6,466.4L700.7,466.6L701.7,466.9L702.8,467.1L703.8,467.2L704.8,467.4L705.8,467.5L706.8,467.6L707.9,467.6L708.9,467.6L710.0,467.6L710.9,467.6L711.8,467.5L712.5,467.5L713.1,467.5"/><path d="M640.0,489.0L640.9,488.7L642.2,488.3L643.7,487.8L645.3,487.3L647.0,486.7L648.7,486.1L650.3,485.5L651.7,485.0L652.9,484.5L654.0,484.0L655.1,483.4L656.1,482.9L657.0,482.4L658.0,481.8L659.0,481.3L660.0,480.8L661.0,480.3L662.1,479.8L663.1,479.2L664.1,478.7L665.2,478.2L666.2,477.7L667.3,477.2L668.3,476.7L669.3,476.2L670.4,475.8L671.4,475.3L672.5,474.9L673.6,474.5L674.6,474.1L675.7,473.7L676.7,473.3L677.7,472.9L678.8,472.6L679.8,472.3L680.9,471.9L681.9,471.6L682.9,471.3L684.0,471.1L685.0,470.8L686.0,470.6L686.8,470.3L687.6,470.1L688.4,469.9L689.3,469.7L690.4,469.5L691.7,469.4L693.3,469.2L695.4,469.0L697.9,468.9L700.8,468.8L703.7,468.6L706.6,468.5L709.3,468.4L711.5,468.4L713.1,468.3"/><path d="M635.0,497.5L635.6,497.7L636.5,497.9L637.5,498.2L638.6,498.5L639.8,498.8L641.0,499.0L642.2,499.2L643.3,499.2L644.3,499.1L645.4,499.0L646.4,498.8L647.5,498.5L648.6,498.1L649.6,497.7L650.7,497.2L651.7,496.7L652.8,496.1L653.8,495.3L654.9,494.4L656.0,493.5L657.0,492.6L658.0,491.7L659.0,490.8L660.0,490.0L660.9,489.3L661.7,488.6L662.5,487.9L663.2,487.2L664.0,486.6L664.8,486.0L665.7,485.5L666.7,485.0L667.8,484.6L669.0,484.3L670.3,484.0L671.6,483.8L672.9,483.7L674.2,483.5L675.5,483.4L676.7,483.3L677.8,483.2L678.9,483.2L679.9,483.2L681.0,483.3L682.0,483.3L683.0,483.4L684.0,483.4L685.0,483.3L686.0,483.2L687.1,483.0L688.1,482.9L689.1,482.7L690.2,482.4L691.2,482.2L692.3,482.0L693.3,481.7L694.3,481.4L695.3,481.1L696.3,480.8L697.3,480.4L698.3,480.1L699.4,479.7L700.5,479.4L701.7,479.2L703.1,479.0L704.6,478.8L706.3,478.7L707.9,478.6L709.5,478.5L711.0,478.4L712.2,478.4L713.1,478.3"/><path d="M675.0,500.0L675.4,499.5L676.0,498.9L676.6,498.1L677.4,497.3L678.2,496.5L679.0,495.6L679.9,494.8L680.8,494.2L681.7,493.7L682.6,493.2L683.6,492.8L684.6,492.4L685.6,492.0L686.8,491.6L687.9,491.2L689.2,490.8L690.6,490.3L692.1,489.8L693.6,489.3L695.3,488.8L696.9,488.3L698.6,487.7L700.2,487.2L701.7,486.7L703.3,486.2L704.9,485.6L706.6,484.9L708.2,484.3L709.7,483.8L711.1,483.3L712.2,482.8L713.1,482.5"/><path d="M678.3,500.0L678.8,499.4L679.5,498.7L680.3,497.8L681.2,496.8L682.2,495.7L683.2,494.8L684.1,493.9L685.0,493.3L685.8,492.8L686.6,492.4L687.4,492.0L688.3,491.8L689.1,491.6L689.9,491.5L690.8,491.5L691.7,491.7L692.7,492.0L693.8,492.5L694.9,493.2L696.0,493.9L697.1,494.7L698.2,495.4L699.1,496.1L700.0,496.7L700.7,497.2L701.4,497.7L702.1,498.2L702.6,498.7L703.1,499.1L703.5,499.4L703.9,499.8L704.2,500.0"/><path d="M559.5,504.2L560.1,503.9L561.0,503.5L561.9,503.1L563.0,502.5L564.2,502.0L565.4,501.4L566.6,500.7L567.7,500.1L568.8,499.4L569.9,498.6L571.0,497.8L572.1,496.9L573.2,496.1L574.4,495.2L575.5,494.5L576.6,493.9L577.7,493.4L578.8,492.9L579.9,492.5L581.0,492.1L582.1,491.8L583.2,491.6L584.3,491.4L585.4,491.2L586.5,491.2L587.6,491.1L588.7,491.2L589.8,491.2L591.0,491.4L592.1,491.5L593.2,491.8L594.3,492.1L595.4,492.4L596.4,492.7L597.4,493.1L598.4,493.5L599.4,494.0L600.5,494.7L601.7,495.6L603.1,496.6L604.6,497.9L606.3,499.4L608.1,501.0L610.0,502.8L611.9,504.7L613.8,506.7L615.6,508.7L617.3,510.7L618.9,512.7L620.6,514.9L622.1,517.1L623.7,519.3L625.2,521.6L626.7,523.9L628.2,526.1L629.7,528.4L631.2,530.8L632.8,533.3L634.4,536.0L636.0,538.6L637.5,541.0L638.8,543.2L640.0,545.1L640.8,546.5"/><path d="M588.0,491.3L588.5,491.3L589.1,491.2L589.8,491.1L590.6,491.0L591.5,491.0L592.4,491.0L593.3,491.1L594.3,491.3L595.2,491.5L596.2,491.8L597.2,492.1L598.2,492.5L599.3,492.9L600.5,493.6L601.7,494.4L603.1,495.4L604.6,496.7L606.3,498.1L608.1,499.8L610.0,501.6L611.9,503.5L613.8,505.5L615.6,507.5L617.3,509.5L618.9,511.5L620.6,513.7L622.1,515.9L623.7,518.1L625.2,520.4L626.7,522.8L628.2,525.1L629.7,527.4L631.2,529.9L632.8,532.5L634.4,535.3L636.0,538.1L637.5,540.7L638.8,543.0L640.0,545.0L640.8,546.5"/><path d="M617.5,488.0L617.7,488.3L617.9,488.7L618.1,489.1L618.4,489.6L618.8,490.3L619.1,491.0L619.6,491.9L620.0,493.0L620.5,494.2L621.0,495.6L621.5,497.2L622.1,498.8L622.8,500.6L623.5,502.5L624.2,504.6L625.0,506.7L625.9,509.0L626.9,511.6L627.9,514.4L629.0,517.2L630.1,520.1L631.2,523.0L632.3,525.7L633.3,528.3L634.3,530.9L635.4,533.5L636.5,536.2L637.6,538.8L638.6,541.2L639.5,543.3L640.2,545.1L640.8,546.5"/><path d="M663.0,487.0L662.9,487.1L662.9,487.2L662.8,487.3L662.8,487.5L662.6,487.7L662.4,488.2L662.1,488.9L661.7,490.0L661.1,491.4L660.4,493.1L659.6,495.0L658.7,497.2L657.7,499.5L656.8,501.9L655.9,504.3L655.0,506.7L654.2,509.2L653.3,511.8L652.5,514.6L651.7,517.4L650.9,520.2L650.0,523.0L649.2,525.7L648.3,528.3L647.3,530.9L646.3,533.5L645.2,536.2L644.1,538.8L643.1,541.2L642.2,543.3L641.4,545.1L640.8,546.5"/><path d="M640.8,546.5L641.9,545.0L643.3,542.9L645.0,540.5L646.9,537.9L648.9,535.0L650.9,532.1L653.0,529.3L655.0,526.7L657.0,524.1L659.2,521.4L661.4,518.7L663.7,516.0L665.9,513.3L668.1,510.9L670.0,508.6L671.7,506.7L673.1,505.1L674.4,503.7L675.4,502.6L676.4,501.7L677.3,500.8L678.1,500.1L679.0,499.3L680.0,498.5L681.0,497.7L682.1,496.9L683.1,496.2L684.1,495.6L685.2,495.0L686.2,494.4L687.3,493.8L688.3,493.3L689.4,492.8L690.4,492.3L691.5,491.9L692.6,491.5L693.6,491.1L694.7,490.8L695.7,490.4L696.7,490.0L697.7,489.6L698.8,489.2L699.8,488.7L700.9,488.3L701.8,487.9L702.7,487.5L703.4,487.2L704.0,487.0"/><path d="M640.8,546.5L641.9,544.9L643.3,542.7L645.0,540.1L646.9,537.2L648.9,534.2L650.9,531.2L653.0,528.2L655.0,525.5L657.0,522.9L659.2,520.1L661.4,517.4L663.7,514.7L665.9,512.1L668.1,509.6L670.0,507.4L671.7,505.5L673.1,503.9L674.4,502.6L675.4,501.5L676.4,500.6L677.3,499.8L678.1,499.0L679.0,498.3L680.0,497.5L681.0,496.7L682.1,496.0L683.1,495.3L684.1,494.6L685.2,494.0L686.2,493.4L687.3,492.8L688.3,492.3L689.4,491.8L690.6,491.3L691.8,490.8L693.0,490.3L694.2,489.9L695.2,489.5L696.1,489.2L696.7,489.0"/><path d="M680.0,495.0L680.6,494.8L681.5,494.4L682.5,494.0L683.6,493.6L684.8,493.2L686.0,492.8L687.2,492.6L688.3,492.5L689.3,492.6L690.4,492.7L691.4,493.0L692.5,493.3L693.6,493.7L694.6,494.1L695.7,494.5L696.7,495.0L697.7,495.5L698.8,496.1L699.8,496.7L700.9,497.3L701.9,498.0L702.9,498.7L704.0,499.4L705.0,500.0L706.1,500.7L707.2,501.4L708.4,502.1L709.6,502.8L710.7,503.5L711.6,504.1L712.5,504.6L713.1,505.0"/><path d="M617.0,490.0L617.3,490.2L617.8,490.6L618.3,491.0L618.8,491.4L619.5,491.9L620.2,492.3L620.9,492.8L621.7,493.3L622.5,493.8L623.5,494.3L624.4,494.9L625.5,495.5L626.5,496.0L627.7,496.5L628.8,497.1L630.0,497.5L631.2,497.9L632.5,498.4L633.9,498.8L635.2,499.2L636.6,499.6L638.0,499.8L639.4,500.0L640.8,500.0L642.2,499.9L643.6,499.6L645.1,499.3L646.5,498.8L647.9,498.3L649.3,497.8L650.5,497.2L651.7,496.7L652.8,496.1L653.7,495.5L654.6,494.8L655.5,494.1L656.2,493.4L657.0,492.8L657.7,492.2L658.3,491.7L658.9,491.3L659.5,491.0L660.0,490.7L660.4,490.5L660.8,490.4L661.2,490.2L661.5,490.1L661.7,490.0"/></g>
<defs><clipPath id="dc"><rect x="729.4" y="162.2" width="134.5" height="402.6"/></clipPath></defs><g clip-path="url(#dc)" fill="none" stroke-linejoin="round"><path d="M732.0,300.0L733.0,340.0L735.0,375.0L738.0,400.0L734.0,440.0L733.8,483.3L736.7,489.2L748.3,493.5L742.5,499.4L733.8,503.8L764.2,503.3L735.0,504.2L733.3,515.8L735.0,520.0L731.7,524.2L730.5,535.0" stroke="#1f77b4" stroke-width="2.8"/><path d="M733.0,186.0L734.0,220.0L733.5,260.0L734.0,300.0L735.0,340.0L736.0,380.0L745.0,398.0L762.9,404.9L748.0,410.0L746.9,426.5L750.0,440.0L745.0,455.0L761.5,467.3L780.4,466.9L765.0,468.0L778.0,469.0L758.5,470.0L765.8,476.8L775.0,477.5L766.0,479.0L771.7,480.4L765.0,481.5L754.2,487.7L757.1,493.5L755.8,495.0L750.0,499.2L740.0,504.2L735.8,511.7L731.0,525.0L730.0,540.0" stroke="#ff7f0e" stroke-width="2.8"/><path d="M731.0,185.0L731.0,250.0L731.5,300.0L732.0,350.0L733.0,395.0L754.2,402.7L746.9,408.5L754.2,427.9L746.9,439.6L751.2,448.3L742.5,452.7L757.1,454.2L746.9,459.3L761.5,464.4L749.8,468.0L757.1,471.7L805.0,473.5L776.0,474.5L801.0,475.5L772.0,476.5L792.0,477.5L770.0,478.5L786.0,479.5L776.0,480.5L796.5,483.5L775.0,484.5L761.5,486.3L746.9,492.1L741.7,499.2L736.7,505.8L733.3,515.8L731.7,524.2L730.8,532.5L729.8,546.0" stroke="#2ca02c" stroke-width="2.8"/><path d="M730.0,184.0L734.0,195.0L739.6,201.4L776.0,205.0L853.3,206.0L792.0,206.6L835.0,207.0L783.3,207.9L746.9,210.8L741.0,213.7L737.0,222.0L746.9,228.3L761.5,231.3L742.5,237.1L768.8,244.4L796.5,245.1L757.1,247.3L768.8,251.0L746.9,253.1L741.0,257.5L745.0,262.0L752.0,266.0L740.0,270.0L736.0,280.0L737.0,290.0L735.0,300.0L734.0,320.0L733.0,340.0L733.0,360.0L734.0,380.0L733.0,400.0L734.0,415.0L739.6,425.0L754.2,430.8L773.1,433.8L746.9,436.7L741.0,439.6L754.2,444.0L742.5,446.9L739.6,451.3L795.0,457.1L762.0,457.8L788.0,458.6L754.2,459.5L764.4,462.2L742.5,467.3L733.8,471.7L733.0,490.0L734.5,498.0L732.0,510.0L730.5,530.0L729.6,546.5" stroke="#d62728" stroke-width="2.8"/><path d="M732.0,190.0L736.0,205.0L740.0,215.0L741.0,225.0L742.0,240.0L742.0,252.0L739.6,260.8L745.4,262.3L755.6,271.0L739.6,274.0L736.0,285.0L735.0,300.0L736.0,315.0L760.0,322.8L739.6,325.0L736.0,335.0L736.0,345.0L738.1,353.9L774.6,355.3L761.5,358.2L812.5,361.9L754.2,364.1L740.0,370.0L738.0,380.0L802.3,391.8L739.6,395.4L737.0,410.0L736.7,425.0L735.0,450.0L735.0,470.0L733.0,490.0L732.0,510.0" stroke="#9467bd" stroke-width="2.8"/><path d="M730.8,184.6L744.0,189.7L738.1,191.9L738.1,199.2L739.6,204.3L748.3,207.2L739.6,209.4L736.7,213.7L739.6,219.6L751.2,224.7L741.0,227.6L733.8,231.3L736.7,240.0L733.8,245.8L736.7,251.7L734.0,262.0L735.0,275.0L735.6,288.4L779.2,289.8L763.8,291.9L775.0,292.2L751.1,295.5L744.0,301.1L779.2,304.6L758.1,308.1L748.3,313.8L748.3,318.0L755.3,320.8L760.9,322.2L751.1,323.7L737.0,326.5L734.2,329.3L735.2,332.0L733.8,340.0L739.6,354.6L733.8,369.2L739.6,382.3L735.2,391.0L738.1,405.6L758.5,421.0L744.0,426.5L736.7,432.3L745.4,444.0L733.8,451.3L742.5,461.5L735.2,470.2L739.6,474.6L733.8,487.7L732.3,498.0L731.0,515.0L730.0,530.0" stroke="#8c564b" stroke-width="2.8"/><path d="M730.5,184.0L733.8,186.0L735.2,191.9L733.8,199.2L744.0,208.6L735.2,213.7L739.6,219.6L736.7,228.3L744.0,232.7L735.2,238.5L746.9,248.8L736.7,254.6L739.6,260.8L754.2,268.1L736.7,274.0L734.2,280.0L731.4,284.2L735.6,288.4L731.4,289.8L732.8,301.1L752.5,304.6L735.6,305.3L732.8,312.3L731.4,316.6L734.2,320.8L753.9,322.2L735.6,325.0L731.4,329.3L738.4,332.7L752.5,336.3L753.9,340.0L771.7,344.4L761.5,348.8L768.8,354.6L739.6,359.0L768.8,369.9L742.5,373.5L811.0,382.3L739.6,386.7L761.5,389.6L739.6,395.4L751.2,407.1L733.8,415.8L732.3,425.0L732.3,470.0L731.5,500.0L730.5,530.0" stroke="#e377c2" stroke-width="2.8"/><path d="M729.6,182.5L730.8,183.9L758.5,189.0L749.8,193.3L749.8,197.0L776.0,203.5L870.0,206.5L755.6,210.8L780.4,213.7L765.8,218.1L768.8,221.0L799.4,224.7L762.9,228.3L796.5,231.3L762.9,237.1L841.7,245.8L797.9,247.3L814.0,251.0L783.3,255.0L765.8,257.2L771.7,261.6L768.8,265.2L811.0,269.6L806.7,271.0L768.8,274.0L765.8,276.9L733.8,281.3L732.3,284.2L736.7,287.8L809.6,290.0L793.5,291.5L806.7,293.6L754.2,301.7L816.9,304.6L786.3,305.3L754.2,316.3L814.0,322.8L746.9,326.5L745.4,330.8L802.3,334.5L776.0,339.6L806.7,344.2L787.7,353.9L849.0,355.3L795.0,358.2L846.0,361.9L783.3,366.3L870.0,370.6L774.6,372.1L821.3,377.2L758.5,379.4L870.0,382.3L758.5,385.2L859.2,391.8L768.8,395.4L795.0,399.8L837.3,404.9L819.8,406.4L770.2,417.3L821.3,420.9L806.7,423.9L827.1,426.0L812.5,427.9L799.4,431.6L850.4,433.8L774.6,439.6L818.3,444.0L792.1,446.1L819.8,448.3L783.3,451.3L815.4,454.2L870.0,456.4L803.8,459.3L849.0,462.2L808.1,466.0L870.0,468.8L814.0,473.1L870.0,475.3L831.5,477.5L870.0,480.4L835.8,483.3L797.9,490.6L803.8,493.5L801.7,495.0L783.3,500.0L791.7,503.3L758.3,504.2L745.8,513.3L733.3,525.0L730.8,532.5L730.4,538.3L729.6,546.5" stroke="#000" stroke-width="1.4" stroke-dasharray="1.4 1.5"/></g>
<rect x="120.0" y="162.2" width="22.30" height="402.60" fill="none" stroke="#000" stroke-width="2"/>
<path d="M120.0,546.50h7.4M142.3,546.50h-7.4M120.0,469.60h7.4M142.3,469.60h-7.4M120.0,392.70h7.4M142.3,392.70h-7.4M120.0,315.80h7.4M142.3,315.80h-7.4M120.0,238.90h7.4M142.3,238.90h-7.4M120.0,162.00h7.4M142.3,162.00h-7.4M120.0,564.8v-7.4M120.0,162.2v7.4M142.3,564.8v-7.4M142.3,162.2v7.4" stroke="#000" stroke-width="2" fill="none"/>
<rect x="159.2" y="162.2" width="319.20" height="402.60" fill="none" stroke="#000" stroke-width="2"/>
<path d="M159.2,546.50h7.4M478.4,546.50h-7.4M159.2,469.60h7.4M478.4,469.60h-7.4M159.2,392.70h7.4M478.4,392.70h-7.4M159.2,315.80h7.4M478.4,315.80h-7.4M159.2,238.90h7.4M478.4,238.90h-7.4M159.2,162.00h7.4M478.4,162.00h-7.4M159.2,564.8v-7.4M159.2,162.2v7.4M177.75,564.8v-7.4M177.75,162.2v7.4M316.6,564.8v-7.4M316.6,162.2v7.4M458.5,564.8v-7.4M458.5,162.2v7.4M478.4,564.8v-7.4M478.4,162.2v7.4" stroke="#000" stroke-width="2" fill="none"/>
<rect x="495.1" y="162.2" width="47.70" height="402.60" fill="none" stroke="#000" stroke-width="2"/>
<path d="M495.1,546.50h7.4M542.8,546.50h-7.4M495.1,469.60h7.4M542.8,469.60h-7.4M495.1,392.70h7.4M542.8,392.70h-7.4M495.1,315.80h7.4M542.8,315.80h-7.4M495.1,238.90h7.4M542.8,238.90h-7.4M495.1,162.00h7.4M542.8,162.00h-7.4M495.1,564.8v-7.4M495.1,162.2v7.4M516.3,564.8v-7.4M516.3,162.2v7.4M542.8,564.8v-7.4M542.8,162.2v7.4" stroke="#000" stroke-width="2" fill="none"/>
<rect x="559.5" y="162.2" width="153.60" height="402.60" fill="none" stroke="#000" stroke-width="2"/>
<path d="M559.5,546.50h7.4M713.1,546.50h-7.4M559.5,469.60h7.4M713.1,469.60h-7.4M559.5,392.70h7.4M713.1,392.70h-7.4M559.5,315.80h7.4M713.1,315.80h-7.4M559.5,238.90h7.4M713.1,238.90h-7.4M559.5,162.00h7.4M713.1,162.00h-7.4M559.5,564.8v-7.4M559.5,162.2v7.4M640.8,564.8v-7.4M640.8,162.2v7.4M713.1,564.8v-7.4M713.1,162.2v7.4" stroke="#000" stroke-width="2" fill="none"/>
<rect x="729.4" y="162.2" width="134.50" height="402.60" fill="none" stroke="#000" stroke-width="2"/>
<path d="M729.4,546.50h7.4M863.9,546.50h-7.4M729.4,469.60h7.4M863.9,469.60h-7.4M729.4,392.70h7.4M863.9,392.70h-7.4M729.4,315.80h7.4M863.9,315.80h-7.4M729.4,238.90h7.4M863.9,238.90h-7.4M729.4,162.00h7.4M863.9,162.00h-7.4M729.4,564.8v-7.4M729.4,162.2v7.4M796.8,564.8v-7.4M796.8,162.2v7.4M863.9,564.8v-7.4M863.9,162.2v7.4" stroke="#000" stroke-width="2" fill="none"/>
<line x1="121.2" y1="546.5" x2="141.3" y2="546.5" stroke="#0000ff" stroke-width="1.3" stroke-dasharray="1.2 1.5"/>
<line x1="160.39999999999998" y1="546.5" x2="477.4" y2="546.5" stroke="#0000ff" stroke-width="1.3" stroke-dasharray="1.2 1.5"/>
<line x1="496.3" y1="546.5" x2="541.8" y2="546.5" stroke="#0000ff" stroke-width="1.3" stroke-dasharray="1.2 1.5"/>
<line x1="560.7" y1="546.5" x2="712.1" y2="546.5" stroke="#0000ff" stroke-width="1.3" stroke-dasharray="1.2 1.5"/>
<text x="110.39999999999999" y="554.20" text-anchor="end" class="t" letter-spacing="-1.3">0</text>
<text x="111.1" y="478.30" text-anchor="end" class="t" letter-spacing="-1.3">5</text>
<text x="111.1" y="401.40" text-anchor="end" class="t" letter-spacing="-1.3">10</text>
<text x="110.5" y="323.80" text-anchor="end" class="t" letter-spacing="-1.3">15</text>
<text x="110.5" y="246.60" text-anchor="end" class="t" letter-spacing="-1.3">20</text>
<text x="111.1" y="170.70" text-anchor="end" class="t" letter-spacing="-1.3">25</text>
<text transform="translate(73.6,364.0) rotate(-90)" text-anchor="middle" class="t">Frequency (THz)</text>
<text x="120.0" y="588.0" text-anchor="middle" class="t">Γ</text>
<text x="142.3" y="588.0" text-anchor="middle" class="t">C</text>
<text x="159.2" y="588.0" text-anchor="middle" class="t">C<tspan class="s" dy="4">2</tspan></text>
<text x="177.75" y="588.0" text-anchor="middle" class="t">Y<tspan class="s" dy="4">2</tspan></text>
<text x="316.6" y="588.0" text-anchor="middle" class="t">Γ</text>
<text x="458.5" y="588.0" text-anchor="middle" class="t">M<tspan class="s" dy="4">2</tspan></text>
<text x="478.4" y="588.0" text-anchor="middle" class="t">D</text>
<text x="495.1" y="588.0" text-anchor="middle" class="t">D<tspan class="s" dy="4">2</tspan></text>
<text x="516.3" y="588.0" text-anchor="middle" class="t">A</text>
<text x="542.8" y="588.0" text-anchor="middle" class="t">Γ</text>
<text x="559.5" y="588.0" text-anchor="middle" class="t">L<tspan class="s" dy="4">2</tspan></text>
<text x="640.8" y="588.0" text-anchor="middle" class="t">Γ</text>
<text x="713.1" y="588.0" text-anchor="middle" class="t">V<tspan class="s" dy="4">2</tspan></text>
<text x="729.4" y="588.0" text-anchor="middle" class="t">0</text>
<text x="796.8" y="588.0" text-anchor="middle" class="t">2</text>
</svg>
</body></html>
